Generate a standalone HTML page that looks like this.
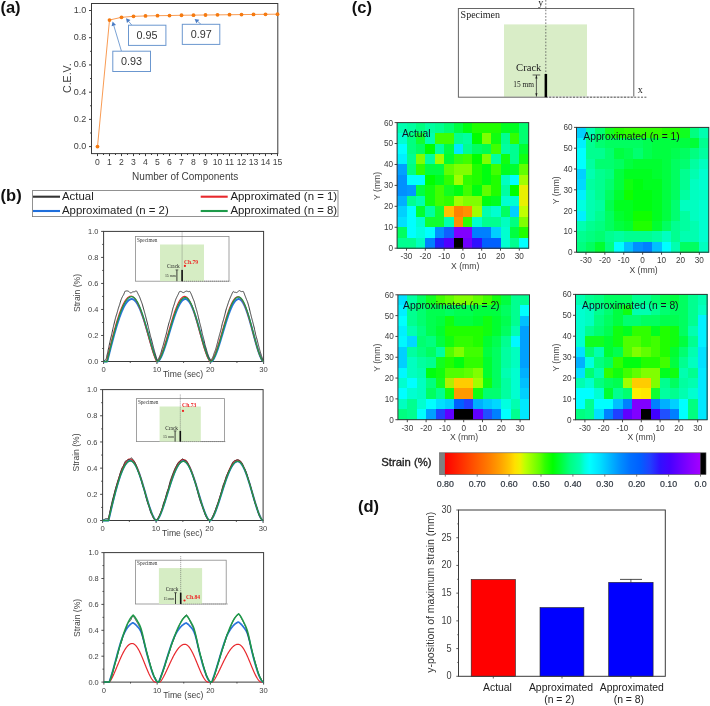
<!DOCTYPE html>
<html><head><meta charset="utf-8"><style>html,body{margin:0;padding:0;background:#fff;}svg{display:block;will-change:transform;font-family:"Liberation Sans",sans-serif;}</style></head>
<body><svg width="710" height="706" viewBox="0 0 710 706" font-family="Liberation Sans, sans-serif">
<rect width="710" height="706" fill="#fff"/>
<text x="0.4" y="12.8" font-size="15.75" font-weight="bold" fill="#111" transform="translate(0.4,0) scale(1.05,1) translate(-0.4,0)">(a)</text>
<rect x="91.5" y="3.5" width="186.3" height="150.1" fill="none" stroke="#3a3a3a" stroke-width="1"/>
<line x1="89.0" y1="146.60" x2="91.5" y2="146.60" stroke="#3a3a3a" stroke-width="1"/>
<text x="86.2" y="149.10" font-size="9.0" fill="#404040" text-anchor="end">0.0</text>
<line x1="90.1" y1="132.99" x2="91.5" y2="132.99" stroke="#3a3a3a" stroke-width="1"/>
<line x1="89.0" y1="119.38" x2="91.5" y2="119.38" stroke="#3a3a3a" stroke-width="1"/>
<text x="86.2" y="121.88" font-size="9.0" fill="#404040" text-anchor="end">0.2</text>
<line x1="90.1" y1="105.77" x2="91.5" y2="105.77" stroke="#3a3a3a" stroke-width="1"/>
<line x1="89.0" y1="92.16" x2="91.5" y2="92.16" stroke="#3a3a3a" stroke-width="1"/>
<text x="86.2" y="94.66" font-size="9.0" fill="#404040" text-anchor="end">0.4</text>
<line x1="90.1" y1="78.55" x2="91.5" y2="78.55" stroke="#3a3a3a" stroke-width="1"/>
<line x1="89.0" y1="64.94" x2="91.5" y2="64.94" stroke="#3a3a3a" stroke-width="1"/>
<text x="86.2" y="67.44" font-size="9.0" fill="#404040" text-anchor="end">0.6</text>
<line x1="90.1" y1="51.33" x2="91.5" y2="51.33" stroke="#3a3a3a" stroke-width="1"/>
<line x1="89.0" y1="37.72" x2="91.5" y2="37.72" stroke="#3a3a3a" stroke-width="1"/>
<text x="86.2" y="40.22" font-size="9.0" fill="#404040" text-anchor="end">0.8</text>
<line x1="90.1" y1="24.11" x2="91.5" y2="24.11" stroke="#3a3a3a" stroke-width="1"/>
<line x1="89.0" y1="10.50" x2="91.5" y2="10.50" stroke="#3a3a3a" stroke-width="1"/>
<text x="86.2" y="13.00" font-size="9.0" fill="#404040" text-anchor="end">1.0</text>
<line x1="97.50" y1="153.6" x2="97.50" y2="156.1" stroke="#3a3a3a" stroke-width="1"/>
<text x="97.50" y="165.3" font-size="8.6" fill="#404040" text-anchor="middle">0</text>
<line x1="103.50" y1="153.6" x2="103.50" y2="155.0" stroke="#3a3a3a" stroke-width="1"/>
<line x1="109.50" y1="153.6" x2="109.50" y2="156.1" stroke="#3a3a3a" stroke-width="1"/>
<text x="109.50" y="165.3" font-size="8.6" fill="#404040" text-anchor="middle">1</text>
<line x1="115.50" y1="153.6" x2="115.50" y2="155.0" stroke="#3a3a3a" stroke-width="1"/>
<line x1="121.50" y1="153.6" x2="121.50" y2="156.1" stroke="#3a3a3a" stroke-width="1"/>
<text x="121.50" y="165.3" font-size="8.6" fill="#404040" text-anchor="middle">2</text>
<line x1="127.50" y1="153.6" x2="127.50" y2="155.0" stroke="#3a3a3a" stroke-width="1"/>
<line x1="133.50" y1="153.6" x2="133.50" y2="156.1" stroke="#3a3a3a" stroke-width="1"/>
<text x="133.50" y="165.3" font-size="8.6" fill="#404040" text-anchor="middle">3</text>
<line x1="139.50" y1="153.6" x2="139.50" y2="155.0" stroke="#3a3a3a" stroke-width="1"/>
<line x1="145.50" y1="153.6" x2="145.50" y2="156.1" stroke="#3a3a3a" stroke-width="1"/>
<text x="145.50" y="165.3" font-size="8.6" fill="#404040" text-anchor="middle">4</text>
<line x1="151.50" y1="153.6" x2="151.50" y2="155.0" stroke="#3a3a3a" stroke-width="1"/>
<line x1="157.50" y1="153.6" x2="157.50" y2="156.1" stroke="#3a3a3a" stroke-width="1"/>
<text x="157.50" y="165.3" font-size="8.6" fill="#404040" text-anchor="middle">5</text>
<line x1="163.50" y1="153.6" x2="163.50" y2="155.0" stroke="#3a3a3a" stroke-width="1"/>
<line x1="169.50" y1="153.6" x2="169.50" y2="156.1" stroke="#3a3a3a" stroke-width="1"/>
<text x="169.50" y="165.3" font-size="8.6" fill="#404040" text-anchor="middle">6</text>
<line x1="175.50" y1="153.6" x2="175.50" y2="155.0" stroke="#3a3a3a" stroke-width="1"/>
<line x1="181.50" y1="153.6" x2="181.50" y2="156.1" stroke="#3a3a3a" stroke-width="1"/>
<text x="181.50" y="165.3" font-size="8.6" fill="#404040" text-anchor="middle">7</text>
<line x1="187.50" y1="153.6" x2="187.50" y2="155.0" stroke="#3a3a3a" stroke-width="1"/>
<line x1="193.50" y1="153.6" x2="193.50" y2="156.1" stroke="#3a3a3a" stroke-width="1"/>
<text x="193.50" y="165.3" font-size="8.6" fill="#404040" text-anchor="middle">8</text>
<line x1="199.50" y1="153.6" x2="199.50" y2="155.0" stroke="#3a3a3a" stroke-width="1"/>
<line x1="205.50" y1="153.6" x2="205.50" y2="156.1" stroke="#3a3a3a" stroke-width="1"/>
<text x="205.50" y="165.3" font-size="8.6" fill="#404040" text-anchor="middle">9</text>
<line x1="211.50" y1="153.6" x2="211.50" y2="155.0" stroke="#3a3a3a" stroke-width="1"/>
<line x1="217.50" y1="153.6" x2="217.50" y2="156.1" stroke="#3a3a3a" stroke-width="1"/>
<text x="217.50" y="165.3" font-size="8.6" fill="#404040" text-anchor="middle">10</text>
<line x1="223.50" y1="153.6" x2="223.50" y2="155.0" stroke="#3a3a3a" stroke-width="1"/>
<line x1="229.50" y1="153.6" x2="229.50" y2="156.1" stroke="#3a3a3a" stroke-width="1"/>
<text x="229.50" y="165.3" font-size="8.6" fill="#404040" text-anchor="middle">11</text>
<line x1="235.50" y1="153.6" x2="235.50" y2="155.0" stroke="#3a3a3a" stroke-width="1"/>
<line x1="241.50" y1="153.6" x2="241.50" y2="156.1" stroke="#3a3a3a" stroke-width="1"/>
<text x="241.50" y="165.3" font-size="8.6" fill="#404040" text-anchor="middle">12</text>
<line x1="247.50" y1="153.6" x2="247.50" y2="155.0" stroke="#3a3a3a" stroke-width="1"/>
<line x1="253.50" y1="153.6" x2="253.50" y2="156.1" stroke="#3a3a3a" stroke-width="1"/>
<text x="253.50" y="165.3" font-size="8.6" fill="#404040" text-anchor="middle">13</text>
<line x1="259.50" y1="153.6" x2="259.50" y2="155.0" stroke="#3a3a3a" stroke-width="1"/>
<line x1="265.50" y1="153.6" x2="265.50" y2="156.1" stroke="#3a3a3a" stroke-width="1"/>
<text x="265.50" y="165.3" font-size="8.6" fill="#404040" text-anchor="middle">14</text>
<line x1="271.50" y1="153.6" x2="271.50" y2="155.0" stroke="#3a3a3a" stroke-width="1"/>
<line x1="277.50" y1="153.6" x2="277.50" y2="156.1" stroke="#3a3a3a" stroke-width="1"/>
<text x="277.50" y="165.3" font-size="8.6" fill="#404040" text-anchor="middle">15</text>
<text x="185.2" y="180.3" font-size="10" fill="#404040" text-anchor="middle">Number of Components</text>
<text transform="translate(70.6,78.2) rotate(-90)" font-size="10.6" fill="#404040" text-anchor="middle">C.E.V.</text>
<polyline points="97.50,146.60 109.50,20.03 121.50,17.31 133.50,16.35 145.50,15.94 157.50,15.67 169.50,15.54 181.50,15.26 193.50,15.13 205.50,14.99 217.50,14.86 229.50,14.72 241.50,14.58 253.50,14.45 265.50,14.31 277.50,14.17" fill="none" stroke="#f79040" stroke-width="0.9"/>
<circle cx="97.50" cy="146.60" r="1.9" fill="#f57a10"/>
<circle cx="109.50" cy="20.03" r="1.9" fill="#f57a10"/>
<circle cx="121.50" cy="17.31" r="1.9" fill="#f57a10"/>
<circle cx="133.50" cy="16.35" r="1.9" fill="#f57a10"/>
<circle cx="145.50" cy="15.94" r="1.9" fill="#f57a10"/>
<circle cx="157.50" cy="15.67" r="1.9" fill="#f57a10"/>
<circle cx="169.50" cy="15.54" r="1.9" fill="#f57a10"/>
<circle cx="181.50" cy="15.26" r="1.9" fill="#f57a10"/>
<circle cx="193.50" cy="15.13" r="1.9" fill="#f57a10"/>
<circle cx="205.50" cy="14.99" r="1.9" fill="#f57a10"/>
<circle cx="217.50" cy="14.86" r="1.9" fill="#f57a10"/>
<circle cx="229.50" cy="14.72" r="1.9" fill="#f57a10"/>
<circle cx="241.50" cy="14.58" r="1.9" fill="#f57a10"/>
<circle cx="253.50" cy="14.45" r="1.9" fill="#f57a10"/>
<circle cx="265.50" cy="14.31" r="1.9" fill="#f57a10"/>
<circle cx="277.50" cy="14.17" r="1.9" fill="#f57a10"/>
<line x1="121.4" y1="51.0" x2="113.80" y2="25.62" stroke="#6b97cf" stroke-width="0.9"/>
<polygon points="112.6,21.6 116.01,24.96 111.60,26.28" fill="#4a7cc4"/>
<line x1="131.7" y1="25.0" x2="128.70" y2="21.42" stroke="#6b97cf" stroke-width="0.9"/>
<polygon points="126.0,18.2 130.46,19.94 126.94,22.90" fill="#4a7cc4"/>
<line x1="200.9" y1="24.2" x2="197.81" y2="21.60" stroke="#6b97cf" stroke-width="0.9"/>
<polygon points="194.6,18.9 199.29,19.84 196.33,23.36" fill="#4a7cc4"/>
<rect x="112.8" y="51.2" width="37.7" height="20.299999999999997" fill="#fff" stroke="#6b97cf" stroke-width="1"/>
<text x="120.9" y="65.1" font-size="10.8" fill="#333">0.93</text>
<rect x="128.5" y="25.2" width="37.400000000000006" height="20.2" fill="#fff" stroke="#6b97cf" stroke-width="1"/>
<text x="136.6" y="38.8" font-size="10.8" fill="#333">0.95</text>
<rect x="182.3" y="24.3" width="37.5" height="20.099999999999998" fill="#fff" stroke="#6b97cf" stroke-width="1"/>
<text x="190.8" y="37.8" font-size="10.8" fill="#333">0.97</text>
<text x="0.6" y="201.1" font-size="15.75" font-weight="bold" fill="#111" transform="translate(0.6,0) scale(1.05,1) translate(-0.6,0)">(b)</text>
<rect x="32.5" y="190.6" width="305.5" height="26" fill="#fff" stroke="#777" stroke-width="0.8"/>
<line x1="33" y1="196.7" x2="60" y2="196.7" stroke="#333333" stroke-width="2.1"/>
<text x="62" y="200.2" font-size="11.4" fill="#222">Actual</text>
<line x1="33" y1="211" x2="60" y2="211" stroke="#1f6fdc" stroke-width="2.1"/>
<text x="62" y="214.0" font-size="11.4" fill="#222">Approximated (n = 2)</text>
<line x1="200.7" y1="196.7" x2="227.7" y2="196.7" stroke="#e8282d" stroke-width="2.1"/>
<text x="230.4" y="200.2" font-size="11.4" fill="#222">Approximated (n = 1)</text>
<line x1="200.7" y1="211" x2="227.7" y2="211" stroke="#1e9a4a" stroke-width="2.1"/>
<text x="230.4" y="214.0" font-size="11.4" fill="#222">Approximated (n = 8)</text>
<rect x="103.6" y="231.4" width="160.00" height="130.10" fill="none" stroke="#3a3a3a" stroke-width="1"/>
<line x1="101.1" y1="361.50" x2="103.6" y2="361.50" stroke="#3a3a3a" stroke-width="0.9"/>
<text x="98.40" y="364.10" font-size="7.4" fill="#404040" text-anchor="end">0.0</text>
<line x1="102.19999999999999" y1="348.49" x2="103.6" y2="348.49" stroke="#3a3a3a" stroke-width="0.9"/>
<line x1="101.1" y1="335.48" x2="103.6" y2="335.48" stroke="#3a3a3a" stroke-width="0.9"/>
<text x="98.40" y="338.08" font-size="7.4" fill="#404040" text-anchor="end">0.2</text>
<line x1="102.19999999999999" y1="322.47" x2="103.6" y2="322.47" stroke="#3a3a3a" stroke-width="0.9"/>
<line x1="101.1" y1="309.46" x2="103.6" y2="309.46" stroke="#3a3a3a" stroke-width="0.9"/>
<text x="98.40" y="312.06" font-size="7.4" fill="#404040" text-anchor="end">0.4</text>
<line x1="102.19999999999999" y1="296.45" x2="103.6" y2="296.45" stroke="#3a3a3a" stroke-width="0.9"/>
<line x1="101.1" y1="283.44" x2="103.6" y2="283.44" stroke="#3a3a3a" stroke-width="0.9"/>
<text x="98.40" y="286.04" font-size="7.4" fill="#404040" text-anchor="end">0.6</text>
<line x1="102.19999999999999" y1="270.43" x2="103.6" y2="270.43" stroke="#3a3a3a" stroke-width="0.9"/>
<line x1="101.1" y1="257.42" x2="103.6" y2="257.42" stroke="#3a3a3a" stroke-width="0.9"/>
<text x="98.40" y="260.02" font-size="7.4" fill="#404040" text-anchor="end">0.8</text>
<line x1="102.19999999999999" y1="244.41" x2="103.6" y2="244.41" stroke="#3a3a3a" stroke-width="0.9"/>
<line x1="101.1" y1="231.40" x2="103.6" y2="231.40" stroke="#3a3a3a" stroke-width="0.9"/>
<text x="98.40" y="234.00" font-size="7.4" fill="#404040" text-anchor="end">1.0</text>
<line x1="103.60" y1="361.5" x2="103.60" y2="364.0" stroke="#3a3a3a" stroke-width="0.9"/>
<text x="103.60" y="372.20" font-size="7.6" fill="#404040" text-anchor="middle">0</text>
<line x1="130.27" y1="361.5" x2="130.27" y2="362.9" stroke="#3a3a3a" stroke-width="0.9"/>
<line x1="156.93" y1="361.5" x2="156.93" y2="364.0" stroke="#3a3a3a" stroke-width="0.9"/>
<text x="156.93" y="372.20" font-size="7.6" fill="#404040" text-anchor="middle">10</text>
<line x1="183.60" y1="361.5" x2="183.60" y2="362.9" stroke="#3a3a3a" stroke-width="0.9"/>
<line x1="210.27" y1="361.5" x2="210.27" y2="364.0" stroke="#3a3a3a" stroke-width="0.9"/>
<text x="210.27" y="372.20" font-size="7.6" fill="#404040" text-anchor="middle">20</text>
<line x1="236.93" y1="361.5" x2="236.93" y2="362.9" stroke="#3a3a3a" stroke-width="0.9"/>
<line x1="263.60" y1="361.5" x2="263.60" y2="364.0" stroke="#3a3a3a" stroke-width="0.9"/>
<text x="263.60" y="372.20" font-size="7.6" fill="#404040" text-anchor="middle">30</text>
<text x="162.93" y="377.30" font-size="8.6" fill="#404040">Time (sec)</text>
<text transform="translate(80.10,293.0) rotate(-90)" font-size="8.6" fill="#404040" text-anchor="middle">Strain (%)</text>
<rect x="135.4" y="236.5" width="93.60" height="44.70" fill="#fff" stroke="#8a8a8a" stroke-width="0.8"/>
<rect x="160.0" y="244.5" width="44.00" height="36.70" fill="#d6edc4"/>
<line x1="182.1" y1="232.5" x2="182.1" y2="281.2" stroke="#555" stroke-width="0.6" stroke-dasharray="1,1"/>
<line x1="182.1" y1="281.2" x2="230.5" y2="281.2" stroke="#555" stroke-width="0.6" stroke-dasharray="1,1"/>
<rect x="181.29999999999998" y="269.9" width="1.6" height="11.30" fill="#111"/>
<line x1="176.9" y1="269.9" x2="176.9" y2="281.2" stroke="#111" stroke-width="0.8"/>
<line x1="175.5" y1="269.9" x2="178.29999999999998" y2="269.9" stroke="#222" stroke-width="0.6"/>
<text x="136.9" y="241.8" font-family="Liberation Serif, serif" font-size="5.2" fill="#333">Specimen</text>
<text x="179.7" y="267.8" font-family="Liberation Serif, serif" font-size="5.3" fill="#222" text-anchor="end">Crack</text>
<text x="175.79999999999998" y="276.95" font-family="Liberation Serif, serif" font-size="3.9" fill="#222" text-anchor="end">15 mm</text>
<circle cx="184.9" cy="265.9" r="1.1" fill="#ee1c1c"/>
<text x="184.0" y="264.0" font-family="Liberation Serif, serif" font-size="5.6" fill="#ee2222" font-weight="bold">Ch.79</text>
<polyline points="103.60,361.50 103.87,361.50 104.13,361.50 104.40,361.50 104.67,361.50 104.93,361.50 105.20,361.50 105.47,361.50 105.73,361.50 106.00,361.50 106.27,361.50 106.53,361.50 106.80,361.50 107.07,361.50 107.33,361.07 107.60,360.01 107.87,358.94 108.13,357.88 108.40,356.81 108.67,355.75 108.93,354.69 109.20,353.63 109.47,352.57 109.73,351.52 110.00,350.47 110.27,349.42 110.53,348.38 110.80,347.34 111.07,346.30 111.33,345.27 111.60,344.24 111.87,343.22 112.13,342.20 112.40,341.19 112.67,340.19 112.93,339.19 113.20,338.19 113.47,337.21 113.73,336.23 114.00,335.26 114.27,334.30 114.53,333.34 114.80,332.39 115.07,331.45 115.33,330.52 115.60,329.60 115.87,328.69 116.13,327.79 116.40,326.89 116.67,326.01 116.93,325.14 117.20,324.28 117.47,323.43 117.73,322.59 118.00,321.76 118.27,320.94 118.53,320.14 118.80,319.35 119.07,318.57 119.33,317.80 119.60,317.04 119.87,316.30 120.13,315.57 120.40,314.86 120.67,314.15 120.93,313.46 121.20,312.79 121.47,312.13 121.73,311.48 122.00,310.85 122.27,310.24 122.53,309.64 122.80,309.05 123.07,308.48 123.33,307.92 123.60,307.38 123.87,306.86 124.13,306.35 124.40,305.86 124.67,305.38 124.93,304.92 125.20,304.48 125.47,304.05 125.73,303.64 126.00,303.25 126.27,302.88 126.53,302.52 126.80,302.17 127.07,301.85 127.33,301.54 127.60,301.25 127.87,300.98 128.13,300.73 128.40,300.49 128.67,300.27 128.93,300.07 129.20,299.89 129.47,299.72 129.73,299.58 130.00,299.45 130.27,299.34 130.53,299.24 130.80,299.17 131.07,299.11 131.33,299.08 131.60,299.06 131.87,299.05 132.13,299.07 132.40,299.12 132.67,299.18 132.93,299.27 133.20,299.37 133.47,299.50 133.73,299.66 134.00,299.83 134.27,300.02 134.53,300.24 134.80,300.48 135.07,300.74 135.33,301.02 135.60,301.32 135.87,301.65 136.13,301.99 136.40,302.35 136.67,302.74 136.93,303.14 137.20,303.57 137.47,304.01 137.73,304.47 138.00,304.96 138.27,305.46 138.53,305.98 138.80,306.52 139.07,307.07 139.33,307.65 139.60,308.24 139.87,308.85 140.13,309.47 140.40,310.12 140.67,310.78 140.93,311.45 141.20,312.14 141.47,312.84 141.73,313.56 142.00,314.29 142.27,315.04 142.53,315.80 142.80,316.57 143.07,317.36 143.33,318.15 143.60,318.96 143.87,319.78 144.13,320.61 144.40,321.45 144.67,322.30 144.93,323.16 145.20,324.03 145.47,324.90 145.73,325.78 146.00,326.67 146.27,327.57 146.53,328.47 146.80,329.38 147.07,330.29 147.33,331.21 147.60,332.13 147.87,333.05 148.13,333.97 148.40,334.90 148.67,335.83 148.93,336.75 149.20,337.68 149.47,338.61 149.73,339.53 150.00,340.46 150.27,341.38 150.53,342.29 150.80,343.20 151.07,344.11 151.33,345.01 151.60,345.90 151.87,346.79 152.13,347.67 152.40,348.53 152.67,349.39 152.93,350.24 153.20,351.07 153.47,351.89 153.73,352.70 154.00,353.49 154.27,354.26 154.53,355.02 154.80,355.75 155.07,356.47 155.33,357.16 155.60,357.82 155.87,358.46 156.13,359.06 156.40,359.63 156.67,360.15 156.93,360.63 157.20,361.05 157.47,361.38 157.73,361.48 158.00,361.37 158.27,361.19 158.53,360.96 158.80,360.69 159.07,360.37 159.33,360.02 159.60,359.63 159.87,359.21 160.13,358.77 160.40,358.29 160.67,357.79 160.93,357.26 161.20,356.71 161.47,356.13 161.73,355.53 162.00,354.91 162.27,354.27 162.53,353.62 162.80,352.94 163.07,352.24 163.33,351.53 163.60,350.81 163.87,350.06 164.13,349.31 164.40,348.54 164.67,347.76 164.93,346.96 165.20,346.16 165.47,345.34 165.73,344.52 166.00,343.68 166.27,342.84 166.53,341.99 166.80,341.13 167.07,340.27 167.33,339.40 167.60,338.52 167.87,337.64 168.13,336.76 168.40,335.88 168.67,334.99 168.93,334.10 169.20,333.22 169.47,332.33 169.73,331.44 170.00,330.55 170.27,329.67 170.53,328.78 170.80,327.90 171.07,327.03 171.33,326.15 171.60,325.29 171.87,324.42 172.13,323.57 172.40,322.72 172.67,321.88 172.93,321.04 173.20,320.22 173.47,319.40 173.73,318.59 174.00,317.80 174.27,317.01 174.53,316.24 174.80,315.47 175.07,314.72 175.33,313.98 175.60,313.25 175.87,312.54 176.13,311.84 176.40,311.16 176.67,310.49 176.93,309.84 177.20,309.20 177.47,308.58 177.73,307.97 178.00,307.39 178.27,306.82 178.53,306.26 178.80,305.73 179.07,305.21 179.33,304.72 179.60,304.24 179.87,303.78 180.13,303.34 180.40,302.92 180.67,302.52 180.93,302.15 181.20,301.79 181.47,301.45 181.73,301.14 182.00,300.85 182.27,300.57 182.53,300.32 182.80,300.10 183.07,299.89 183.33,299.71 183.60,299.55 183.87,299.41 184.13,299.29 184.40,299.20 184.67,299.13 184.93,299.08 185.20,299.06 185.47,299.05 185.73,299.08 186.00,299.13 186.27,299.20 186.53,299.31 186.80,299.43 187.07,299.59 187.33,299.77 187.60,299.97 187.87,300.20 188.13,300.46 188.40,300.74 188.67,301.05 188.93,301.38 189.20,301.73 189.47,302.11 189.73,302.52 190.00,302.95 190.27,303.40 190.53,303.87 190.80,304.37 191.07,304.89 191.33,305.43 191.60,305.99 191.87,306.57 192.13,307.17 192.40,307.80 192.67,308.44 192.93,309.11 193.20,309.79 193.47,310.49 193.73,311.20 194.00,311.94 194.27,312.69 194.53,313.46 194.80,314.24 195.07,315.04 195.33,315.85 195.60,316.68 195.87,317.52 196.13,318.37 196.40,319.23 196.67,320.10 196.93,320.99 197.20,321.88 197.47,322.78 197.73,323.70 198.00,324.61 198.27,325.54 198.53,326.47 198.80,327.41 199.07,328.35 199.33,329.30 199.60,330.24 199.87,331.19 200.13,332.15 200.40,333.10 200.67,334.05 200.93,335.01 201.20,335.96 201.47,336.90 201.73,337.85 202.00,338.79 202.27,339.72 202.53,340.65 202.80,341.58 203.07,342.49 203.33,343.40 203.60,344.30 203.87,345.18 204.13,346.06 204.40,346.92 204.67,347.78 204.93,348.61 205.20,349.44 205.47,350.24 205.73,351.04 206.00,351.81 206.27,352.56 206.53,353.30 206.80,354.01 207.07,354.71 207.33,355.38 207.60,356.02 207.87,356.64 208.13,357.24 208.40,357.81 208.67,358.34 208.93,358.85 209.20,359.32 209.47,359.76 209.73,360.16 210.00,360.52 210.27,360.84 210.53,361.11 210.80,361.32 211.07,361.46 211.33,361.48 211.60,361.37 211.87,361.19 212.13,360.95 212.40,360.67 212.67,360.35 212.93,359.99 213.20,359.60 213.47,359.18 213.73,358.72 214.00,358.24 214.27,357.73 214.53,357.19 214.80,356.63 215.07,356.05 215.33,355.44 215.60,354.81 215.87,354.16 216.13,353.50 216.40,352.81 216.67,352.10 216.93,351.38 217.20,350.65 217.47,349.89 217.73,349.13 218.00,348.35 218.27,347.55 218.53,346.75 218.80,345.93 219.07,345.11 219.33,344.27 219.60,343.42 219.87,342.57 220.13,341.71 220.40,340.84 220.67,339.97 220.93,339.09 221.20,338.20 221.47,337.32 221.73,336.43 222.00,335.53 222.27,334.64 222.53,333.74 222.80,332.84 223.07,331.94 223.33,331.05 223.60,330.15 223.87,329.26 224.13,328.37 224.40,327.48 224.67,326.60 224.93,325.72 225.20,324.85 225.47,323.98 225.73,323.12 226.00,322.27 226.27,321.42 226.53,320.58 226.80,319.75 227.07,318.94 227.33,318.13 227.60,317.33 227.87,316.54 228.13,315.76 228.40,315.00 228.67,314.25 228.93,313.51 229.20,312.79 229.47,312.08 229.73,311.38 230.00,310.70 230.27,310.04 230.53,309.39 230.80,308.76 231.07,308.14 231.33,307.54 231.60,306.96 231.87,306.40 232.13,305.85 232.40,305.33 232.67,304.82 232.93,304.34 233.20,303.87 233.47,303.42 233.73,303.00 234.00,302.59 234.27,302.21 234.53,301.84 234.80,301.50 235.07,301.18 235.33,300.88 235.60,300.60 235.87,300.35 236.13,300.12 236.40,299.91 236.67,299.72 236.93,299.56 237.20,299.42 237.47,299.30 237.73,299.20 238.00,299.13 238.27,299.08 238.53,299.06 238.80,299.05 239.07,299.08 239.33,299.13 239.60,299.22 239.87,299.33 240.13,299.46 240.40,299.63 240.67,299.82 240.93,300.04 241.20,300.29 241.47,300.57 241.73,300.87 242.00,301.20 242.27,301.56 242.53,301.94 242.80,302.35 243.07,302.79 243.33,303.25 243.60,303.73 243.87,304.24 244.13,304.77 244.40,305.33 244.67,305.91 244.93,306.51 245.20,307.14 245.47,307.79 245.73,308.45 246.00,309.14 246.27,309.85 246.53,310.58 246.80,311.33 247.07,312.10 247.33,312.88 247.60,313.68 247.87,314.50 248.13,315.33 248.40,316.18 248.67,317.05 248.93,317.92 249.20,318.81 249.47,319.72 249.73,320.63 250.00,321.55 250.27,322.49 250.53,323.43 250.80,324.38 251.07,325.34 251.33,326.31 251.60,327.28 251.87,328.26 252.13,329.24 252.40,330.23 252.67,331.21 252.93,332.20 253.20,333.19 253.47,334.18 253.73,335.17 254.00,336.16 254.27,337.14 254.53,338.12 254.80,339.10 255.07,340.07 255.33,341.03 255.60,341.98 255.87,342.93 256.13,343.87 256.40,344.79 256.67,345.71 256.93,346.61 257.20,347.50 257.47,348.37 257.73,349.23 258.00,350.08 258.27,350.90 258.53,351.71 258.80,352.49 259.07,353.26 259.33,354.00 259.60,354.72 259.87,355.42 260.13,356.09 260.40,356.73 260.67,357.34 260.93,357.92 261.20,358.47 261.47,358.99 261.73,359.47 262.00,359.91 262.27,360.31 262.53,360.67 262.80,360.98 263.07,361.23 263.33,361.41 263.60,361.50" fill="none" stroke="#2a74dc" stroke-width="2.0" stroke-linejoin="round"/>
<polyline points="103.60,361.50 103.87,361.50 104.13,361.50 104.40,361.50 104.67,361.50 104.93,361.50 105.20,361.50 105.47,361.50 105.73,361.50 106.00,361.50 106.27,361.50 106.53,361.50 106.80,360.38 107.07,359.27 107.33,358.16 107.60,357.04 107.87,355.93 108.13,354.82 108.40,353.71 108.67,352.61 108.93,351.50 109.20,350.40 109.47,349.31 109.73,348.21 110.00,347.12 110.27,346.04 110.53,344.96 110.80,343.88 111.07,342.81 111.33,341.74 111.60,340.68 111.87,339.63 112.13,338.58 112.40,337.54 112.67,336.51 112.93,335.48 113.20,334.46 113.47,333.45 113.73,332.45 114.00,331.45 114.27,330.47 114.53,329.49 114.80,328.52 115.07,327.57 115.33,326.62 115.60,325.68 115.87,324.75 116.13,323.84 116.40,322.93 116.67,322.04 116.93,321.15 117.20,320.28 117.47,319.42 117.73,318.58 118.00,317.74 118.27,316.92 118.53,316.11 118.80,315.32 119.07,314.54 119.33,313.77 119.60,313.01 119.87,312.27 120.13,311.55 120.40,310.84 120.67,310.14 120.93,309.46 121.20,308.79 121.47,308.14 121.73,307.51 122.00,306.89 122.27,306.29 122.53,305.70 122.80,305.13 123.07,304.57 123.33,304.03 123.60,303.51 123.87,303.01 124.13,302.52 124.40,302.05 124.67,301.60 124.93,301.16 125.20,300.74 125.47,300.34 125.73,299.96 126.00,299.60 126.27,299.25 126.53,298.92 126.80,298.61 127.07,298.32 127.33,298.05 127.60,297.79 127.87,297.56 128.13,297.34 128.40,297.14 128.67,296.96 128.93,296.80 129.20,296.66 129.47,296.53 129.73,296.43 130.00,296.34 130.27,296.28 130.53,296.23 130.80,296.20 131.07,296.19 131.33,296.20 131.60,296.24 131.87,296.29 132.13,296.37 132.40,296.48 132.67,296.61 132.93,296.76 133.20,296.93 133.47,297.12 133.73,297.34 134.00,297.58 134.27,297.84 134.53,298.13 134.80,298.44 135.07,298.76 135.33,299.12 135.60,299.49 135.87,299.88 136.13,300.30 136.40,300.73 136.67,301.19 136.93,301.66 137.20,302.16 137.47,302.68 137.73,303.21 138.00,303.77 138.27,304.34 138.53,304.94 138.80,305.55 139.07,306.18 139.33,306.83 139.60,307.49 139.87,308.17 140.13,308.87 140.40,309.59 140.67,310.32 140.93,311.06 141.20,311.82 141.47,312.60 141.73,313.39 142.00,314.19 142.27,315.00 142.53,315.83 142.80,316.67 143.07,317.53 143.33,318.39 143.60,319.26 143.87,320.15 144.13,321.04 144.40,321.95 144.67,322.86 144.93,323.78 145.20,324.71 145.47,325.64 145.73,326.58 146.00,327.53 146.27,328.48 146.53,329.44 146.80,330.40 147.07,331.36 147.33,332.32 147.60,333.29 147.87,334.26 148.13,335.23 148.40,336.20 148.67,337.17 148.93,338.14 149.20,339.11 149.47,340.07 149.73,341.03 150.00,341.98 150.27,342.93 150.53,343.88 150.80,344.82 151.07,345.75 151.33,346.67 151.60,347.58 151.87,348.48 152.13,349.37 152.40,350.25 152.67,351.11 152.93,351.96 153.20,352.79 153.47,353.61 153.73,354.41 154.00,355.18 154.27,355.94 154.53,356.67 154.80,357.38 155.07,358.05 155.33,358.70 155.60,359.31 155.87,359.88 156.13,360.40 156.40,360.86 156.67,361.25 156.93,361.50 157.20,361.42 157.47,361.26 157.73,361.04 158.00,360.77 158.27,360.46 158.53,360.11 158.80,359.72 159.07,359.30 159.33,358.84 159.60,358.36 159.87,357.85 160.13,357.31 160.40,356.74 160.67,356.15 160.93,355.54 161.20,354.90 161.47,354.24 161.73,353.56 162.00,352.87 162.27,352.15 162.53,351.42 162.80,350.67 163.07,349.90 163.33,349.12 163.60,348.32 163.87,347.51 164.13,346.69 164.40,345.85 164.67,345.01 164.93,344.15 165.20,343.29 165.47,342.41 165.73,341.53 166.00,340.64 166.27,339.74 166.53,338.84 166.80,337.93 167.07,337.02 167.33,336.10 167.60,335.18 167.87,334.26 168.13,333.33 168.40,332.41 168.67,331.48 168.93,330.56 169.20,329.63 169.47,328.71 169.73,327.79 170.00,326.87 170.27,325.95 170.53,325.04 170.80,324.14 171.07,323.24 171.33,322.34 171.60,321.46 171.87,320.58 172.13,319.71 172.40,318.84 172.67,317.99 172.93,317.14 173.20,316.31 173.47,315.48 173.73,314.67 174.00,313.87 174.27,313.08 174.53,312.31 174.80,311.55 175.07,310.80 175.33,310.06 175.60,309.35 175.87,308.64 176.13,307.96 176.40,307.28 176.67,306.63 176.93,305.99 177.20,305.37 177.47,304.77 177.73,304.19 178.00,303.63 178.27,303.08 178.53,302.55 178.80,302.05 179.07,301.56 179.33,301.10 179.60,300.65 179.87,300.23 180.13,299.83 180.40,299.45 180.67,299.09 180.93,298.75 181.20,298.44 181.47,298.15 181.73,297.88 182.00,297.63 182.27,297.41 182.53,297.21 182.80,297.03 183.07,296.88 183.33,296.75 183.60,296.64 183.87,296.56 184.13,296.50 184.40,296.46 184.67,296.45 184.93,296.46 185.20,296.50 185.47,296.57 185.73,296.67 186.00,296.79 186.27,296.94 186.53,297.12 186.80,297.32 187.07,297.55 187.33,297.81 187.60,298.09 187.87,298.40 188.13,298.73 188.40,299.09 188.67,299.48 188.93,299.89 189.20,300.32 189.47,300.78 189.73,301.27 190.00,301.78 190.27,302.31 190.53,302.86 190.80,303.44 191.07,304.04 191.33,304.66 191.60,305.30 191.87,305.96 192.13,306.64 192.40,307.35 192.67,308.07 192.93,308.81 193.20,309.57 193.47,310.34 193.73,311.14 194.00,311.94 194.27,312.77 194.53,313.61 194.80,314.46 195.07,315.33 195.33,316.21 195.60,317.11 195.87,318.01 196.13,318.93 196.40,319.86 196.67,320.79 196.93,321.74 197.20,322.69 197.47,323.66 197.73,324.62 198.00,325.60 198.27,326.58 198.53,327.56 198.80,328.55 199.07,329.54 199.33,330.53 199.60,331.52 199.87,332.51 200.13,333.50 200.40,334.50 200.67,335.48 200.93,336.47 201.20,337.45 201.47,338.43 201.73,339.40 202.00,340.36 202.27,341.32 202.53,342.27 202.80,343.21 203.07,344.13 203.33,345.05 203.60,345.96 203.87,346.85 204.13,347.73 204.40,348.59 204.67,349.44 204.93,350.27 205.20,351.08 205.47,351.88 205.73,352.65 206.00,353.41 206.27,354.14 206.53,354.85 206.80,355.53 207.07,356.19 207.33,356.82 207.60,357.42 207.87,357.99 208.13,358.53 208.40,359.04 208.67,359.51 208.93,359.94 209.20,360.34 209.47,360.69 209.73,360.99 210.00,361.23 210.27,361.41 210.53,361.50 210.80,361.42 211.07,361.26 211.33,361.04 211.60,360.76 211.87,360.45 212.13,360.09 212.40,359.70 212.67,359.28 212.93,358.82 213.20,358.33 213.47,357.81 213.73,357.27 214.00,356.70 214.27,356.10 214.53,355.48 214.80,354.84 215.07,354.18 215.33,353.49 215.60,352.79 215.87,352.07 216.13,351.33 216.40,350.57 216.67,349.80 216.93,349.01 217.20,348.21 217.47,347.39 217.73,346.56 218.00,345.72 218.27,344.87 218.53,344.01 218.80,343.14 219.07,342.25 219.33,341.37 219.60,340.47 219.87,339.57 220.13,338.66 220.40,337.75 220.67,336.83 220.93,335.91 221.20,334.98 221.47,334.06 221.73,333.13 222.00,332.20 222.27,331.27 222.53,330.34 222.80,329.41 223.07,328.49 223.33,327.56 223.60,326.64 223.87,325.73 224.13,324.82 224.40,323.91 224.67,323.01 224.93,322.12 225.20,321.23 225.47,320.35 225.73,319.48 226.00,318.62 226.27,317.77 226.53,316.92 226.80,316.09 227.07,315.27 227.33,314.46 227.60,313.67 227.87,312.89 228.13,312.12 228.40,311.36 228.67,310.62 228.93,309.89 229.20,309.18 229.47,308.49 229.73,307.81 230.00,307.15 230.27,306.50 230.53,305.88 230.80,305.27 231.07,304.68 231.33,304.11 231.60,303.56 231.87,303.02 232.13,302.51 232.40,302.02 232.67,301.55 232.93,301.10 233.20,300.67 233.47,300.26 233.73,299.88 234.00,299.51 234.27,299.17 234.53,298.85 234.80,298.56 235.07,298.29 235.33,298.04 235.60,297.81 235.87,297.61 236.13,297.43 236.40,297.27 236.67,297.14 236.93,297.03 237.20,296.95 237.47,296.89 237.73,296.85 238.00,296.84 238.27,296.85 238.53,296.90 238.80,296.96 239.07,297.06 239.33,297.19 239.60,297.34 239.87,297.52 240.13,297.72 240.40,297.96 240.67,298.22 240.93,298.50 241.20,298.82 241.47,299.16 241.73,299.52 242.00,299.91 242.27,300.33 242.53,300.77 242.80,301.24 243.07,301.73 243.33,302.24 243.60,302.78 243.87,303.34 244.13,303.93 244.40,304.53 244.67,305.16 244.93,305.81 245.20,306.48 245.47,307.17 245.73,307.89 246.00,308.62 246.27,309.37 246.53,310.13 246.80,310.92 247.07,311.72 247.33,312.54 247.60,313.37 247.87,314.22 248.13,315.09 248.40,315.96 248.67,316.85 248.93,317.76 249.20,318.67 249.47,319.60 249.73,320.53 250.00,321.48 250.27,322.43 250.53,323.39 250.80,324.36 251.07,325.34 251.33,326.32 251.60,327.30 251.87,328.29 252.13,329.29 252.40,330.28 252.67,331.28 252.93,332.28 253.20,333.27 253.47,334.27 253.73,335.26 254.00,336.25 254.27,337.24 254.53,338.22 254.80,339.20 255.07,340.17 255.33,341.13 255.60,342.09 255.87,343.03 256.13,343.97 256.40,344.90 256.67,345.81 256.93,346.71 257.20,347.59 257.47,348.47 257.73,349.32 258.00,350.16 258.27,350.98 258.53,351.78 258.80,352.56 259.07,353.32 259.33,354.06 259.60,354.78 259.87,355.47 260.13,356.13 260.40,356.77 260.67,357.38 260.93,357.95 261.20,358.50 261.47,359.01 261.73,359.49 262.00,359.93 262.27,360.32 262.53,360.68 262.80,360.98 263.07,361.23 263.33,361.41 263.60,361.50" fill="none" stroke="#e8282d" stroke-width="1.2" stroke-linejoin="round"/>
<polyline points="103.60,361.50 103.87,361.50 104.13,361.50 104.40,361.50 104.67,361.50 104.93,361.50 105.20,361.50 105.47,361.50 105.73,361.50 106.00,361.50 106.27,361.50 106.53,361.50 106.80,361.50 107.07,361.50 107.33,360.39 107.60,359.29 107.87,358.18 108.13,357.08 108.40,355.98 108.67,354.87 108.93,353.77 109.20,352.68 109.47,351.58 109.73,350.49 110.00,349.40 110.27,348.32 110.53,347.24 110.80,346.16 111.07,345.09 111.33,344.02 111.60,342.96 111.87,341.90 112.13,340.85 112.40,339.80 112.67,338.76 112.93,337.73 113.20,336.71 113.47,335.69 113.73,334.68 114.00,333.67 114.27,332.68 114.53,331.69 114.80,330.71 115.07,329.75 115.33,328.79 115.60,327.84 115.87,326.90 116.13,325.97 116.40,325.05 116.67,324.14 116.93,323.24 117.20,322.35 117.47,321.48 117.73,320.61 118.00,319.76 118.27,318.92 118.53,318.09 118.80,317.28 119.07,316.48 119.33,315.69 119.60,314.91 119.87,314.15 120.13,313.40 120.40,312.67 120.67,311.95 120.93,311.24 121.20,310.55 121.47,309.88 121.73,309.21 122.00,308.57 122.27,307.94 122.53,307.32 122.80,306.73 123.07,306.14 123.33,305.58 123.60,305.03 123.87,304.49 124.13,303.97 124.40,303.47 124.67,302.99 124.93,302.52 125.20,302.07 125.47,301.64 125.73,301.23 126.00,300.83 126.27,300.45 126.53,300.09 126.80,299.75 127.07,299.42 127.33,299.11 127.60,298.82 127.87,298.55 128.13,298.30 128.40,298.07 128.67,297.85 128.93,297.65 129.20,297.47 129.47,297.31 129.73,297.17 130.00,297.05 130.27,296.95 130.53,296.86 130.80,296.80 131.07,296.75 131.33,296.72 131.60,296.71 131.87,296.72 132.13,296.76 132.40,296.81 132.67,296.89 132.93,297.00 133.20,297.12 133.47,297.27 133.73,297.44 134.00,297.64 134.27,297.85 134.53,298.09 134.80,298.35 135.07,298.63 135.33,298.94 135.60,299.26 135.87,299.61 136.13,299.98 136.40,300.37 136.67,300.78 136.93,301.22 137.20,301.67 137.47,302.14 137.73,302.63 138.00,303.15 138.27,303.68 138.53,304.23 138.80,304.80 139.07,305.39 139.33,306.00 139.60,306.62 139.87,307.26 140.13,307.92 140.40,308.60 140.67,309.29 140.93,310.00 141.20,310.72 141.47,311.46 141.73,312.22 142.00,312.99 142.27,313.77 142.53,314.57 142.80,315.37 143.07,316.20 143.33,317.03 143.60,317.88 143.87,318.73 144.13,319.60 144.40,320.48 144.67,321.36 144.93,322.26 145.20,323.17 145.47,324.08 145.73,325.00 146.00,325.93 146.27,326.86 146.53,327.80 146.80,328.74 147.07,329.69 147.33,330.64 147.60,331.60 147.87,332.56 148.13,333.52 148.40,334.48 148.67,335.44 148.93,336.40 149.20,337.37 149.47,338.33 149.73,339.28 150.00,340.24 150.27,341.19 150.53,342.14 150.80,343.08 151.07,344.02 151.33,344.95 151.60,345.87 151.87,346.78 152.13,347.69 152.40,348.58 152.67,349.47 152.93,350.34 153.20,351.19 153.47,352.04 153.73,352.86 154.00,353.67 154.27,354.46 154.53,355.24 154.80,355.98 155.07,356.71 155.33,357.41 155.60,358.08 155.87,358.72 156.13,359.33 156.40,359.89 156.67,360.41 156.93,360.87 157.20,361.25 157.47,361.50 157.73,361.42 158.00,361.26 158.27,361.05 158.53,360.78 158.80,360.48 159.07,360.13 159.33,359.75 159.60,359.33 159.87,358.89 160.13,358.41 160.40,357.90 160.67,357.37 160.93,356.82 161.20,356.23 161.47,355.63 161.73,355.00 162.00,354.36 162.27,353.69 162.53,353.00 162.80,352.30 163.07,351.58 163.33,350.84 163.60,350.08 163.87,349.31 164.13,348.53 164.40,347.73 164.67,346.93 164.93,346.10 165.20,345.27 165.47,344.43 165.73,343.58 166.00,342.72 166.27,341.85 166.53,340.97 166.80,340.09 167.07,339.20 167.33,338.31 167.60,337.41 167.87,336.51 168.13,335.60 168.40,334.69 168.67,333.78 168.93,332.87 169.20,331.96 169.47,331.05 169.73,330.14 170.00,329.23 170.27,328.33 170.53,327.42 170.80,326.52 171.07,325.63 171.33,324.74 171.60,323.85 171.87,322.97 172.13,322.10 172.40,321.23 172.67,320.37 172.93,319.52 173.20,318.68 173.47,317.85 173.73,317.03 174.00,316.22 174.27,315.42 174.53,314.63 174.80,313.86 175.07,313.09 175.33,312.34 175.60,311.61 175.87,310.89 176.13,310.18 176.40,309.49 176.67,308.81 176.93,308.15 177.20,307.51 177.47,306.88 177.73,306.27 178.00,305.68 178.27,305.11 178.53,304.55 178.80,304.02 179.07,303.50 179.33,303.00 179.60,302.52 179.87,302.06 180.13,301.63 180.40,301.21 180.67,300.82 180.93,300.44 181.20,300.09 181.47,299.76 181.73,299.45 182.00,299.16 182.27,298.90 182.53,298.65 182.80,298.43 183.07,298.24 183.33,298.06 183.60,297.91 183.87,297.78 184.13,297.68 184.40,297.60 184.67,297.54 184.93,297.50 185.20,297.49 185.47,297.50 185.73,297.54 186.00,297.61 186.27,297.71 186.53,297.83 186.80,297.97 187.07,298.15 187.33,298.35 187.60,298.57 187.87,298.83 188.13,299.10 188.40,299.41 188.67,299.74 188.93,300.09 189.20,300.47 189.47,300.87 189.73,301.30 190.00,301.76 190.27,302.23 190.53,302.73 190.80,303.25 191.07,303.80 191.33,304.37 191.60,304.96 191.87,305.57 192.13,306.20 192.40,306.85 192.67,307.52 192.93,308.21 193.20,308.92 193.47,309.65 193.73,310.40 194.00,311.16 194.27,311.94 194.53,312.74 194.80,313.55 195.07,314.38 195.33,315.22 195.60,316.07 195.87,316.94 196.13,317.82 196.40,318.71 196.67,319.61 196.93,320.52 197.20,321.45 197.47,322.38 197.73,323.31 198.00,324.26 198.27,325.21 198.53,326.17 198.80,327.14 199.07,328.10 199.33,329.07 199.60,330.05 199.87,331.02 200.13,332.00 200.40,332.98 200.67,333.95 200.93,334.93 201.20,335.90 201.47,336.87 201.73,337.84 202.00,338.80 202.27,339.75 202.53,340.70 202.80,341.64 203.07,342.57 203.33,343.50 203.60,344.41 203.87,345.32 204.13,346.21 204.40,347.08 204.67,347.95 204.93,348.80 205.20,349.63 205.47,350.45 205.73,351.25 206.00,352.03 206.27,352.80 206.53,353.54 206.80,354.26 207.07,354.95 207.33,355.62 207.60,356.27 207.87,356.89 208.13,357.48 208.40,358.05 208.67,358.58 208.93,359.08 209.20,359.54 209.47,359.97 209.73,360.36 210.00,360.70 210.27,360.99 210.53,361.24 210.80,361.41 211.07,361.50 211.33,361.42 211.60,361.26 211.87,361.04 212.13,360.77 212.40,360.45 212.67,360.10 212.93,359.71 213.20,359.28 213.47,358.82 213.73,358.34 214.00,357.82 214.27,357.28 214.53,356.71 214.80,356.11 215.07,355.49 215.33,354.85 215.60,354.19 215.87,353.51 216.13,352.81 216.40,352.08 216.67,351.35 216.93,350.59 217.20,349.82 217.47,349.03 217.73,348.23 218.00,347.42 218.27,346.59 218.53,345.75 218.80,344.90 219.07,344.04 219.33,343.17 219.60,342.29 219.87,341.41 220.13,340.51 220.40,339.61 220.67,338.71 220.93,337.79 221.20,336.88 221.47,335.96 221.73,335.04 222.00,334.11 222.27,333.18 222.53,332.26 222.80,331.33 223.07,330.40 223.33,329.48 223.60,328.55 223.87,327.63 224.13,326.71 224.40,325.80 224.67,324.89 224.93,323.99 225.20,323.09 225.47,322.20 225.73,321.31 226.00,320.43 226.27,319.56 226.53,318.70 226.80,317.85 227.07,317.01 227.33,316.18 227.60,315.37 227.87,314.56 228.13,313.76 228.40,312.98 228.67,312.22 228.93,311.46 229.20,310.72 229.47,310.00 229.73,309.29 230.00,308.59 230.27,307.92 230.53,307.26 230.80,306.61 231.07,305.99 231.33,305.38 231.60,304.79 231.87,304.22 232.13,303.67 232.40,303.14 232.67,302.63 232.93,302.14 233.20,301.67 233.47,301.22 233.73,300.79 234.00,300.39 234.27,300.00 234.53,299.64 234.80,299.30 235.07,298.98 235.33,298.69 235.60,298.41 235.87,298.16 236.13,297.94 236.40,297.74 236.67,297.56 236.93,297.40 237.20,297.27 237.47,297.16 237.73,297.08 238.00,297.02 238.27,296.98 238.53,296.97 238.80,296.98 239.07,297.03 239.33,297.10 239.60,297.20 239.87,297.33 240.13,297.49 240.40,297.67 240.67,297.89 240.93,298.13 241.20,298.40 241.47,298.70 241.73,299.03 242.00,299.38 242.27,299.76 242.53,300.17 242.80,300.60 243.07,301.06 243.33,301.54 243.60,302.05 243.87,302.59 244.13,303.15 244.40,303.73 244.67,304.34 244.93,304.97 245.20,305.62 245.47,306.29 245.73,306.99 246.00,307.70 246.27,308.44 246.53,309.20 246.80,309.97 247.07,310.77 247.33,311.58 247.60,312.41 247.87,313.26 248.13,314.12 248.40,314.99 248.67,315.89 248.93,316.79 249.20,317.71 249.47,318.64 249.73,319.58 250.00,320.54 250.27,321.50 250.53,322.47 250.80,323.45 251.07,324.44 251.33,325.43 251.60,326.43 251.87,327.44 252.13,328.45 252.40,329.46 252.67,330.47 252.93,331.49 253.20,332.50 253.47,333.52 253.73,334.53 254.00,335.55 254.27,336.56 254.53,337.56 254.80,338.56 255.07,339.55 255.33,340.54 255.60,341.52 255.87,342.49 256.13,343.45 256.40,344.40 256.67,345.34 256.93,346.26 257.20,347.17 257.47,348.07 257.73,348.95 258.00,349.81 258.27,350.66 258.53,351.48 258.80,352.29 259.07,353.07 259.33,353.83 259.60,354.57 259.87,355.28 260.13,355.96 260.40,356.62 260.67,357.25 260.93,357.84 261.20,358.40 261.47,358.93 261.73,359.42 262.00,359.88 262.27,360.29 262.53,360.65 262.80,360.96 263.07,361.22 263.33,361.41 263.60,361.50" fill="none" stroke="#1e9a4a" stroke-width="1.3" stroke-linejoin="round"/>
<polyline points="103.60,361.50 103.87,361.21 104.13,360.91 104.40,360.62 104.67,360.33 104.93,360.04 105.20,359.74 105.47,359.45 105.73,359.16 106.00,358.87 106.27,358.54 106.53,357.38 106.80,356.21 107.07,355.05 107.33,353.89 107.60,352.74 107.87,351.48 108.13,350.22 108.40,348.97 108.67,347.72 108.93,346.48 109.20,345.23 109.47,343.99 109.73,342.75 110.00,341.51 110.27,340.29 110.53,339.17 110.80,338.05 111.07,336.95 111.33,335.85 111.60,334.75 111.87,333.52 112.13,332.29 112.40,331.07 112.67,329.86 112.93,328.66 113.20,327.51 113.47,326.37 113.73,325.24 114.00,324.13 114.27,323.02 114.53,321.91 114.80,320.82 115.07,319.74 115.33,318.67 115.60,317.61 115.87,316.75 116.13,315.90 116.40,315.06 116.67,314.23 116.93,313.42 117.20,312.43 117.47,311.46 117.73,310.51 118.00,309.56 118.27,308.64 118.53,307.81 118.80,307.00 119.07,306.21 119.33,305.44 119.60,304.68 119.87,303.74 120.13,302.82 120.40,301.92 120.67,301.03 120.93,300.17 121.20,299.49 121.47,298.83 121.73,298.19 122.00,297.57 122.27,296.97 122.53,296.50 122.80,296.04 123.07,295.61 123.33,295.19 123.60,294.80 123.87,294.09 124.13,293.40 124.40,292.73 124.67,292.09 124.93,291.46 125.20,291.14 125.47,291.11 125.73,291.07 126.00,291.01 126.27,290.94 126.53,290.93 126.80,290.92 127.07,290.92 127.33,290.95 127.60,291.00 127.87,291.05 128.13,291.13 128.40,291.25 128.67,291.42 128.93,291.60 129.20,291.88 129.47,292.15 129.73,292.40 130.00,292.60 130.27,292.76 130.53,292.80 130.80,292.80 131.07,292.77 131.33,292.72 131.60,292.66 131.87,292.46 132.13,292.27 132.40,292.09 132.67,291.91 132.93,291.74 133.20,291.76 133.47,291.78 133.73,291.79 134.00,291.80 134.27,291.79 134.53,291.65 134.80,291.51 135.07,291.37 135.33,291.24 135.60,291.12 135.87,291.03 136.13,290.95 136.40,290.90 136.67,291.28 136.93,291.69 137.20,292.18 137.47,292.70 137.73,293.23 138.00,293.79 138.27,294.37 138.53,294.85 138.80,295.34 139.07,295.86 139.33,296.39 139.60,296.95 139.87,297.63 140.13,298.32 140.40,299.04 140.67,299.78 140.93,300.53 141.20,301.22 141.47,301.92 141.73,302.65 142.00,303.39 142.27,304.15 142.53,305.07 142.80,306.02 143.07,306.98 143.33,307.95 143.60,308.94 143.87,309.85 144.13,310.78 144.40,311.71 144.67,312.66 144.93,313.63 145.20,314.66 145.47,315.70 145.73,316.75 146.00,317.81 146.27,318.87 146.53,319.89 146.80,320.91 147.07,321.94 147.33,322.98 147.60,324.02 147.87,325.14 148.13,326.27 148.40,327.40 148.67,328.53 148.93,329.67 149.20,330.80 149.47,331.94 149.73,333.07 150.00,334.20 150.27,335.33 150.53,336.28 150.80,337.21 151.07,338.15 151.33,339.08 151.60,340.00 151.87,341.07 152.13,342.13 152.40,343.18 152.67,344.22 152.93,345.25 153.20,346.30 153.47,347.34 153.73,348.36 154.00,349.37 154.27,350.37 154.53,351.34 154.80,352.29 155.07,353.21 155.33,354.12 155.60,355.00 155.87,355.91 156.13,356.79 156.40,357.64 156.67,358.45 156.93,359.22 157.20,359.88 157.47,360.26 157.73,360.17 158.00,359.75 158.27,359.29 158.53,358.77 158.80,358.21 159.07,357.61 159.33,356.99 159.60,356.34 159.87,355.72 160.13,355.07 160.40,354.40 160.67,353.70 160.93,352.98 161.20,352.05 161.47,351.09 161.73,350.12 162.00,349.12 162.27,348.11 162.53,347.31 162.80,346.48 163.07,345.64 163.33,344.79 163.60,343.92 163.87,342.88 164.13,341.82 164.40,340.74 164.67,339.66 164.93,338.57 165.20,337.66 165.47,336.74 165.73,335.82 166.00,334.89 166.27,333.95 166.53,332.80 166.80,331.64 167.07,330.48 167.33,329.31 167.60,328.15 167.87,327.13 168.13,326.10 168.40,325.08 168.67,324.06 168.93,323.04 169.20,322.18 169.47,321.32 169.73,320.47 170.00,319.63 170.27,318.78 170.53,317.73 170.80,316.68 171.07,315.65 171.33,314.62 171.60,313.60 171.87,312.49 172.13,311.39 172.40,310.30 172.67,309.22 172.93,308.16 173.20,307.34 173.47,306.54 173.73,305.76 174.00,304.99 174.27,304.24 174.53,303.30 174.80,302.38 175.07,301.48 175.33,300.60 175.60,299.74 175.87,299.12 176.13,298.52 176.40,297.94 176.67,297.38 176.93,296.85 177.20,296.28 177.47,295.73 177.73,295.20 178.00,294.70 178.27,294.22 178.53,293.57 178.80,292.96 179.07,292.36 179.33,291.79 179.60,291.53 179.87,291.51 180.13,291.47 180.40,291.43 180.67,291.39 180.93,291.37 181.20,291.49 181.47,291.64 181.73,291.81 182.00,291.99 182.27,292.19 182.53,292.32 182.80,292.43 183.07,292.51 183.33,292.55 183.60,292.56 183.87,292.44 184.13,292.29 184.40,292.14 184.67,291.98 184.93,291.84 185.20,291.64 185.47,291.47 185.73,291.32 186.00,291.20 186.27,291.09 186.53,291.16 186.80,291.23 187.07,291.29 187.33,291.34 187.60,291.37 187.87,291.47 188.13,291.54 188.40,291.60 188.67,291.64 188.93,291.67 189.20,291.54 189.47,291.40 189.73,291.30 190.00,291.71 190.27,292.14 190.53,292.67 190.80,293.22 191.07,293.79 191.33,294.40 191.60,295.03 191.87,295.66 192.13,296.32 192.40,297.01 192.67,297.72 192.93,298.45 193.20,299.05 193.47,299.66 193.73,300.30 194.00,300.97 194.27,301.65 194.53,302.63 194.80,303.64 195.07,304.67 195.33,305.71 195.60,306.77 195.87,307.64 196.13,308.53 196.40,309.43 196.67,310.34 196.93,311.27 197.20,312.32 197.47,313.38 197.73,314.45 198.00,315.53 198.27,316.63 198.53,317.76 198.80,318.90 199.07,320.04 199.33,321.20 199.60,322.36 199.87,323.36 200.13,324.36 200.40,325.36 200.67,326.37 200.93,327.38 201.20,328.63 201.47,329.87 201.73,331.12 202.00,332.36 202.27,333.60 202.53,334.60 202.80,335.60 203.07,336.59 203.33,337.57 203.60,338.55 203.87,339.73 204.13,340.90 204.40,342.06 204.67,343.20 204.93,344.34 205.20,345.28 205.47,346.21 205.73,347.12 206.00,348.02 206.27,348.89 206.53,349.86 206.80,350.80 207.07,351.72 207.33,352.61 207.60,353.48 207.87,354.27 208.13,355.03 208.40,355.76 208.67,356.46 208.93,357.13 209.20,357.63 209.47,358.09 209.73,358.52 210.00,358.91 210.27,359.25 210.53,359.73 210.80,360.58 211.07,360.31 211.33,359.56 211.60,359.15 211.87,358.78 212.13,358.36 212.40,357.91 212.67,357.43 212.93,356.92 213.20,356.15 213.47,355.36 213.73,354.54 214.00,353.69 214.27,352.82 214.53,352.19 214.80,351.54 215.07,350.86 215.33,350.16 215.60,349.45 215.87,348.54 216.13,347.61 216.40,346.66 216.67,345.70 216.93,344.73 217.20,343.68 217.47,342.63 217.73,341.56 218.00,340.47 218.27,339.38 218.53,338.42 218.80,337.46 219.07,336.48 219.33,335.50 219.60,334.51 219.87,333.59 220.13,332.66 220.40,331.73 220.67,330.79 220.93,329.85 221.20,328.62 221.47,327.38 221.73,326.15 222.00,324.92 222.27,323.69 222.53,322.80 222.80,321.93 223.07,321.05 223.33,320.18 223.60,319.32 223.87,318.30 224.13,317.28 224.40,316.26 224.67,315.26 224.93,314.27 225.20,313.19 225.47,312.12 225.73,311.06 226.00,310.01 226.27,308.98 226.53,308.16 226.80,307.35 227.07,306.56 227.33,305.78 227.60,305.02 227.87,304.19 228.13,303.38 228.40,302.58 228.67,301.80 228.93,301.04 229.20,300.34 229.47,299.66 229.73,299.00 230.00,298.36 230.27,297.74 230.53,297.09 230.80,296.46 231.07,295.86 231.33,295.27 231.60,294.71 231.87,294.08 232.13,293.47 232.40,292.88 232.67,292.32 232.93,291.78 233.20,291.53 233.47,291.70 233.73,291.87 234.00,292.03 234.27,292.20 234.53,292.23 234.80,292.26 235.07,292.29 235.33,292.32 235.60,292.33 235.87,292.45 236.13,292.52 236.40,292.55 236.67,292.53 236.93,292.45 237.20,292.26 237.47,292.05 237.73,291.82 238.00,291.60 238.27,291.40 238.53,291.16 238.80,290.95 239.07,290.80 239.33,290.69 239.60,290.61 239.87,290.77 240.13,290.95 240.40,291.14 240.67,291.32 240.93,291.50 241.20,291.55 241.47,291.58 241.73,291.59 242.00,291.58 242.27,291.54 242.53,291.44 242.80,291.31 243.07,291.20 243.33,291.59 243.60,292.00 243.87,292.64 244.13,293.31 244.40,294.00 244.67,294.73 244.93,295.48 245.20,296.12 245.47,296.78 245.73,297.48 246.00,298.19 246.27,298.93 246.53,299.53 246.80,300.16 247.07,300.80 247.33,301.47 247.60,302.16 247.87,303.05 248.13,303.96 248.40,304.88 248.67,305.82 248.93,306.79 249.20,307.86 249.47,308.96 249.73,310.07 250.00,311.19 250.27,312.33 250.53,313.38 250.80,314.44 251.07,315.51 251.33,316.59 251.60,317.68 251.87,318.65 252.13,319.63 252.40,320.62 252.67,321.61 252.93,322.61 253.20,323.69 253.47,324.77 253.73,325.85 254.00,326.93 254.27,328.02 254.53,329.30 254.80,330.58 255.07,331.86 255.33,333.13 255.60,334.40 255.87,335.36 256.13,336.30 256.40,337.24 256.67,338.17 256.93,339.10 257.20,340.18 257.47,341.25 257.73,342.31 258.00,343.36 258.27,344.39 258.53,345.45 258.80,346.49 259.07,347.51 259.33,348.52 259.60,349.51 259.87,350.45 260.13,351.37 260.40,352.27 260.67,353.14 260.93,353.99 261.20,354.83 261.47,355.65 261.73,356.43 262.00,357.19 262.27,357.91 262.53,358.54 262.80,359.13 263.07,359.68 263.33,360.19 263.60,360.65" fill="none" stroke="#3a3a3a" stroke-width="1.0" stroke-linejoin="round"/>
<rect x="102.6" y="389.6" width="160.50" height="130.90" fill="none" stroke="#3a3a3a" stroke-width="1"/>
<line x1="100.1" y1="520.50" x2="102.6" y2="520.50" stroke="#3a3a3a" stroke-width="0.9"/>
<text x="97.40" y="523.10" font-size="7.4" fill="#404040" text-anchor="end">0.0</text>
<line x1="101.19999999999999" y1="507.41" x2="102.6" y2="507.41" stroke="#3a3a3a" stroke-width="0.9"/>
<line x1="100.1" y1="494.32" x2="102.6" y2="494.32" stroke="#3a3a3a" stroke-width="0.9"/>
<text x="97.40" y="496.92" font-size="7.4" fill="#404040" text-anchor="end">0.2</text>
<line x1="101.19999999999999" y1="481.23" x2="102.6" y2="481.23" stroke="#3a3a3a" stroke-width="0.9"/>
<line x1="100.1" y1="468.14" x2="102.6" y2="468.14" stroke="#3a3a3a" stroke-width="0.9"/>
<text x="97.40" y="470.74" font-size="7.4" fill="#404040" text-anchor="end">0.4</text>
<line x1="101.19999999999999" y1="455.05" x2="102.6" y2="455.05" stroke="#3a3a3a" stroke-width="0.9"/>
<line x1="100.1" y1="441.96" x2="102.6" y2="441.96" stroke="#3a3a3a" stroke-width="0.9"/>
<text x="97.40" y="444.56" font-size="7.4" fill="#404040" text-anchor="end">0.6</text>
<line x1="101.19999999999999" y1="428.87" x2="102.6" y2="428.87" stroke="#3a3a3a" stroke-width="0.9"/>
<line x1="100.1" y1="415.78" x2="102.6" y2="415.78" stroke="#3a3a3a" stroke-width="0.9"/>
<text x="97.40" y="418.38" font-size="7.4" fill="#404040" text-anchor="end">0.8</text>
<line x1="101.19999999999999" y1="402.69" x2="102.6" y2="402.69" stroke="#3a3a3a" stroke-width="0.9"/>
<line x1="100.1" y1="389.60" x2="102.6" y2="389.60" stroke="#3a3a3a" stroke-width="0.9"/>
<text x="97.40" y="392.20" font-size="7.4" fill="#404040" text-anchor="end">1.0</text>
<line x1="102.60" y1="520.5" x2="102.60" y2="523.0" stroke="#3a3a3a" stroke-width="0.9"/>
<text x="102.60" y="531.20" font-size="7.6" fill="#404040" text-anchor="middle">0</text>
<line x1="129.35" y1="520.5" x2="129.35" y2="521.9" stroke="#3a3a3a" stroke-width="0.9"/>
<line x1="156.10" y1="520.5" x2="156.10" y2="523.0" stroke="#3a3a3a" stroke-width="0.9"/>
<text x="156.10" y="531.20" font-size="7.6" fill="#404040" text-anchor="middle">10</text>
<line x1="182.85" y1="520.5" x2="182.85" y2="521.9" stroke="#3a3a3a" stroke-width="0.9"/>
<line x1="209.60" y1="520.5" x2="209.60" y2="523.0" stroke="#3a3a3a" stroke-width="0.9"/>
<text x="209.60" y="531.20" font-size="7.6" fill="#404040" text-anchor="middle">20</text>
<line x1="236.35" y1="520.5" x2="236.35" y2="521.9" stroke="#3a3a3a" stroke-width="0.9"/>
<line x1="263.10" y1="520.5" x2="263.10" y2="523.0" stroke="#3a3a3a" stroke-width="0.9"/>
<text x="263.10" y="531.20" font-size="7.6" fill="#404040" text-anchor="middle">30</text>
<text x="162.10" y="536.30" font-size="8.6" fill="#404040">Time (sec)</text>
<text transform="translate(79.10,452.5) rotate(-90)" font-size="8.6" fill="#404040" text-anchor="middle">Strain (%)</text>
<rect x="136.4" y="398.6" width="88.00" height="43.00" fill="#fff" stroke="#8a8a8a" stroke-width="0.8"/>
<rect x="159.6" y="406.5" width="41.20" height="35.10" fill="#d6edc4"/>
<line x1="180.3" y1="394.6" x2="180.3" y2="441.6" stroke="#555" stroke-width="0.6" stroke-dasharray="1,1"/>
<line x1="180.3" y1="441.6" x2="225.9" y2="441.6" stroke="#555" stroke-width="0.6" stroke-dasharray="1,1"/>
<rect x="179.5" y="430.9" width="1.6" height="10.70" fill="#111"/>
<line x1="175.10000000000002" y1="430.9" x2="175.10000000000002" y2="441.6" stroke="#111" stroke-width="0.8"/>
<line x1="173.70000000000002" y1="430.9" x2="176.5" y2="430.9" stroke="#222" stroke-width="0.6"/>
<text x="137.9" y="403.5" font-family="Liberation Serif, serif" font-size="5.2" fill="#333">Specimen</text>
<text x="177.9" y="429.6" font-family="Liberation Serif, serif" font-size="5.3" fill="#222" text-anchor="end">Crack</text>
<text x="174.0" y="437.65" font-family="Liberation Serif, serif" font-size="3.9" fill="#222" text-anchor="end">15 mm</text>
<circle cx="183.0" cy="410.9" r="1.1" fill="#ee1c1c"/>
<text x="182.1" y="407.0" font-family="Liberation Serif, serif" font-size="5.6" fill="#ee2222" font-weight="bold">Ch.73</text>
<polyline points="102.60,520.50 102.87,520.50 103.13,520.50 103.40,520.50 103.67,520.50 103.94,520.50 104.20,520.50 104.47,520.50 104.74,520.50 105.01,520.50 105.27,520.50 105.54,520.50 105.81,520.50 106.08,520.50 106.34,520.50 106.61,520.50 106.88,520.50 107.15,520.50 107.41,520.50 107.68,520.50 107.95,520.50 108.22,520.50 108.48,520.50 108.75,519.35 109.02,518.20 109.29,517.06 109.55,515.91 109.82,514.77 110.09,513.62 110.36,512.48 110.62,511.35 110.89,510.22 111.16,509.09 111.43,507.96 111.69,506.84 111.96,505.72 112.23,504.61 112.50,503.51 112.77,502.41 113.03,501.32 113.30,500.24 113.57,499.16 113.83,498.09 114.10,497.03 114.37,495.98 114.64,494.93 114.91,493.90 115.17,492.87 115.44,491.86 115.71,490.86 115.97,489.86 116.24,488.88 116.51,487.91 116.78,486.95 117.05,486.01 117.31,485.08 117.58,484.16 117.85,483.25 118.11,482.36 118.38,481.48 118.65,480.61 118.92,479.76 119.19,478.93 119.45,478.11 119.72,477.30 119.99,476.51 120.25,475.74 120.52,474.99 120.79,474.25 121.06,473.53 121.33,472.82 121.59,472.13 121.86,471.46 122.13,470.81 122.39,470.18 122.66,469.56 122.93,468.97 123.20,468.39 123.47,467.83 123.73,467.29 124.00,466.77 124.27,466.27 124.53,465.79 124.80,465.33 125.07,464.89 125.34,464.48 125.60,464.08 125.87,463.70 126.14,463.34 126.41,463.01 126.67,462.69 126.94,462.40 127.21,462.12 127.48,461.87 127.75,461.64 128.01,461.44 128.28,461.25 128.55,461.09 128.81,460.94 129.08,460.82 129.35,460.72 129.62,460.65 129.88,460.59 130.15,460.56 130.42,460.55 130.69,460.56 130.95,460.60 131.22,460.66 131.49,460.76 131.76,460.87 132.03,461.01 132.29,461.18 132.56,461.37 132.83,461.59 133.09,461.84 133.36,462.11 133.63,462.40 133.90,462.72 134.16,463.06 134.43,463.42 134.70,463.81 134.97,464.23 135.24,464.66 135.50,465.12 135.77,465.60 136.04,466.11 136.31,466.63 136.57,467.18 136.84,467.74 137.11,468.33 137.38,468.94 137.64,469.57 137.91,470.21 138.18,470.88 138.44,471.56 138.71,472.26 138.98,472.97 139.25,473.70 139.51,474.45 139.78,475.21 140.05,475.99 140.32,476.78 140.59,477.59 140.85,478.40 141.12,479.23 141.39,480.07 141.66,480.92 141.92,481.78 142.19,482.65 142.46,483.53 142.72,484.42 142.99,485.31 143.26,486.21 143.53,487.11 143.80,488.02 144.06,488.93 144.33,489.85 144.60,490.77 144.87,491.69 145.13,492.61 145.40,493.53 145.67,494.45 145.94,495.37 146.20,496.29 146.47,497.20 146.74,498.11 147.00,499.01 147.27,499.91 147.54,500.81 147.81,501.69 148.07,502.57 148.34,503.44 148.61,504.29 148.88,505.14 149.14,505.98 149.41,506.80 149.68,507.61 149.95,508.41 150.22,509.19 150.48,509.96 150.75,510.70 151.02,511.44 151.28,512.15 151.55,512.84 151.82,513.51 152.09,514.16 152.36,514.79 152.62,515.39 152.89,515.97 153.16,516.52 153.43,517.05 153.69,517.55 153.96,518.02 154.23,518.45 154.50,518.86 154.76,519.22 155.03,519.55 155.30,519.85 155.56,520.09 155.83,520.29 156.10,520.43 156.37,520.50 156.63,520.41 156.90,520.23 157.17,519.99 157.44,519.70 157.71,519.37 157.97,519.00 158.24,518.59 158.51,518.15 158.78,517.69 159.04,517.19 159.31,516.67 159.58,516.12 159.84,515.55 160.11,514.96 160.38,514.35 160.65,513.71 160.92,513.06 161.18,512.39 161.45,511.70 161.72,511.00 161.99,510.27 162.25,509.54 162.52,508.79 162.79,508.03 163.06,507.26 163.32,506.47 163.59,505.68 163.86,504.87 164.12,504.06 164.39,503.23 164.66,502.40 164.93,501.57 165.19,500.72 165.46,499.88 165.73,499.02 166.00,498.17 166.27,497.31 166.53,496.44 166.80,495.58 167.07,494.71 167.33,493.84 167.60,492.98 167.87,492.11 168.14,491.24 168.41,490.38 168.67,489.52 168.94,488.66 169.21,487.81 169.48,486.96 169.74,486.11 170.01,485.28 170.28,484.44 170.55,483.62 170.81,482.80 171.08,481.99 171.35,481.18 171.62,480.39 171.88,479.61 172.15,478.83 172.42,478.07 172.69,477.32 172.95,476.58 173.22,475.85 173.49,475.13 173.75,474.43 174.02,473.74 174.29,473.07 174.56,472.40 174.82,471.76 175.09,471.13 175.36,470.51 175.63,469.91 175.90,469.33 176.16,468.77 176.43,468.22 176.70,467.69 176.97,467.18 177.23,466.68 177.50,466.21 177.77,465.75 178.03,465.31 178.30,464.89 178.57,464.50 178.84,464.12 179.11,463.76 179.37,463.42 179.64,463.11 179.91,462.81 180.18,462.54 180.44,462.28 180.71,462.05 180.98,461.84 181.25,461.65 181.51,461.49 181.78,461.34 182.05,461.22 182.31,461.12 182.58,461.04 182.85,460.99 183.12,460.95 183.38,460.94 183.65,460.95 183.92,460.99 184.19,461.05 184.46,461.14 184.72,461.25 184.99,461.38 185.26,461.54 185.53,461.73 185.79,461.94 186.06,462.17 186.33,462.43 186.60,462.71 186.86,463.01 187.13,463.34 187.40,463.69 187.67,464.06 187.93,464.45 188.20,464.87 188.47,465.31 188.74,465.77 189.00,466.25 189.27,466.75 189.54,467.27 189.81,467.81 190.07,468.38 190.34,468.96 190.61,469.56 190.88,470.18 191.14,470.81 191.41,471.46 191.68,472.14 191.94,472.82 192.21,473.52 192.48,474.24 192.75,474.97 193.01,475.72 193.28,476.48 193.55,477.25 193.82,478.04 194.09,478.84 194.35,479.65 194.62,480.46 194.89,481.29 195.16,482.13 195.42,482.98 195.69,483.83 195.96,484.70 196.23,485.57 196.49,486.44 196.76,487.32 197.03,488.21 197.30,489.09 197.56,489.99 197.83,490.88 198.10,491.77 198.37,492.67 198.63,493.57 198.90,494.46 199.17,495.36 199.44,496.25 199.70,497.14 199.97,498.03 200.24,498.91 200.50,499.79 200.77,500.66 201.04,501.52 201.31,502.38 201.57,503.23 201.84,504.07 202.11,504.90 202.38,505.71 202.65,506.52 202.91,507.32 203.18,508.10 203.45,508.87 203.72,509.62 203.98,510.36 204.25,511.08 204.52,511.78 204.79,512.47 205.05,513.13 205.32,513.78 205.59,514.41 205.86,515.01 206.12,515.59 206.39,516.15 206.66,516.68 206.93,517.19 207.19,517.66 207.46,518.11 207.73,518.53 208.00,518.92 208.26,519.27 208.53,519.59 208.80,519.87 209.06,520.11 209.33,520.30 209.60,520.44 209.87,520.50 210.14,520.50 210.40,520.41 210.67,520.24 210.94,520.00 211.21,519.73 211.47,519.41 211.74,519.05 212.01,518.66 212.28,518.24 212.54,517.79 212.81,517.31 213.08,516.81 213.35,516.28 213.61,515.73 213.88,515.16 214.15,514.57 214.42,513.96 214.68,513.33 214.95,512.68 215.22,512.01 215.49,511.33 215.75,510.64 216.02,509.93 216.29,509.20 216.56,508.47 216.82,507.72 217.09,506.96 217.36,506.19 217.62,505.41 217.89,504.62 218.16,503.83 218.43,503.02 218.69,502.21 218.96,501.39 219.23,500.57 219.50,499.74 219.76,498.91 220.03,498.07 220.30,497.23 220.57,496.39 220.84,495.55 221.10,494.71 221.37,493.86 221.64,493.02 221.91,492.17 222.17,491.33 222.44,490.49 222.71,489.65 222.98,488.81 223.24,487.98 223.51,487.16 223.78,486.33 224.05,485.52 224.31,484.70 224.58,483.90 224.85,483.10 225.12,482.31 225.38,481.53 225.65,480.75 225.92,479.99 226.19,479.23 226.45,478.49 226.72,477.75 226.99,477.03 227.26,476.32 227.52,475.62 227.79,474.93 228.06,474.25 228.32,473.59 228.59,472.94 228.86,472.31 229.13,471.69 229.40,471.08 229.66,470.49 229.93,469.92 230.20,469.36 230.47,468.82 230.73,468.29 231.00,467.79 231.27,467.30 231.54,466.82 231.80,466.37 232.07,465.93 232.34,465.51 232.61,465.11 232.87,464.73 233.14,464.37 233.41,464.03 233.68,463.71 233.94,463.40 234.21,463.12 234.48,462.86 234.75,462.62 235.01,462.39 235.28,462.19 235.55,462.01 235.81,461.85 236.08,461.72 236.35,461.60 236.62,461.50 236.89,461.43 237.15,461.38 237.42,461.34 237.69,461.33 237.96,461.35 238.22,461.38 238.49,461.45 238.76,461.54 239.03,461.66 239.29,461.80 239.56,461.97 239.83,462.16 240.09,462.38 240.36,462.62 240.63,462.89 240.90,463.18 241.17,463.50 241.43,463.84 241.70,464.20 241.97,464.59 242.24,465.00 242.50,465.44 242.77,465.90 243.04,466.38 243.31,466.88 243.57,467.41 243.84,467.95 244.11,468.52 244.38,469.10 244.64,469.71 244.91,470.33 245.18,470.98 245.44,471.64 245.71,472.32 245.98,473.02 246.25,473.74 246.52,474.47 246.78,475.22 247.05,475.98 247.32,476.75 247.59,477.54 247.85,478.35 248.12,479.17 248.39,479.99 248.66,480.83 248.92,481.68 249.19,482.54 249.46,483.41 249.73,484.29 249.99,485.18 250.26,486.07 250.53,486.97 250.80,487.87 251.06,488.78 251.33,489.70 251.60,490.61 251.87,491.53 252.13,492.45 252.40,493.37 252.67,494.30 252.94,495.22 253.20,496.14 253.47,497.05 253.74,497.97 254.01,498.88 254.27,499.78 254.54,500.68 254.81,501.58 255.08,502.46 255.34,503.34 255.61,504.21 255.88,505.07 256.14,505.91 256.41,506.75 256.68,507.57 256.95,508.38 257.22,509.18 257.48,509.96 257.75,510.72 258.02,511.46 258.29,512.19 258.55,512.90 258.82,513.58 259.09,514.25 259.36,514.89 259.62,515.51 259.89,516.10 260.16,516.66 260.43,517.20 260.69,517.71 260.96,518.19 261.23,518.63 261.50,519.04 261.76,519.41 262.03,519.73 262.30,520.02 262.57,520.25 262.83,520.42 263.10,520.50" fill="none" stroke="#2a74dc" stroke-width="2.0" stroke-linejoin="round"/>
<polyline points="102.60,520.50 102.87,520.50 103.13,520.50 103.40,520.50 103.67,520.50 103.94,520.50 104.20,520.50 104.47,520.50 104.74,520.50 105.01,520.50 105.27,520.50 105.54,520.50 105.81,520.50 106.08,520.50 106.34,520.50 106.61,520.50 106.88,520.50 107.15,520.50 107.41,520.50 107.68,520.50 107.95,520.50 108.22,520.50 108.48,519.32 108.75,518.14 109.02,516.97 109.29,515.79 109.55,514.62 109.82,513.44 110.09,512.27 110.36,511.11 110.62,509.95 110.89,508.79 111.16,507.63 111.43,506.48 111.69,505.34 111.96,504.20 112.23,503.06 112.50,501.94 112.77,500.82 113.03,499.70 113.30,498.60 113.57,497.50 113.83,496.41 114.10,495.33 114.37,494.26 114.64,493.20 114.91,492.15 115.17,491.11 115.44,490.08 115.71,489.06 115.97,488.05 116.24,487.06 116.51,486.08 116.78,485.10 117.05,484.15 117.31,483.20 117.58,482.27 117.85,481.36 118.11,480.45 118.38,479.57 118.65,478.69 118.92,477.84 119.19,477.00 119.45,476.17 119.72,475.36 119.99,474.57 120.25,473.79 120.52,473.04 120.79,472.29 121.06,471.57 121.33,470.87 121.59,470.18 121.86,469.51 122.13,468.86 122.39,468.23 122.66,467.62 122.93,467.02 123.20,466.45 123.47,465.90 123.73,465.37 124.00,464.85 124.27,464.36 124.53,463.89 124.80,463.44 125.07,463.01 125.34,462.60 125.60,462.21 125.87,461.84 126.14,461.50 126.41,461.18 126.67,460.87 126.94,460.60 127.21,460.34 127.48,460.10 127.75,459.89 128.01,459.70 128.28,459.53 128.55,459.38 128.81,459.26 129.08,459.16 129.35,459.08 129.62,459.02 129.88,458.99 130.15,458.98 130.42,458.99 130.69,459.03 130.95,459.10 131.22,459.19 131.49,459.31 131.76,459.46 132.03,459.63 132.29,459.83 132.56,460.05 132.83,460.30 133.09,460.58 133.36,460.88 133.63,461.20 133.90,461.55 134.16,461.93 134.43,462.33 134.70,462.75 134.97,463.20 135.24,463.67 135.50,464.17 135.77,464.68 136.04,465.22 136.31,465.78 136.57,466.36 136.84,466.97 137.11,467.59 137.38,468.23 137.64,468.89 137.91,469.57 138.18,470.27 138.44,470.99 138.71,471.73 138.98,472.48 139.25,473.25 139.51,474.03 139.78,474.83 140.05,475.64 140.32,476.46 140.59,477.30 140.85,478.15 141.12,479.01 141.39,479.89 141.66,480.77 141.92,481.66 142.19,482.56 142.46,483.47 142.72,484.39 142.99,485.31 143.26,486.24 143.53,487.17 143.80,488.11 144.06,489.05 144.33,489.99 144.60,490.93 144.87,491.88 145.13,492.82 145.40,493.77 145.67,494.71 145.94,495.65 146.20,496.59 146.47,497.52 146.74,498.45 147.00,499.37 147.27,500.29 147.54,501.20 147.81,502.10 148.07,502.99 148.34,503.87 148.61,504.74 148.88,505.60 149.14,506.44 149.41,507.28 149.68,508.09 149.95,508.89 150.22,509.68 150.48,510.45 150.75,511.20 151.02,511.93 151.28,512.64 151.55,513.33 151.82,514.00 152.09,514.64 152.36,515.26 152.62,515.85 152.89,516.42 153.16,516.96 153.43,517.47 153.69,517.95 153.96,518.40 154.23,518.81 154.50,519.19 154.76,519.53 155.03,519.83 155.30,520.08 155.56,520.29 155.83,520.43 156.10,520.50 156.37,520.40 156.63,520.22 156.90,519.97 157.17,519.68 157.44,519.34 157.71,518.96 157.97,518.54 158.24,518.10 158.51,517.62 158.78,517.11 159.04,516.58 159.31,516.02 159.58,515.43 159.84,514.83 160.11,514.20 160.38,513.55 160.65,512.88 160.92,512.19 161.18,511.49 161.45,510.77 161.72,510.03 161.99,509.28 162.25,508.51 162.52,507.73 162.79,506.94 163.06,506.13 163.32,505.32 163.59,504.49 163.86,503.66 164.12,502.82 164.39,501.97 164.66,501.11 164.93,500.25 165.19,499.38 165.46,498.50 165.73,497.63 166.00,496.74 166.27,495.86 166.53,494.97 166.80,494.09 167.07,493.20 167.33,492.31 167.60,491.42 167.87,490.54 168.14,489.65 168.41,488.77 168.67,487.89 168.94,487.02 169.21,486.15 169.48,485.28 169.74,484.42 170.01,483.57 170.28,482.72 170.55,481.89 170.81,481.06 171.08,480.23 171.35,479.42 171.62,478.62 171.88,477.83 172.15,477.04 172.42,476.27 172.69,475.52 172.95,474.77 173.22,474.04 173.49,473.32 173.75,472.61 174.02,471.92 174.29,471.24 174.56,470.58 174.82,469.93 175.09,469.30 175.36,468.69 175.63,468.09 175.90,467.52 176.16,466.95 176.43,466.41 176.70,465.89 176.97,465.38 177.23,464.89 177.50,464.43 177.77,463.98 178.03,463.55 178.30,463.14 178.57,462.75 178.84,462.39 179.11,462.04 179.37,461.72 179.64,461.42 179.91,461.13 180.18,460.88 180.44,460.64 180.71,460.42 180.98,460.23 181.25,460.06 181.51,459.91 181.78,459.79 182.05,459.68 182.31,459.60 182.58,459.55 182.85,459.51 183.12,459.50 183.38,459.51 183.65,459.55 183.92,459.61 184.19,459.70 184.46,459.82 184.72,459.96 184.99,460.12 185.26,460.31 185.53,460.52 185.79,460.76 186.06,461.02 186.33,461.31 186.60,461.62 186.86,461.95 187.13,462.31 187.40,462.69 187.67,463.10 187.93,463.52 188.20,463.97 188.47,464.44 188.74,464.94 189.00,465.45 189.27,465.99 189.54,466.54 189.81,467.12 190.07,467.71 190.34,468.33 190.61,468.96 190.88,469.61 191.14,470.28 191.41,470.97 191.68,471.67 191.94,472.39 192.21,473.12 192.48,473.87 192.75,474.64 193.01,475.42 193.28,476.21 193.55,477.01 193.82,477.83 194.09,478.66 194.35,479.50 194.62,480.35 194.89,481.20 195.16,482.07 195.42,482.95 195.69,483.83 195.96,484.72 196.23,485.62 196.49,486.52 196.76,487.42 197.03,488.33 197.30,489.25 197.56,490.16 197.83,491.08 198.10,492.00 198.37,492.92 198.63,493.83 198.90,494.75 199.17,495.67 199.44,496.58 199.70,497.48 199.97,498.39 200.24,499.29 200.50,500.18 200.77,501.06 201.04,501.94 201.31,502.81 201.57,503.67 201.84,504.52 202.11,505.36 202.38,506.18 202.65,507.00 202.91,507.80 203.18,508.59 203.45,509.36 203.72,510.11 203.98,510.85 204.25,511.57 204.52,512.27 204.79,512.96 205.05,513.62 205.32,514.26 205.59,514.88 205.86,515.47 206.12,516.04 206.39,516.59 206.66,517.11 206.93,517.60 207.19,518.06 207.46,518.48 207.73,518.88 208.00,519.24 208.26,519.57 208.53,519.86 208.80,520.10 209.06,520.29 209.33,520.43 209.60,520.50 209.87,520.50 210.14,520.41 210.40,520.23 210.67,519.99 210.94,519.71 211.21,519.38 211.47,519.02 211.74,518.62 212.01,518.19 212.28,517.73 212.54,517.24 212.81,516.73 213.08,516.19 213.35,515.63 213.61,515.04 213.88,514.44 214.15,513.81 214.42,513.17 214.68,512.50 214.95,511.82 215.22,511.13 215.49,510.42 215.75,509.69 216.02,508.95 216.29,508.20 216.56,507.44 216.82,506.66 217.09,505.87 217.36,505.08 217.62,504.27 217.89,503.46 218.16,502.63 218.43,501.81 218.69,500.97 218.96,500.13 219.23,499.28 219.50,498.43 219.76,497.58 220.03,496.72 220.30,495.86 220.57,495.00 220.84,494.13 221.10,493.27 221.37,492.41 221.64,491.54 221.91,490.68 222.17,489.82 222.44,488.97 222.71,488.11 222.98,487.26 223.24,486.42 223.51,485.58 223.78,484.74 224.05,483.91 224.31,483.09 224.58,482.27 224.85,481.47 225.12,480.67 225.38,479.87 225.65,479.09 225.92,478.32 226.19,477.56 226.45,476.81 226.72,476.07 226.99,475.34 227.26,474.62 227.52,473.92 227.79,473.23 228.06,472.55 228.32,471.89 228.59,471.24 228.86,470.61 229.13,469.99 229.40,469.39 229.66,468.80 229.93,468.23 230.20,467.68 230.47,467.14 230.73,466.62 231.00,466.12 231.27,465.64 231.54,465.17 231.80,464.72 232.07,464.30 232.34,463.89 232.61,463.50 232.87,463.13 233.14,462.78 233.41,462.45 233.68,462.14 233.94,461.85 234.21,461.58 234.48,461.33 234.75,461.11 235.01,460.90 235.28,460.72 235.55,460.56 235.81,460.42 236.08,460.30 236.35,460.20 236.62,460.12 236.89,460.07 237.15,460.04 237.42,460.02 237.69,460.04 237.96,460.08 238.22,460.14 238.49,460.23 238.76,460.35 239.03,460.49 239.29,460.66 239.56,460.85 239.83,461.07 240.09,461.31 240.36,461.58 240.63,461.87 240.90,462.19 241.17,462.53 241.43,462.90 241.70,463.29 241.97,463.70 242.24,464.14 242.50,464.60 242.77,465.08 243.04,465.58 243.31,466.11 243.57,466.65 243.84,467.22 244.11,467.81 244.38,468.42 244.64,469.04 244.91,469.69 245.18,470.35 245.44,471.04 245.71,471.74 245.98,472.46 246.25,473.19 246.52,473.94 246.78,474.71 247.05,475.49 247.32,476.28 247.59,477.09 247.85,477.91 248.12,478.74 248.39,479.59 248.66,480.44 248.92,481.31 249.19,482.18 249.46,483.07 249.73,483.96 249.99,484.86 250.26,485.77 250.53,486.68 250.80,487.60 251.06,488.52 251.33,489.44 251.60,490.37 251.87,491.30 252.13,492.23 252.40,493.17 252.67,494.10 252.94,495.03 253.20,495.96 253.47,496.89 253.74,497.81 254.01,498.73 254.27,499.64 254.54,500.55 254.81,501.45 255.08,502.34 255.34,503.23 255.61,504.11 255.88,504.97 256.14,505.82 256.41,506.67 256.68,507.49 256.95,508.31 257.22,509.11 257.48,509.89 257.75,510.66 258.02,511.41 258.29,512.14 258.55,512.85 258.82,513.54 259.09,514.21 259.36,514.86 259.62,515.48 259.89,516.07 260.16,516.64 260.43,517.18 260.69,517.69 260.96,518.17 261.23,518.62 261.50,519.03 261.76,519.40 262.03,519.73 262.30,520.01 262.57,520.25 262.83,520.42 263.10,520.50" fill="none" stroke="#e8282d" stroke-width="1.2" stroke-linejoin="round"/>
<polyline points="102.60,520.50 102.87,520.34 103.13,520.17 103.40,520.01 103.67,519.85 103.94,519.68 104.20,519.52 104.47,519.35 104.74,519.19 105.01,519.03 105.27,518.86 105.54,518.70 105.81,518.54 106.08,518.54 106.34,518.54 106.61,518.54 106.88,518.54 107.15,518.54 107.41,518.54 107.68,518.54 107.95,518.54 108.22,518.54 108.48,518.12 108.75,517.50 109.02,516.42 109.29,515.01 109.55,513.60 109.82,512.19 110.09,510.79 110.36,509.39 110.62,508.00 110.89,506.83 111.16,505.66 111.43,504.50 111.69,503.35 111.96,502.20 112.23,501.05 112.50,500.04 112.77,499.03 113.03,498.04 113.30,497.04 113.57,496.06 113.83,495.09 114.10,494.01 114.37,492.95 114.64,491.89 114.91,490.84 115.17,489.81 115.44,488.78 115.71,487.87 115.97,486.97 116.24,486.09 116.51,485.21 116.78,484.35 117.05,483.51 117.31,482.66 117.58,481.83 117.85,481.01 118.11,480.21 118.38,479.42 118.65,478.65 118.92,477.65 119.19,476.68 119.45,475.72 119.72,474.77 119.99,473.84 120.25,472.94 120.52,472.10 120.79,471.29 121.06,470.49 121.33,469.72 121.59,468.96 121.86,468.22 122.13,467.79 122.39,467.37 122.66,466.98 122.93,466.60 123.20,466.25 123.47,465.91 123.73,465.11 124.00,464.33 124.27,463.57 124.53,462.83 124.80,462.11 125.07,461.41 125.34,461.24 125.60,461.09 125.87,460.97 126.14,460.86 126.41,460.78 126.67,460.72 126.94,460.46 127.21,460.22 127.48,460.00 127.75,459.81 128.01,459.64 128.28,459.49 128.55,459.44 128.81,459.41 129.08,459.41 129.35,459.43 129.62,459.47 129.88,459.53 130.15,459.17 130.42,458.84 130.69,458.53 130.95,458.25 131.22,457.99 131.49,457.76 131.76,458.04 132.03,458.34 132.29,458.67 132.56,459.02 132.83,459.40 133.09,459.81 133.36,460.08 133.63,460.38 133.90,460.71 134.16,461.06 134.43,461.43 134.70,461.83 134.97,462.41 135.24,463.01 135.50,463.63 135.77,464.27 136.04,464.94 136.31,465.63 136.57,466.47 136.84,467.32 137.11,468.20 137.38,469.10 137.64,470.01 137.91,470.94 138.18,471.55 138.44,472.18 138.71,472.82 138.98,473.48 139.25,474.15 139.51,474.84 139.78,475.59 140.05,476.36 140.32,477.14 140.59,477.93 140.85,478.73 141.12,479.55 141.39,480.59 141.66,481.64 141.92,482.69 142.19,483.76 142.46,484.83 142.72,485.91 142.99,486.52 143.26,487.13 143.53,487.75 143.80,488.37 144.06,488.99 144.33,489.62 144.60,490.80 144.87,491.98 145.13,493.16 145.40,494.34 145.67,495.52 145.94,496.70 146.20,497.72 146.47,498.74 146.74,499.76 147.00,500.76 147.27,501.76 147.54,502.76 147.81,503.39 148.07,504.02 148.34,504.64 148.61,505.24 148.88,505.84 149.14,506.41 149.41,507.51 149.68,508.59 149.95,509.66 150.22,510.70 150.48,511.73 150.75,512.74 151.02,513.14 151.28,513.52 151.55,513.88 151.82,514.21 152.09,514.52 152.36,514.81 152.62,515.56 152.89,516.29 153.16,517.00 153.43,517.93 153.69,518.38 153.96,518.80 154.23,519.18 154.50,519.52 154.76,519.82 155.03,520.08 155.30,520.28 155.56,520.43 155.83,520.50 156.10,520.40 156.37,520.22 156.63,519.97 156.90,519.68 157.17,519.34 157.44,518.96 157.71,518.54 157.97,518.10 158.24,517.77 158.51,517.20 158.78,516.61 159.04,516.17 159.31,515.70 159.58,515.21 159.84,514.70 160.11,514.17 160.38,513.62 160.65,512.99 160.92,512.34 161.18,511.68 161.45,511.00 161.72,510.31 161.99,509.60 162.25,508.49 162.52,507.38 162.79,506.25 163.06,505.11 163.32,503.96 163.59,502.80 163.86,502.20 164.12,501.60 164.39,500.99 164.66,500.38 164.93,499.75 165.19,499.13 165.46,498.04 165.73,496.94 166.00,495.84 166.27,494.74 166.53,493.64 166.80,492.54 167.07,491.88 167.33,491.21 167.60,490.55 167.87,489.89 168.14,489.23 168.41,488.58 168.67,487.41 168.94,486.24 169.21,485.07 169.48,483.92 169.74,482.76 170.01,481.62 170.28,480.81 170.55,480.01 170.81,479.22 171.08,478.43 171.35,477.66 171.62,476.90 171.88,476.17 172.15,475.45 172.42,474.75 172.69,474.06 172.95,473.38 173.22,472.72 173.49,472.01 173.75,471.31 174.02,470.63 174.29,469.97 174.56,469.32 174.82,468.69 175.09,468.14 175.36,467.62 175.63,467.11 175.90,466.62 176.16,466.15 176.43,465.70 176.70,465.13 176.97,464.59 177.23,464.06 177.50,463.55 177.77,463.07 178.03,462.60 178.30,462.45 178.57,462.32 178.84,462.22 179.11,462.13 179.37,462.07 179.64,462.02 179.91,461.63 180.18,461.25 180.44,460.90 180.71,460.56 180.98,460.25 181.25,459.97 181.51,459.70 181.78,459.46 182.05,459.25 182.31,459.05 182.58,458.88 182.85,458.73 183.12,458.99 183.38,459.27 183.65,459.58 183.92,459.92 184.19,460.28 184.46,460.66 184.72,460.54 184.99,460.45 185.26,460.38 185.53,460.33 185.79,460.31 186.06,460.31 186.33,460.64 186.60,460.98 186.86,461.36 187.13,461.75 187.40,462.17 187.67,462.61 187.93,463.25 188.20,463.91 188.47,464.59 188.74,465.29 189.00,466.01 189.27,466.75 189.54,467.35 189.81,467.96 190.07,468.59 190.34,469.24 190.61,469.91 190.88,470.60 191.14,471.25 191.41,471.92 191.68,472.60 191.94,473.31 192.21,474.02 192.48,474.75 192.75,475.56 193.01,476.37 193.28,477.20 193.55,478.05 193.82,478.90 194.09,479.77 194.35,480.38 194.62,481.00 194.89,481.62 195.16,482.26 195.42,482.90 195.69,483.55 195.96,484.69 196.23,485.83 196.49,486.97 196.76,488.12 197.03,489.28 197.30,490.43 197.56,491.49 197.83,492.55 198.10,493.61 198.37,494.67 198.63,495.72 198.90,496.78 199.17,497.67 199.44,498.55 199.70,499.42 199.97,500.30 200.24,501.16 200.50,502.02 200.77,502.65 201.04,503.28 201.31,503.89 201.57,504.50 201.84,505.09 202.11,505.67 202.38,506.38 202.65,507.07 202.91,507.75 203.18,508.41 203.45,509.06 203.72,509.69 203.98,510.61 204.25,511.50 204.52,512.38 204.79,513.24 205.05,514.07 205.32,514.89 205.59,515.48 205.86,516.06 206.12,516.60 206.39,517.12 206.66,517.61 206.93,518.06 207.19,518.48 207.46,518.88 207.73,519.24 208.00,519.57 208.26,519.86 208.53,520.10 208.80,520.29 209.06,520.43 209.33,520.50 209.60,520.50 209.87,520.41 210.14,520.23 210.40,519.99 210.67,519.71 210.94,519.38 211.21,519.02 211.47,518.62 211.74,518.19 212.01,518.23 212.28,517.59 212.54,516.93 212.81,516.24 213.08,515.52 213.35,514.79 213.61,514.20 213.88,513.60 214.15,512.97 214.42,512.33 214.68,511.67 214.95,511.00 215.22,510.26 215.49,509.51 215.75,508.74 216.02,507.96 216.29,507.17 216.56,506.37 216.82,505.76 217.09,505.13 217.36,504.50 217.62,503.86 217.89,503.21 218.16,502.56 218.43,501.73 218.69,500.89 218.96,500.05 219.23,499.20 219.50,498.35 219.76,497.50 220.03,496.57 220.30,495.63 220.57,494.70 220.84,493.77 221.10,492.84 221.37,491.90 221.64,490.81 221.91,489.73 222.17,488.64 222.44,487.56 222.71,486.48 222.98,485.41 223.24,484.80 223.51,484.19 223.78,483.59 224.05,483.00 224.31,482.41 224.58,481.83 224.85,480.93 225.12,480.04 225.38,479.16 225.65,478.29 225.92,477.43 226.19,476.58 226.45,475.95 226.72,475.34 226.99,474.74 227.26,474.15 227.52,473.57 227.79,473.01 228.06,472.43 228.32,471.86 228.59,471.30 228.86,470.77 229.13,470.24 229.40,469.74 229.66,469.18 229.93,468.64 230.20,468.12 230.47,467.61 230.73,467.13 231.00,466.66 231.27,465.90 231.54,465.16 231.80,464.44 232.07,463.74 232.34,463.05 232.61,462.39 232.87,462.05 233.14,461.74 233.41,461.44 233.68,461.17 233.94,460.92 234.21,460.68 234.48,460.61 234.75,460.57 235.01,460.54 235.28,460.54 235.55,460.55 235.81,460.59 236.08,460.37 236.35,460.17 236.62,460.00 236.89,459.85 237.15,459.71 237.42,459.60 237.69,459.65 237.96,459.71 238.22,459.80 238.49,459.92 238.76,460.06 239.03,460.23 239.29,460.33 239.56,460.46 239.83,460.61 240.09,460.78 240.36,460.98 240.63,461.21 240.90,461.52 241.17,461.85 241.43,462.21 241.70,462.59 241.97,463.00 242.24,463.42 242.50,464.11 242.77,464.82 243.04,465.55 243.31,466.31 243.57,467.08 243.84,467.87 244.11,468.24 244.38,468.63 244.64,469.03 244.91,469.46 245.18,469.90 245.44,470.36 245.71,471.08 245.98,471.81 246.25,472.56 246.52,473.32 246.78,474.10 247.05,474.89 247.32,475.83 247.59,476.78 247.85,477.75 248.12,478.72 248.39,479.71 248.66,480.71 248.92,481.46 249.19,482.21 249.46,482.98 249.73,483.75 249.99,484.53 250.26,485.31 250.53,486.37 250.80,487.44 251.06,488.51 251.33,489.58 251.60,490.65 251.87,491.73 252.13,492.69 252.40,493.66 252.67,494.63 252.94,495.60 253.20,496.56 253.47,497.52 253.74,498.49 254.01,499.44 254.27,500.40 254.54,501.34 254.81,502.28 255.08,503.22 255.34,503.84 255.61,504.46 255.88,505.06 256.14,505.66 256.41,506.24 256.68,506.81 256.95,507.89 257.22,508.96 257.48,510.02 257.75,511.05 258.02,512.07 258.29,513.07 258.55,513.81 258.82,514.52 259.09,515.22 259.36,515.89 259.62,516.54 259.89,517.16 260.16,517.43 260.43,517.67 260.69,517.89 260.96,518.21 261.23,518.65 261.50,519.05 261.76,519.42 262.03,519.74 262.30,520.02 262.57,520.25 262.83,520.42 263.10,520.50" fill="none" stroke="#3a3a3a" stroke-width="1.0" stroke-linejoin="round"/>
<polyline points="102.60,520.50 102.87,520.50 103.13,520.50 103.40,520.50 103.67,520.50 103.94,520.50 104.20,520.50 104.47,520.50 104.74,520.50 105.01,520.50 105.27,520.50 105.54,520.50 105.81,520.50 106.08,520.50 106.34,520.50 106.61,520.50 106.88,520.50 107.15,520.50 107.41,520.50 107.68,520.50 107.95,520.50 108.22,520.50 108.48,520.50 108.75,519.36 109.02,518.22 109.29,517.08 109.55,515.94 109.82,514.80 110.09,513.67 110.36,512.54 110.62,511.41 110.89,510.28 111.16,509.16 111.43,508.04 111.69,506.93 111.96,505.82 112.23,504.72 112.50,503.62 112.77,502.53 113.03,501.45 113.30,500.37 113.57,499.30 113.83,498.24 114.10,497.18 114.37,496.14 114.64,495.10 114.91,494.07 115.17,493.05 115.44,492.05 115.71,491.05 115.97,490.06 116.24,489.09 116.51,488.13 116.78,487.17 117.05,486.23 117.31,485.31 117.58,484.39 117.85,483.49 118.11,482.61 118.38,481.73 118.65,480.87 118.92,480.03 119.19,479.20 119.45,478.39 119.72,477.59 119.99,476.80 120.25,476.04 120.52,475.28 120.79,474.55 121.06,473.83 121.33,473.13 121.59,472.45 121.86,471.78 122.13,471.14 122.39,470.51 122.66,469.90 122.93,469.30 123.20,468.73 123.47,468.18 123.73,467.64 124.00,467.12 124.27,466.63 124.53,466.15 124.80,465.70 125.07,465.26 125.34,464.84 125.60,464.45 125.87,464.07 126.14,463.72 126.41,463.38 126.67,463.07 126.94,462.78 127.21,462.51 127.48,462.26 127.75,462.03 128.01,461.82 128.28,461.64 128.55,461.48 128.81,461.33 129.08,461.21 129.35,461.12 129.62,461.04 129.88,460.98 130.15,460.95 130.42,460.94 130.69,460.95 130.95,460.99 131.22,461.06 131.49,461.15 131.76,461.26 132.03,461.40 132.29,461.57 132.56,461.76 132.83,461.98 133.09,462.22 133.36,462.49 133.63,462.78 133.90,463.09 134.16,463.43 134.43,463.80 134.70,464.19 134.97,464.60 135.24,465.03 135.50,465.48 135.77,465.96 136.04,466.46 136.31,466.98 136.57,467.53 136.84,468.09 137.11,468.67 137.38,469.28 137.64,469.90 137.91,470.54 138.18,471.20 138.44,471.88 138.71,472.57 138.98,473.28 139.25,474.01 139.51,474.75 139.78,475.51 140.05,476.28 140.32,477.07 140.59,477.87 140.85,478.68 141.12,479.50 141.39,480.34 141.66,481.18 141.92,482.04 142.19,482.90 142.46,483.77 142.72,484.65 142.99,485.54 143.26,486.43 143.53,487.33 143.80,488.23 144.06,489.14 144.33,490.05 144.60,490.96 144.87,491.88 145.13,492.79 145.40,493.71 145.67,494.62 145.94,495.53 146.20,496.44 146.47,497.35 146.74,498.26 147.00,499.15 147.27,500.05 147.54,500.93 147.81,501.81 148.07,502.69 148.34,503.55 148.61,504.40 148.88,505.24 149.14,506.07 149.41,506.89 149.68,507.70 149.95,508.49 150.22,509.26 150.48,510.03 150.75,510.77 151.02,511.49 151.28,512.20 151.55,512.89 151.82,513.56 152.09,514.20 152.36,514.83 152.62,515.43 152.89,516.00 153.16,516.55 153.43,517.07 153.69,517.57 153.96,518.03 154.23,518.47 154.50,518.87 154.76,519.23 155.03,519.56 155.30,519.85 155.56,520.10 155.83,520.29 156.10,520.43 156.37,520.50 156.63,520.41 156.90,520.23 157.17,519.99 157.44,519.70 157.71,519.37 157.97,519.01 158.24,518.60 158.51,518.17 158.78,517.71 159.04,517.21 159.31,516.70 159.58,516.15 159.84,515.59 160.11,515.00 160.38,514.39 160.65,513.76 160.92,513.11 161.18,512.44 161.45,511.76 161.72,511.06 161.99,510.34 162.25,509.61 162.52,508.87 162.79,508.11 163.06,507.34 163.32,506.56 163.59,505.77 163.86,504.97 164.12,504.17 164.39,503.35 164.66,502.52 164.93,501.69 165.19,500.86 165.46,500.01 165.73,499.16 166.00,498.31 166.27,497.46 166.53,496.60 166.80,495.74 167.07,494.88 167.33,494.02 167.60,493.16 167.87,492.30 168.14,491.44 168.41,490.58 168.67,489.72 168.94,488.87 169.21,488.02 169.48,487.18 169.74,486.34 170.01,485.51 170.28,484.68 170.55,483.86 170.81,483.05 171.08,482.24 171.35,481.44 171.62,480.66 171.88,479.88 172.15,479.11 172.42,478.35 172.69,477.60 172.95,476.87 173.22,476.14 173.49,475.43 173.75,474.73 174.02,474.05 174.29,473.38 174.56,472.72 174.82,472.08 175.09,471.45 175.36,470.84 175.63,470.25 175.90,469.67 176.16,469.11 176.43,468.56 176.70,468.04 176.97,467.53 177.23,467.04 177.50,466.56 177.77,466.11 178.03,465.68 178.30,465.26 178.57,464.86 178.84,464.49 179.11,464.13 179.37,463.80 179.64,463.48 179.91,463.19 180.18,462.92 180.44,462.67 180.71,462.44 180.98,462.23 181.25,462.04 181.51,461.88 181.78,461.73 182.05,461.61 182.31,461.51 182.58,461.43 182.85,461.38 183.12,461.34 183.38,461.33 183.65,461.35 183.92,461.38 184.19,461.44 184.46,461.53 184.72,461.64 184.99,461.77 185.26,461.93 185.53,462.12 185.79,462.32 186.06,462.55 186.33,462.81 186.60,463.09 186.86,463.39 187.13,463.71 187.40,464.06 187.67,464.43 187.93,464.82 188.20,465.24 188.47,465.67 188.74,466.13 189.00,466.61 189.27,467.10 189.54,467.62 189.81,468.16 190.07,468.72 190.34,469.30 190.61,469.89 190.88,470.51 191.14,471.14 191.41,471.79 191.68,472.45 191.94,473.14 192.21,473.83 192.48,474.55 192.75,475.27 193.01,476.02 193.28,476.77 193.55,477.54 193.82,478.32 194.09,479.11 194.35,479.91 194.62,480.73 194.89,481.55 195.16,482.38 195.42,483.23 195.69,484.08 195.96,484.93 196.23,485.80 196.49,486.66 196.76,487.54 197.03,488.42 197.30,489.30 197.56,490.19 197.83,491.07 198.10,491.96 198.37,492.85 198.63,493.75 198.90,494.64 199.17,495.52 199.44,496.41 199.70,497.30 199.97,498.18 200.24,499.05 200.50,499.92 200.77,500.79 201.04,501.65 201.31,502.50 201.57,503.34 201.84,504.17 202.11,505.00 202.38,505.81 202.65,506.61 202.91,507.40 203.18,508.18 203.45,508.94 203.72,509.69 203.98,510.42 204.25,511.14 204.52,511.84 204.79,512.52 205.05,513.18 205.32,513.83 205.59,514.45 205.86,515.05 206.12,515.62 206.39,516.18 206.66,516.71 206.93,517.21 207.19,517.68 207.46,518.13 207.73,518.55 208.00,518.93 208.26,519.28 208.53,519.60 208.80,519.88 209.06,520.11 209.33,520.30 209.60,520.44 209.87,520.50 210.14,520.50 210.40,520.41 210.67,520.24 210.94,520.00 211.21,519.73 211.47,519.41 211.74,519.05 212.01,518.66 212.28,518.24 212.54,517.79 212.81,517.31 213.08,516.81 213.35,516.28 213.61,515.73 213.88,515.16 214.15,514.57 214.42,513.96 214.68,513.33 214.95,512.68 215.22,512.01 215.49,511.33 215.75,510.64 216.02,509.93 216.29,509.20 216.56,508.47 216.82,507.72 217.09,506.96 217.36,506.19 217.62,505.41 217.89,504.62 218.16,503.83 218.43,503.02 218.69,502.21 218.96,501.39 219.23,500.57 219.50,499.74 219.76,498.91 220.03,498.07 220.30,497.23 220.57,496.39 220.84,495.55 221.10,494.71 221.37,493.86 221.64,493.02 221.91,492.17 222.17,491.33 222.44,490.49 222.71,489.65 222.98,488.81 223.24,487.98 223.51,487.16 223.78,486.33 224.05,485.52 224.31,484.70 224.58,483.90 224.85,483.10 225.12,482.31 225.38,481.53 225.65,480.75 225.92,479.99 226.19,479.23 226.45,478.49 226.72,477.75 226.99,477.03 227.26,476.32 227.52,475.62 227.79,474.93 228.06,474.25 228.32,473.59 228.59,472.94 228.86,472.31 229.13,471.69 229.40,471.08 229.66,470.49 229.93,469.92 230.20,469.36 230.47,468.82 230.73,468.29 231.00,467.79 231.27,467.30 231.54,466.82 231.80,466.37 232.07,465.93 232.34,465.51 232.61,465.11 232.87,464.73 233.14,464.37 233.41,464.03 233.68,463.71 233.94,463.40 234.21,463.12 234.48,462.86 234.75,462.62 235.01,462.39 235.28,462.19 235.55,462.01 235.81,461.85 236.08,461.72 236.35,461.60 236.62,461.50 236.89,461.43 237.15,461.38 237.42,461.34 237.69,461.33 237.96,461.35 238.22,461.38 238.49,461.45 238.76,461.54 239.03,461.66 239.29,461.80 239.56,461.97 239.83,462.16 240.09,462.38 240.36,462.62 240.63,462.89 240.90,463.18 241.17,463.50 241.43,463.84 241.70,464.20 241.97,464.59 242.24,465.00 242.50,465.44 242.77,465.90 243.04,466.38 243.31,466.88 243.57,467.41 243.84,467.95 244.11,468.52 244.38,469.10 244.64,469.71 244.91,470.33 245.18,470.98 245.44,471.64 245.71,472.32 245.98,473.02 246.25,473.74 246.52,474.47 246.78,475.22 247.05,475.98 247.32,476.75 247.59,477.54 247.85,478.35 248.12,479.17 248.39,479.99 248.66,480.83 248.92,481.68 249.19,482.54 249.46,483.41 249.73,484.29 249.99,485.18 250.26,486.07 250.53,486.97 250.80,487.87 251.06,488.78 251.33,489.70 251.60,490.61 251.87,491.53 252.13,492.45 252.40,493.37 252.67,494.30 252.94,495.22 253.20,496.14 253.47,497.05 253.74,497.97 254.01,498.88 254.27,499.78 254.54,500.68 254.81,501.58 255.08,502.46 255.34,503.34 255.61,504.21 255.88,505.07 256.14,505.91 256.41,506.75 256.68,507.57 256.95,508.38 257.22,509.18 257.48,509.96 257.75,510.72 258.02,511.46 258.29,512.19 258.55,512.90 258.82,513.58 259.09,514.25 259.36,514.89 259.62,515.51 259.89,516.10 260.16,516.66 260.43,517.20 260.69,517.71 260.96,518.19 261.23,518.63 261.50,519.04 261.76,519.41 262.03,519.73 262.30,520.02 262.57,520.25 262.83,520.42 263.10,520.50" fill="none" stroke="#1e9a4a" stroke-width="1.3" stroke-linejoin="round"/>
<rect x="103.9" y="552.6" width="159.70" height="129.50" fill="none" stroke="#3a3a3a" stroke-width="1"/>
<line x1="101.4" y1="682.10" x2="103.9" y2="682.10" stroke="#3a3a3a" stroke-width="0.9"/>
<text x="98.70" y="684.70" font-size="7.4" fill="#404040" text-anchor="end">0.0</text>
<line x1="102.5" y1="669.15" x2="103.9" y2="669.15" stroke="#3a3a3a" stroke-width="0.9"/>
<line x1="101.4" y1="656.20" x2="103.9" y2="656.20" stroke="#3a3a3a" stroke-width="0.9"/>
<text x="98.70" y="658.80" font-size="7.4" fill="#404040" text-anchor="end">0.2</text>
<line x1="102.5" y1="643.25" x2="103.9" y2="643.25" stroke="#3a3a3a" stroke-width="0.9"/>
<line x1="101.4" y1="630.30" x2="103.9" y2="630.30" stroke="#3a3a3a" stroke-width="0.9"/>
<text x="98.70" y="632.90" font-size="7.4" fill="#404040" text-anchor="end">0.4</text>
<line x1="102.5" y1="617.35" x2="103.9" y2="617.35" stroke="#3a3a3a" stroke-width="0.9"/>
<line x1="101.4" y1="604.40" x2="103.9" y2="604.40" stroke="#3a3a3a" stroke-width="0.9"/>
<text x="98.70" y="607.00" font-size="7.4" fill="#404040" text-anchor="end">0.6</text>
<line x1="102.5" y1="591.45" x2="103.9" y2="591.45" stroke="#3a3a3a" stroke-width="0.9"/>
<line x1="101.4" y1="578.50" x2="103.9" y2="578.50" stroke="#3a3a3a" stroke-width="0.9"/>
<text x="98.70" y="581.10" font-size="7.4" fill="#404040" text-anchor="end">0.8</text>
<line x1="102.5" y1="565.55" x2="103.9" y2="565.55" stroke="#3a3a3a" stroke-width="0.9"/>
<line x1="101.4" y1="552.60" x2="103.9" y2="552.60" stroke="#3a3a3a" stroke-width="0.9"/>
<text x="98.70" y="555.20" font-size="7.4" fill="#404040" text-anchor="end">1.0</text>
<line x1="103.90" y1="682.1" x2="103.90" y2="684.6" stroke="#3a3a3a" stroke-width="0.9"/>
<text x="103.90" y="692.80" font-size="7.6" fill="#404040" text-anchor="middle">0</text>
<line x1="130.52" y1="682.1" x2="130.52" y2="683.5" stroke="#3a3a3a" stroke-width="0.9"/>
<line x1="157.13" y1="682.1" x2="157.13" y2="684.6" stroke="#3a3a3a" stroke-width="0.9"/>
<text x="157.13" y="692.80" font-size="7.6" fill="#404040" text-anchor="middle">10</text>
<line x1="183.75" y1="682.1" x2="183.75" y2="683.5" stroke="#3a3a3a" stroke-width="0.9"/>
<line x1="210.37" y1="682.1" x2="210.37" y2="684.6" stroke="#3a3a3a" stroke-width="0.9"/>
<text x="210.37" y="692.80" font-size="7.6" fill="#404040" text-anchor="middle">20</text>
<line x1="236.98" y1="682.1" x2="236.98" y2="683.5" stroke="#3a3a3a" stroke-width="0.9"/>
<line x1="263.60" y1="682.1" x2="263.60" y2="684.6" stroke="#3a3a3a" stroke-width="0.9"/>
<text x="263.60" y="692.80" font-size="7.6" fill="#404040" text-anchor="middle">30</text>
<text x="163.13" y="697.90" font-size="8.6" fill="#404040">Time (sec)</text>
<text transform="translate(80.40,617.9) rotate(-90)" font-size="8.6" fill="#404040" text-anchor="middle">Strain (%)</text>
<rect x="135.5" y="560.2" width="90.70" height="43.80" fill="#fff" stroke="#8a8a8a" stroke-width="0.8"/>
<rect x="158.9" y="568.1" width="43.20" height="35.90" fill="#d6edc4"/>
<line x1="180.7" y1="556.2" x2="180.7" y2="604.0" stroke="#555" stroke-width="0.6" stroke-dasharray="1,1"/>
<line x1="180.7" y1="604.0" x2="227.7" y2="604.0" stroke="#555" stroke-width="0.6" stroke-dasharray="1,1"/>
<rect x="179.89999999999998" y="592.7" width="1.6" height="11.30" fill="#111"/>
<line x1="175.5" y1="592.7" x2="175.5" y2="604.0" stroke="#111" stroke-width="0.8"/>
<line x1="174.1" y1="592.7" x2="176.89999999999998" y2="592.7" stroke="#222" stroke-width="0.6"/>
<text x="137.0" y="565.3" font-family="Liberation Serif, serif" font-size="5.2" fill="#333">Specimen</text>
<text x="178.29999999999998" y="591.0" font-family="Liberation Serif, serif" font-size="5.3" fill="#222" text-anchor="end">Crack</text>
<text x="174.39999999999998" y="599.75" font-family="Liberation Serif, serif" font-size="3.9" fill="#222" text-anchor="end">15 mm</text>
<circle cx="184.5" cy="600.5" r="1.1" fill="#ee1c1c"/>
<text x="186.0" y="599.2" font-family="Liberation Serif, serif" font-size="5.6" fill="#ee2222" font-weight="bold">Ch.84</text>
<polyline points="103.90,682.10 104.17,682.10 104.43,682.10 104.70,682.10 104.96,682.10 105.23,682.10 105.50,682.10 105.76,682.10 106.03,682.10 106.30,682.10 106.56,682.10 106.83,682.10 107.09,682.10 107.36,682.10 107.63,682.10 107.89,682.10 108.16,682.10 108.42,682.10 108.69,682.10 108.96,682.10 109.22,682.10 109.49,681.93 109.76,681.66 110.02,681.34 110.29,680.97 110.55,680.58 110.82,680.15 111.09,679.71 111.35,679.24 111.62,678.75 111.89,678.24 112.15,677.72 112.42,677.18 112.68,676.63 112.95,676.07 113.22,675.49 113.48,674.91 113.75,674.31 114.01,673.71 114.28,673.10 114.55,672.48 114.81,671.86 115.08,671.23 115.35,670.60 115.61,669.96 115.88,669.32 116.14,668.68 116.41,668.04 116.68,667.39 116.94,666.75 117.21,666.10 117.47,665.45 117.74,664.81 118.01,664.16 118.27,663.52 118.54,662.88 118.81,662.25 119.07,661.62 119.34,660.99 119.60,660.36 119.87,659.75 120.14,659.13 120.40,658.53 120.67,657.93 120.93,657.34 121.20,656.75 121.47,656.18 121.73,655.61 122.00,655.05 122.27,654.50 122.53,653.96 122.80,653.42 123.06,652.90 123.33,652.39 123.60,651.90 123.86,651.41 124.13,650.93 124.39,650.47 124.66,650.02 124.93,649.58 125.19,649.16 125.46,648.75 125.73,648.35 125.99,647.97 126.26,647.60 126.52,647.25 126.79,646.91 127.06,646.58 127.32,646.27 127.59,645.98 127.86,645.70 128.12,645.44 128.39,645.19 128.65,644.96 128.92,644.75 129.19,644.55 129.45,644.37 129.72,644.21 129.98,644.06 130.25,643.93 130.52,643.82 130.78,643.73 131.05,643.65 131.32,643.59 131.58,643.54 131.85,643.52 132.11,643.51 132.38,643.52 132.65,643.55 132.91,643.61 133.18,643.69 133.44,643.79 133.71,643.91 133.98,644.05 134.24,644.21 134.51,644.40 134.78,644.61 135.04,644.83 135.31,645.08 135.57,645.35 135.84,645.64 136.11,645.95 136.37,646.28 136.64,646.62 136.90,646.99 137.17,647.38 137.44,647.78 137.70,648.20 137.97,648.63 138.24,649.09 138.50,649.56 138.77,650.04 139.03,650.54 139.30,651.06 139.57,651.59 139.83,652.13 140.10,652.68 140.36,653.25 140.63,653.83 140.90,654.42 141.16,655.02 141.43,655.63 141.70,656.24 141.96,656.87 142.23,657.50 142.49,658.14 142.76,658.79 143.03,659.44 143.29,660.10 143.56,660.76 143.83,661.42 144.09,662.09 144.36,662.75 144.62,663.42 144.89,664.09 145.16,664.76 145.42,665.42 145.69,666.09 145.95,666.75 146.22,667.40 146.49,668.06 146.75,668.70 147.02,669.34 147.29,669.98 147.55,670.60 147.82,671.22 148.08,671.83 148.35,672.43 148.62,673.02 148.88,673.60 149.15,674.16 149.41,674.71 149.68,675.25 149.95,675.78 150.21,676.28 150.48,676.78 150.75,677.25 151.01,677.71 151.28,678.15 151.54,678.58 151.81,678.98 152.08,679.36 152.34,679.72 152.61,680.06 152.87,680.38 153.14,680.68 153.41,680.95 153.67,681.19 153.94,681.41 154.21,681.60 154.47,681.77 154.74,681.90 155.00,682.00 155.27,682.07 155.54,682.10 155.80,682.10 156.07,682.10 156.33,682.10 156.60,682.10 156.87,682.10 157.13,682.10 157.40,682.10 157.67,682.10 157.93,682.10 158.20,682.10 158.46,682.10 158.73,682.10 159.00,682.10 159.26,682.10 159.53,682.10 159.80,682.10 160.06,681.95 160.33,681.72 160.59,681.44 160.86,681.12 161.13,680.78 161.39,680.41 161.66,680.02 161.92,679.61 162.19,679.18 162.46,678.74 162.72,678.29 162.99,677.82 163.26,677.34 163.52,676.84 163.79,676.34 164.05,675.83 164.32,675.31 164.59,674.78 164.85,674.25 165.12,673.70 165.38,673.15 165.65,672.60 165.92,672.04 166.18,671.48 166.45,670.91 166.72,670.34 166.98,669.77 167.25,669.19 167.51,668.62 167.78,668.04 168.05,667.46 168.31,666.88 168.58,666.30 168.84,665.72 169.11,665.14 169.38,664.57 169.64,663.99 169.91,663.42 170.18,662.85 170.44,662.28 170.71,661.71 170.97,661.15 171.24,660.60 171.51,660.04 171.77,659.50 172.04,658.95 172.30,658.42 172.57,657.88 172.84,657.36 173.10,656.84 173.37,656.33 173.64,655.82 173.90,655.33 174.17,654.84 174.43,654.36 174.70,653.88 174.97,653.42 175.23,652.96 175.50,652.51 175.77,652.08 176.03,651.65 176.30,651.23 176.56,650.83 176.83,650.43 177.10,650.04 177.36,649.67 177.63,649.30 177.89,648.95 178.16,648.61 178.43,648.28 178.69,647.96 178.96,647.66 179.23,647.36 179.49,647.08 179.76,646.81 180.02,646.56 180.29,646.32 180.56,646.09 180.82,645.87 181.09,645.67 181.35,645.48 181.62,645.31 181.89,645.14 182.15,645.00 182.42,644.86 182.69,644.74 182.95,644.63 183.22,644.54 183.48,644.46 183.75,644.40 184.02,644.35 184.28,644.31 184.55,644.29 184.81,644.29 185.08,644.30 185.35,644.33 185.61,644.38 185.88,644.46 186.15,644.56 186.41,644.68 186.68,644.81 186.94,644.98 187.21,645.16 187.48,645.36 187.74,645.58 188.01,645.83 188.27,646.09 188.54,646.37 188.81,646.68 189.07,647.00 189.34,647.34 189.61,647.70 189.87,648.07 190.14,648.47 190.40,648.88 190.67,649.31 190.94,649.75 191.20,650.21 191.47,650.69 191.74,651.18 192.00,651.68 192.27,652.20 192.53,652.73 192.80,653.28 193.07,653.83 193.33,654.40 193.60,654.97 193.86,655.56 194.13,656.16 194.40,656.76 194.66,657.38 194.93,658.00 195.20,658.62 195.46,659.26 195.73,659.90 195.99,660.54 196.26,661.19 196.53,661.84 196.79,662.49 197.06,663.14 197.32,663.80 197.59,664.45 197.86,665.10 198.12,665.76 198.39,666.41 198.66,667.06 198.92,667.70 199.19,668.34 199.45,668.97 199.72,669.60 199.99,670.22 200.25,670.84 200.52,671.44 200.78,672.04 201.05,672.63 201.32,673.20 201.58,673.77 201.85,674.32 202.12,674.86 202.38,675.39 202.65,675.90 202.91,676.40 203.18,676.88 203.45,677.35 203.71,677.80 203.98,678.23 204.24,678.65 204.51,679.04 204.78,679.42 205.04,679.77 205.31,680.10 205.58,680.42 205.84,680.70 206.11,680.97 206.37,681.21 206.64,681.42 206.91,681.61 207.17,681.77 207.44,681.91 207.71,682.01 207.97,682.07 208.24,682.10 208.50,682.10 208.77,682.10 209.04,682.10 209.30,682.10 209.57,682.10 209.83,682.10 210.10,682.10 210.37,682.10 210.63,682.10 210.90,682.10 211.17,682.10 211.43,682.10 211.70,682.10 211.96,682.10 212.23,682.10 212.50,681.96 212.76,681.73 213.03,681.46 213.29,681.16 213.56,680.83 213.83,680.48 214.09,680.11 214.36,679.71 214.63,679.30 214.89,678.88 215.16,678.44 215.42,677.99 215.69,677.53 215.96,677.06 216.22,676.58 216.49,676.08 216.75,675.58 217.02,675.08 217.29,674.56 217.55,674.04 217.82,673.51 218.09,672.98 218.35,672.44 218.62,671.90 218.88,671.35 219.15,670.80 219.42,670.25 219.68,669.69 219.95,669.13 220.21,668.57 220.48,668.01 220.75,667.45 221.01,666.89 221.28,666.33 221.55,665.77 221.81,665.21 222.08,664.65 222.34,664.09 222.61,663.53 222.88,662.98 223.14,662.43 223.41,661.88 223.68,661.34 223.94,660.80 224.21,660.26 224.47,659.73 224.74,659.20 225.01,658.68 225.27,658.16 225.54,657.65 225.80,657.14 226.07,656.64 226.34,656.15 226.60,655.66 226.87,655.18 227.14,654.71 227.40,654.24 227.67,653.79 227.93,653.34 228.20,652.90 228.47,652.46 228.73,652.04 229.00,651.63 229.26,651.22 229.53,650.83 229.80,650.44 230.06,650.07 230.33,649.71 230.60,649.35 230.86,649.01 231.13,648.67 231.39,648.35 231.66,648.04 231.93,647.74 232.19,647.46 232.46,647.18 232.72,646.92 232.99,646.66 233.26,646.42 233.52,646.20 233.79,645.98 234.06,645.78 234.32,645.59 234.59,645.41 234.85,645.24 235.12,645.09 235.39,644.95 235.65,644.83 235.92,644.71 236.18,644.61 236.45,644.53 236.72,644.45 236.98,644.39 237.25,644.35 237.52,644.31 237.78,644.29 238.05,644.29 238.31,644.30 238.58,644.33 238.85,644.38 239.11,644.46 239.38,644.56 239.65,644.68 239.91,644.81 240.18,644.98 240.44,645.16 240.71,645.36 240.98,645.58 241.24,645.83 241.51,646.09 241.77,646.37 242.04,646.68 242.31,647.00 242.57,647.34 242.84,647.70 243.11,648.07 243.37,648.47 243.64,648.88 243.90,649.31 244.17,649.75 244.44,650.21 244.70,650.69 244.97,651.18 245.23,651.68 245.50,652.20 245.77,652.73 246.03,653.28 246.30,653.83 246.57,654.40 246.83,654.97 247.10,655.56 247.36,656.16 247.63,656.76 247.90,657.38 248.16,658.00 248.43,658.62 248.69,659.26 248.96,659.90 249.23,660.54 249.49,661.19 249.76,661.84 250.03,662.49 250.29,663.14 250.56,663.80 250.82,664.45 251.09,665.10 251.36,665.76 251.62,666.41 251.89,667.06 252.15,667.70 252.42,668.34 252.69,668.97 252.95,669.60 253.22,670.22 253.49,670.84 253.75,671.44 254.02,672.04 254.28,672.63 254.55,673.20 254.82,673.77 255.08,674.32 255.35,674.86 255.62,675.39 255.88,675.90 256.15,676.40 256.41,676.88 256.68,677.35 256.95,677.80 257.21,678.23 257.48,678.65 257.74,679.04 258.01,679.42 258.28,679.77 258.54,680.10 258.81,680.42 259.08,680.70 259.34,680.97 259.61,681.21 259.87,681.42 260.14,681.61 260.41,681.77 260.67,681.91 260.94,682.01 261.20,682.07 261.47,682.10 261.74,682.10 262.00,682.10 262.27,682.10 262.54,682.10 262.80,682.10 263.07,682.10 263.33,682.10 263.60,682.10" fill="none" stroke="#e8282d" stroke-width="1.2" stroke-linejoin="round"/>
<polyline points="103.90,682.10 104.17,682.10 104.43,682.10 104.70,682.10 104.96,682.10 105.23,682.10 105.50,682.10 105.76,682.10 106.03,682.10 106.30,682.10 106.56,682.10 106.83,682.10 107.09,682.10 107.36,682.10 107.63,682.10 107.89,682.10 108.16,682.10 108.42,682.10 108.69,682.10 108.96,682.10 109.22,681.62 109.49,680.99 109.76,680.31 110.02,679.58 110.29,678.81 110.55,678.02 110.82,677.20 111.09,676.35 111.35,675.49 111.62,674.62 111.89,673.73 112.15,672.82 112.42,671.91 112.68,670.98 112.95,670.05 113.22,669.11 113.48,668.16 113.75,667.20 114.01,666.24 114.28,665.27 114.55,664.30 114.81,663.33 115.08,662.36 115.35,661.38 115.61,660.40 115.88,659.42 116.14,658.44 116.41,657.46 116.68,656.49 116.94,655.51 117.21,654.54 117.47,653.57 117.74,652.60 118.01,651.64 118.27,650.68 118.54,649.73 118.81,648.78 119.07,647.83 119.34,646.90 119.60,645.97 119.87,645.04 120.14,644.13 120.40,643.22 120.67,642.35 120.93,641.52 121.20,640.73 121.47,639.95 121.73,639.21 122.00,638.48 122.27,637.78 122.53,637.10 122.80,636.44 123.06,635.80 123.33,635.18 123.60,634.57 123.86,633.99 124.13,633.42 124.39,632.87 124.66,632.33 124.93,631.81 125.19,631.31 125.46,630.82 125.73,630.35 125.99,629.90 126.26,629.46 126.52,629.03 126.79,628.62 127.06,628.23 127.32,627.84 127.59,627.47 127.86,627.12 128.12,626.78 128.39,626.45 128.65,626.14 128.92,625.83 129.19,625.55 129.45,625.27 129.72,625.01 129.98,624.75 130.25,624.51 130.52,624.29 130.78,624.07 131.05,623.87 131.32,623.67 131.58,623.49 131.85,623.32 132.11,623.16 132.38,623.01 132.65,622.87 132.91,622.75 133.18,622.88 133.44,623.03 133.71,623.20 133.98,623.37 134.24,623.56 134.51,623.77 134.78,623.98 135.04,624.21 135.31,624.44 135.57,624.69 135.84,624.94 136.11,625.20 136.37,625.47 136.64,625.74 136.90,626.01 137.17,626.29 137.44,626.57 137.70,626.85 137.97,627.14 138.24,627.43 138.50,627.74 138.77,628.05 139.03,628.39 139.30,628.74 139.57,629.13 139.83,629.54 140.10,629.99 140.36,630.48 140.63,631.02 140.90,631.61 141.16,632.25 141.43,632.94 141.70,633.68 141.96,634.48 142.23,635.32 142.49,636.20 142.76,637.13 143.03,638.10 143.29,639.10 143.56,640.13 143.83,641.20 144.09,642.29 144.36,643.42 144.62,644.58 144.89,645.72 145.16,646.85 145.42,647.96 145.69,649.05 145.95,650.13 146.22,651.19 146.49,652.23 146.75,653.27 147.02,654.29 147.29,655.31 147.55,656.31 147.82,657.30 148.08,658.28 148.35,659.26 148.62,660.22 148.88,661.17 149.15,662.12 149.41,663.05 149.68,663.97 149.95,664.88 150.21,665.77 150.48,666.66 150.75,667.52 151.01,668.37 151.28,669.21 151.54,670.03 151.81,670.83 152.08,671.61 152.34,672.37 152.61,673.11 152.87,673.83 153.14,674.53 153.41,675.20 153.67,675.85 153.94,676.48 154.21,677.08 154.47,677.65 154.74,678.20 155.00,678.71 155.27,679.20 155.54,679.66 155.80,680.08 156.07,680.48 156.33,680.83 156.60,681.16 156.87,681.44 157.13,681.68 157.40,681.88 157.67,682.02 157.93,682.10 158.20,682.10 158.46,682.10 158.73,681.69 159.00,681.17 159.26,680.60 159.53,679.99 159.80,679.35 160.06,678.68 160.33,677.99 160.59,677.29 160.86,676.57 161.13,675.83 161.39,675.08 161.66,674.32 161.92,673.55 162.19,672.77 162.46,671.99 162.72,671.19 162.99,670.39 163.26,669.58 163.52,668.77 163.79,667.95 164.05,667.12 164.32,666.30 164.59,665.46 164.85,664.63 165.12,663.79 165.38,662.96 165.65,662.12 165.92,661.27 166.18,660.43 166.45,659.59 166.72,658.75 166.98,657.91 167.25,657.07 167.51,656.23 167.78,655.39 168.05,654.55 168.31,653.72 168.58,652.88 168.84,652.05 169.11,651.23 169.38,650.41 169.64,649.59 169.91,648.77 170.18,647.96 170.44,647.15 170.71,646.35 170.97,645.56 171.24,644.77 171.51,643.98 171.77,643.20 172.04,642.46 172.30,641.74 172.57,641.05 172.84,640.38 173.10,639.72 173.37,639.09 173.64,638.47 173.90,637.87 174.17,637.28 174.43,636.71 174.70,636.15 174.97,635.61 175.23,635.08 175.50,634.56 175.77,634.06 176.03,633.57 176.30,633.09 176.56,632.63 176.83,632.18 177.10,631.74 177.36,631.31 177.63,630.90 177.89,630.49 178.16,630.10 178.43,629.72 178.69,629.35 178.96,628.99 179.23,628.64 179.49,628.31 179.76,627.98 180.02,627.66 180.29,627.36 180.56,627.06 180.82,626.77 181.09,626.50 181.35,626.23 181.62,625.97 181.89,625.72 182.15,625.49 182.42,625.26 182.69,625.04 182.95,624.83 183.22,624.62 183.48,624.43 183.75,624.25 184.02,624.07 184.28,623.91 184.55,623.75 184.81,623.60 185.08,623.45 185.35,623.32 185.61,623.20 185.88,623.08 186.15,622.97 186.41,623.11 186.68,623.26 186.94,623.43 187.21,623.61 187.48,623.81 187.74,624.02 188.01,624.24 188.27,624.47 188.54,624.72 188.81,624.97 189.07,625.23 189.34,625.51 189.61,625.78 189.87,626.06 190.14,626.35 190.40,626.64 190.67,626.93 190.94,627.23 191.20,627.53 191.47,627.84 191.74,628.16 192.00,628.50 192.27,628.85 192.53,629.22 192.80,629.62 193.07,630.06 193.33,630.53 193.60,631.05 193.86,631.61 194.13,632.22 194.40,632.88 194.66,633.60 194.93,634.38 195.20,635.20 195.46,636.07 195.73,637.00 195.99,637.96 196.26,638.97 196.53,640.01 196.79,641.09 197.06,642.21 197.32,643.37 197.59,644.56 197.86,645.74 198.12,646.90 198.39,648.04 198.66,649.17 198.92,650.28 199.19,651.37 199.45,652.44 199.72,653.50 199.99,654.55 200.25,655.59 200.52,656.61 200.78,657.62 201.05,658.62 201.32,659.61 201.58,660.59 201.85,661.56 202.12,662.51 202.38,663.46 202.65,664.39 202.91,665.31 203.18,666.21 203.45,667.10 203.71,667.98 203.98,668.83 204.24,669.67 204.51,670.50 204.78,671.30 205.04,672.08 205.31,672.84 205.58,673.58 205.84,674.30 206.11,675.00 206.37,675.67 206.64,676.31 206.91,676.93 207.17,677.52 207.44,678.08 207.71,678.61 207.97,679.12 208.24,679.59 208.50,680.03 208.77,680.43 209.04,680.80 209.30,681.13 209.57,681.42 209.83,681.67 210.10,681.87 210.37,682.02 210.63,682.10 210.90,682.10 211.17,682.10 211.43,682.10 211.70,681.67 211.96,681.12 212.23,680.51 212.50,679.86 212.76,679.18 213.03,678.47 213.29,677.74 213.56,676.99 213.83,676.23 214.09,675.45 214.36,674.65 214.63,673.85 214.89,673.03 215.16,672.20 215.42,671.37 215.69,670.53 215.96,669.67 216.22,668.82 216.49,667.96 216.75,667.09 217.02,666.22 217.29,665.34 217.55,664.46 217.82,663.58 218.09,662.69 218.35,661.81 218.62,660.92 218.88,660.03 219.15,659.14 219.42,658.25 219.68,657.36 219.95,656.47 220.21,655.59 220.48,654.70 220.75,653.82 221.01,652.94 221.28,652.06 221.55,651.19 221.81,650.31 222.08,649.45 222.34,648.58 222.61,647.72 222.88,646.87 223.14,646.02 223.41,645.17 223.68,644.34 223.94,643.50 224.21,642.69 224.47,641.92 224.74,641.18 225.01,640.45 225.27,639.75 225.54,639.07 225.80,638.41 226.07,637.77 226.34,637.14 226.60,636.53 226.87,635.93 227.14,635.35 227.40,634.79 227.67,634.24 227.93,633.71 228.20,633.19 228.47,632.68 228.73,632.19 229.00,631.71 229.26,631.24 229.53,630.79 229.80,630.35 230.06,629.92 230.33,629.50 230.60,629.10 230.86,628.71 231.13,628.33 231.39,627.96 231.66,627.60 231.93,627.26 232.19,626.93 232.46,626.60 232.72,626.29 232.99,625.99 233.26,625.70 233.52,625.42 233.79,625.15 234.06,624.89 234.32,624.64 234.59,624.40 234.85,624.17 235.12,623.95 235.39,623.74 235.65,623.54 235.92,623.35 236.18,623.16 236.45,622.99 236.72,622.82 236.98,622.67 237.25,622.52 237.52,622.38 237.78,622.26 238.05,622.13 238.31,622.02 238.58,622.16 238.85,622.31 239.11,622.48 239.38,622.66 239.65,622.86 239.91,623.07 240.18,623.29 240.44,623.53 240.71,623.78 240.98,624.05 241.24,624.32 241.51,624.61 241.77,624.91 242.04,625.22 242.31,625.54 242.57,625.87 242.84,626.20 243.11,626.54 243.37,626.88 243.64,627.22 243.90,627.57 244.17,627.92 244.44,628.28 244.70,628.64 244.97,629.01 245.23,629.40 245.50,629.80 245.77,630.23 246.03,630.68 246.30,631.17 246.57,631.69 246.83,632.26 247.10,632.88 247.36,633.54 247.63,634.26 247.90,635.04 248.16,635.87 248.43,636.75 248.69,637.69 248.96,638.68 249.23,639.71 249.49,640.79 249.76,641.91 250.03,643.09 250.29,644.32 250.56,645.53 250.82,646.74 251.09,647.93 251.36,649.10 251.62,650.25 251.89,651.38 252.15,652.49 252.42,653.58 252.69,654.65 252.95,655.70 253.22,656.74 253.49,657.76 253.75,658.77 254.02,659.76 254.28,660.75 254.55,661.72 254.82,662.67 255.08,663.61 255.35,664.54 255.62,665.45 255.88,666.35 256.15,667.24 256.41,668.11 256.68,668.96 256.95,669.79 257.21,670.61 257.48,671.40 257.74,672.18 258.01,672.94 258.28,673.67 258.54,674.38 258.81,675.07 259.08,675.73 259.34,676.37 259.61,676.98 259.87,677.56 260.14,678.12 260.41,678.65 260.67,679.15 260.94,679.61 261.20,680.05 261.47,680.45 261.74,680.81 262.00,681.14 262.27,681.43 262.54,681.67 262.80,681.87 263.07,682.02 263.33,682.10 263.60,682.10" fill="none" stroke="#2a74dc" stroke-width="1.7" stroke-linejoin="round"/>
<polyline points="103.90,682.10 104.17,682.10 104.43,682.10 104.70,682.10 104.96,682.10 105.23,682.10 105.50,682.10 105.76,682.10 106.03,682.10 106.30,682.10 106.56,682.10 106.83,682.10 107.09,682.10 107.36,682.10 107.63,682.10 107.89,682.10 108.16,682.10 108.42,682.10 108.69,682.10 108.96,682.10 109.22,682.10 109.49,681.62 109.76,681.01 110.02,680.34 110.29,679.62 110.55,679.63 110.82,678.85 111.09,678.06 111.35,677.24 111.62,676.40 111.89,675.55 112.15,674.64 112.42,673.71 112.68,672.77 112.95,671.82 113.22,670.86 113.48,669.89 113.75,668.77 114.01,667.65 114.28,666.53 114.55,665.40 114.81,664.26 115.08,663.12 115.35,662.38 115.61,661.63 115.88,660.88 116.14,660.13 116.41,659.37 116.68,658.62 116.94,657.46 117.21,656.30 117.47,655.13 117.74,653.98 118.01,652.82 118.27,651.67 118.54,650.76 118.81,649.84 119.07,648.94 119.34,648.04 119.60,647.15 119.87,646.26 120.14,645.53 120.40,644.82 120.67,644.10 120.93,643.40 121.20,642.71 121.47,642.02 121.73,641.03 122.00,640.04 122.27,639.07 122.53,638.10 122.80,637.15 123.06,636.20 123.33,635.44 123.60,634.69 123.86,633.95 124.13,633.22 124.39,632.50 124.66,631.80 124.93,631.09 125.19,630.40 125.46,629.72 125.73,629.05 125.99,628.40 126.26,627.76 126.52,626.92 126.79,626.10 127.06,625.29 127.32,624.50 127.59,623.72 127.86,622.96 128.12,622.73 128.39,622.52 128.65,622.32 128.92,622.13 129.19,621.97 129.45,621.82 129.72,621.40 129.98,620.99 130.25,620.61 130.52,620.24 130.78,619.89 131.05,619.55 131.32,618.89 131.58,618.25 131.85,617.63 132.11,617.02 132.38,616.43 132.65,615.86 132.91,615.80 133.18,615.77 133.44,616.19 133.71,616.64 133.98,617.11 134.24,617.60 134.51,618.00 134.78,618.42 135.04,618.86 135.31,619.32 135.57,619.79 135.84,620.29 136.11,620.68 136.37,621.08 136.64,621.50 136.90,621.93 137.17,622.37 137.44,622.82 137.70,623.31 137.97,623.81 138.24,624.33 138.50,624.85 138.77,625.39 139.03,625.94 139.30,626.32 139.57,626.73 139.83,627.17 140.10,627.63 140.36,628.14 140.63,628.68 140.90,629.72 141.16,630.80 141.43,631.92 141.70,633.08 141.96,634.28 142.23,635.51 142.49,636.52 142.76,637.55 143.03,638.60 143.29,639.66 143.56,640.74 143.83,641.82 144.09,642.78 144.36,643.73 144.62,644.69 144.89,645.63 145.16,646.57 145.42,647.50 145.69,648.56 145.95,649.61 146.22,650.65 146.49,651.68 146.75,652.70 147.02,653.72 147.29,654.57 147.55,655.42 147.82,656.25 148.08,657.08 148.35,657.91 148.62,658.72 148.88,659.70 149.15,660.68 149.41,661.65 149.68,662.60 149.95,663.55 150.21,664.48 150.48,665.52 150.75,666.56 151.01,667.57 151.28,668.58 151.54,669.57 151.81,670.54 152.08,671.37 152.34,672.19 152.61,672.99 152.87,673.77 153.14,674.53 153.41,675.27 153.67,675.72 153.94,676.14 154.21,676.53 154.47,676.90 154.74,677.25 155.00,677.57 155.27,678.02 155.54,678.45 155.80,679.70 156.07,680.12 156.33,680.51 156.60,680.86 156.87,681.17 157.13,681.45 157.40,681.69 157.67,681.88 157.93,682.02 158.20,682.10 158.46,682.10 158.73,682.10 159.00,681.70 159.26,681.18 159.53,680.61 159.80,680.00 160.06,678.82 160.33,678.11 160.59,677.38 160.86,676.64 161.13,675.87 161.39,675.09 161.66,674.42 161.92,673.74 162.19,673.05 162.46,672.35 162.72,671.64 162.99,670.92 163.26,670.27 163.52,669.61 163.79,668.95 164.05,668.29 164.32,667.62 164.59,666.94 164.85,665.91 165.12,664.88 165.38,663.85 165.65,662.81 165.92,661.78 166.18,660.74 166.45,659.93 166.72,659.11 166.98,658.29 167.25,657.48 167.51,656.66 167.78,655.85 168.05,655.20 168.31,654.55 168.58,653.90 168.84,653.26 169.11,652.62 169.38,651.98 169.64,651.01 169.91,650.04 170.18,649.07 170.44,648.11 170.71,647.15 170.97,646.20 171.24,645.55 171.51,644.91 171.77,644.28 172.04,643.65 172.30,643.02 172.57,642.40 172.84,641.71 173.10,641.02 173.37,640.34 173.64,639.67 173.90,639.00 174.17,638.34 174.43,637.53 174.70,636.73 174.97,635.93 175.23,635.14 175.50,634.36 175.77,633.59 176.03,632.94 176.30,632.29 176.56,631.65 176.83,631.02 177.10,630.40 177.36,629.80 177.63,629.18 177.89,628.57 178.16,627.97 178.43,627.38 178.69,626.81 178.96,626.24 179.23,625.62 179.49,625.01 179.76,624.42 180.02,623.83 180.29,623.26 180.56,622.70 180.82,622.18 181.09,621.66 181.35,621.16 181.62,620.67 181.89,620.19 182.15,619.73 182.42,619.30 182.69,618.88 182.95,618.47 183.22,618.08 183.48,617.70 183.75,617.34 184.02,617.02 184.28,616.72 184.55,616.43 184.81,616.16 185.08,615.90 185.35,615.65 185.61,615.41 185.88,615.19 186.15,614.98 186.41,614.78 186.68,615.02 186.94,615.28 187.21,615.65 187.48,616.04 187.74,616.45 188.01,616.88 188.27,617.33 188.54,617.81 188.81,618.40 189.07,619.01 189.34,619.63 189.61,620.27 189.87,620.92 190.14,621.59 190.40,622.14 190.67,622.70 190.94,623.28 191.20,623.86 191.47,624.46 191.74,625.07 192.00,625.49 192.27,625.93 192.53,626.40 192.80,626.89 193.07,627.40 193.33,627.95 193.60,628.72 193.86,629.52 194.13,630.36 194.40,631.25 194.66,632.18 194.93,633.14 195.20,634.08 195.46,635.04 195.73,636.04 195.99,637.06 196.26,638.10 196.53,639.16 196.79,640.47 197.06,641.79 197.32,643.11 197.59,644.43 197.86,645.74 198.12,647.05 198.39,648.11 198.66,649.16 198.92,650.21 199.19,651.24 199.45,652.26 199.72,653.28 199.99,654.06 200.25,654.84 200.52,655.60 200.78,656.36 201.05,657.11 201.32,657.85 201.58,658.95 201.85,660.03 202.12,661.10 202.38,662.16 202.65,663.21 202.91,664.25 203.18,665.13 203.45,666.00 203.71,666.85 203.98,667.69 204.24,668.51 204.51,669.32 204.78,670.34 205.04,671.35 205.31,672.34 205.58,673.30 205.84,674.25 206.11,675.17 206.37,675.76 206.64,676.32 206.91,676.86 207.17,677.37 207.44,677.85 207.71,678.30 207.97,678.66 208.24,678.98 208.50,679.60 208.77,680.03 209.04,680.44 209.30,680.80 209.57,681.13 209.83,681.42 210.10,681.67 210.37,681.87 210.63,682.02 210.90,682.10 211.17,682.10 211.43,682.10 211.70,682.10 211.96,681.67 212.23,681.12 212.50,680.51 212.76,679.87 213.03,678.72 213.29,678.29 213.56,677.84 213.83,677.36 214.09,676.88 214.36,676.01 214.63,675.13 214.89,674.24 215.16,673.34 215.42,672.42 215.69,671.50 215.96,670.54 216.22,669.58 216.49,668.60 216.75,667.63 217.02,666.64 217.29,665.65 217.55,664.90 217.82,664.15 218.09,663.39 218.35,662.64 218.62,661.88 218.88,661.11 219.15,660.11 219.42,659.10 219.68,658.10 219.95,657.10 220.21,656.09 220.48,655.09 220.75,654.29 221.01,653.48 221.28,652.69 221.55,651.89 221.81,651.10 222.08,650.31 222.34,649.59 222.61,648.89 222.88,648.18 223.14,647.49 223.41,646.79 223.68,646.11 223.94,645.28 224.21,644.45 224.47,643.64 224.74,642.83 225.01,642.03 225.27,641.23 225.54,640.13 225.80,639.04 226.07,637.95 226.34,636.88 226.60,635.81 226.87,634.75 227.14,634.30 227.40,633.87 227.67,633.44 227.93,633.02 228.20,632.61 228.47,632.21 228.73,631.50 229.00,630.80 229.26,630.11 229.53,629.43 229.80,628.76 230.06,628.11 230.33,627.44 230.60,626.78 230.86,626.14 231.13,625.50 231.39,624.88 231.66,624.27 231.93,623.60 232.19,622.93 232.46,622.28 232.72,621.64 232.99,621.01 233.26,620.40 233.52,619.88 233.79,619.38 234.06,618.89 234.32,618.41 234.59,617.95 234.85,617.50 235.12,617.24 235.39,617.00 235.65,616.77 235.92,616.56 236.18,616.36 236.45,616.17 236.72,615.86 236.98,615.57 237.25,615.29 237.52,615.02 237.78,614.77 238.05,614.53 238.31,614.22 238.58,613.92 238.85,614.06 239.11,614.23 239.38,614.43 239.65,614.65 239.91,615.17 240.18,615.72 240.44,616.28 240.71,616.87 240.98,617.49 241.24,618.12 241.51,618.57 241.77,619.03 242.04,619.51 242.31,620.01 242.57,620.52 242.84,621.05 243.11,621.54 243.37,622.03 243.64,622.54 243.90,623.06 244.17,623.58 244.44,624.11 244.70,624.73 244.97,625.35 245.23,625.99 245.50,626.65 245.77,627.32 246.03,628.02 246.30,628.96 246.57,629.92 246.83,630.92 247.10,631.96 247.36,633.03 247.63,634.15 247.90,635.06 248.16,636.02 248.43,637.01 248.69,638.03 248.96,639.08 249.23,640.16 249.49,641.26 249.76,642.38 250.03,643.51 250.29,644.64 250.56,645.77 250.82,646.90 251.09,647.82 251.36,648.73 251.62,649.63 251.89,650.52 252.15,651.40 252.42,652.27 252.69,653.33 252.95,654.39 253.22,655.43 253.49,656.46 253.75,657.48 254.02,658.48 254.28,659.37 254.55,660.25 254.82,661.11 255.08,661.96 255.35,662.80 255.62,663.63 255.88,664.61 256.15,665.58 256.41,666.53 256.68,667.46 256.95,668.38 257.21,669.28 257.48,670.27 257.74,671.24 258.01,672.19 258.28,673.12 258.54,674.03 258.81,674.92 259.08,675.43 259.34,675.91 259.61,676.37 259.87,676.80 260.14,677.21 260.41,677.59 260.67,678.04 260.94,678.46 261.20,679.62 261.47,680.05 261.74,680.45 262.00,680.82 262.27,681.14 262.54,681.43 262.80,681.67 263.07,681.87 263.33,682.02 263.60,682.10" fill="none" stroke="#3a3a3a" stroke-width="1.0" stroke-linejoin="round"/>
<polyline points="103.90,682.10 104.17,682.10 104.43,682.10 104.70,682.10 104.96,682.10 105.23,682.10 105.50,682.10 105.76,682.10 106.03,682.10 106.30,682.10 106.56,682.10 106.83,682.10 107.09,682.10 107.36,682.10 107.63,682.10 107.89,682.10 108.16,682.10 108.42,682.10 108.69,682.10 108.96,682.10 109.22,682.10 109.49,681.62 109.76,680.99 110.02,680.31 110.29,679.58 110.55,678.81 110.82,678.02 111.09,677.20 111.35,676.35 111.62,675.49 111.89,674.62 112.15,673.73 112.42,672.82 112.68,671.91 112.95,670.98 113.22,670.05 113.48,669.11 113.75,668.16 114.01,667.20 114.28,666.24 114.55,665.27 114.81,664.30 115.08,663.33 115.35,662.36 115.61,661.38 115.88,660.40 116.14,659.42 116.41,658.44 116.68,657.46 116.94,656.49 117.21,655.51 117.47,654.54 117.74,653.57 118.01,652.60 118.27,651.64 118.54,650.68 118.81,649.73 119.07,648.78 119.34,647.83 119.60,646.90 119.87,645.97 120.14,645.04 120.40,644.13 120.67,643.22 120.93,642.32 121.20,641.43 121.47,640.55 121.73,639.67 122.00,638.81 122.27,637.96 122.53,637.12 122.80,636.29 123.06,635.47 123.33,634.66 123.60,633.86 123.86,633.08 124.13,632.30 124.39,631.54 124.66,630.80 124.93,630.07 125.19,629.35 125.46,628.64 125.73,627.95 125.99,627.27 126.26,626.61 126.52,625.97 126.79,625.33 127.06,624.72 127.32,624.12 127.59,623.53 127.86,622.96 128.12,622.41 128.39,621.87 128.65,621.35 128.92,620.85 129.19,620.36 129.45,619.89 129.72,619.44 129.98,619.00 130.25,618.58 130.52,618.18 130.78,617.80 131.05,617.43 131.32,617.09 131.58,616.75 131.85,616.44 132.11,616.15 132.38,615.87 132.65,615.61 132.91,615.37 133.18,615.14 133.44,615.38 133.71,615.65 133.98,615.93 134.24,616.24 134.51,616.57 134.78,616.92 135.04,617.28 135.31,617.67 135.57,618.07 135.84,618.48 136.11,618.90 136.37,619.33 136.64,619.76 136.90,620.20 137.17,620.64 137.44,621.09 137.70,621.54 137.97,621.98 138.24,622.44 138.50,622.90 138.77,623.37 139.03,623.85 139.30,624.36 139.57,624.90 139.83,625.47 140.10,626.09 140.36,626.75 140.63,627.46 140.90,628.23 141.16,629.06 141.43,629.95 141.70,630.90 141.96,631.90 142.23,632.95 142.49,634.04 142.76,635.17 143.03,636.33 143.29,637.50 143.56,638.69 143.83,639.88 144.09,641.07 144.36,642.25 144.62,643.42 144.89,644.58 145.16,645.72 145.42,646.85 145.69,647.96 145.95,649.05 146.22,650.13 146.49,651.19 146.75,652.23 147.02,653.27 147.29,654.29 147.55,655.31 147.82,656.31 148.08,657.30 148.35,658.28 148.62,659.26 148.88,660.22 149.15,661.17 149.41,662.12 149.68,663.05 149.95,663.97 150.21,664.88 150.48,665.77 150.75,666.66 151.01,667.52 151.28,668.37 151.54,669.21 151.81,670.03 152.08,670.83 152.34,671.61 152.61,672.37 152.87,673.11 153.14,673.83 153.41,674.53 153.67,675.20 153.94,675.85 154.21,676.48 154.47,677.08 154.74,677.65 155.00,678.20 155.27,678.71 155.54,679.20 155.80,679.66 156.07,680.08 156.33,680.48 156.60,680.83 156.87,681.16 157.13,681.44 157.40,681.68 157.67,681.88 157.93,682.02 158.20,682.10 158.46,682.10 158.73,682.10 159.00,681.69 159.26,681.17 159.53,680.60 159.80,679.99 160.06,679.35 160.33,678.68 160.59,677.99 160.86,677.29 161.13,676.57 161.39,675.83 161.66,675.08 161.92,674.32 162.19,673.55 162.46,672.77 162.72,671.99 162.99,671.19 163.26,670.39 163.52,669.58 163.79,668.77 164.05,667.95 164.32,667.12 164.59,666.30 164.85,665.46 165.12,664.63 165.38,663.79 165.65,662.96 165.92,662.12 166.18,661.27 166.45,660.43 166.72,659.59 166.98,658.75 167.25,657.91 167.51,657.07 167.78,656.23 168.05,655.39 168.31,654.55 168.58,653.72 168.84,652.88 169.11,652.05 169.38,651.23 169.64,650.41 169.91,649.59 170.18,648.77 170.44,647.96 170.71,647.15 170.97,646.35 171.24,645.56 171.51,644.77 171.77,643.98 172.04,643.20 172.30,642.43 172.57,641.66 172.84,640.91 173.10,640.15 173.37,639.41 173.64,638.67 173.90,637.94 174.17,637.22 174.43,636.50 174.70,635.80 174.97,635.10 175.23,634.41 175.50,633.73 175.77,633.06 176.03,632.40 176.30,631.75 176.56,631.11 176.83,630.48 177.10,629.86 177.36,629.25 177.63,628.65 177.89,628.06 178.16,627.48 178.43,626.91 178.69,626.35 178.96,625.81 179.23,625.27 179.49,624.75 179.76,624.24 180.02,623.74 180.29,623.25 180.56,622.78 180.82,622.31 181.09,621.86 181.35,621.42 181.62,621.00 181.89,620.58 182.15,620.18 182.42,619.79 182.69,619.42 182.95,619.05 183.22,618.70 183.48,618.37 183.75,618.04 184.02,617.73 184.28,617.44 184.55,617.15 184.81,616.88 185.08,616.62 185.35,616.38 185.61,616.15 185.88,615.93 186.15,615.72 186.41,615.53 186.68,615.78 186.94,616.04 187.21,616.34 187.48,616.65 187.74,616.99 188.01,617.34 188.27,617.72 188.54,618.11 188.81,618.52 189.07,618.95 189.34,619.38 189.61,619.82 189.87,620.27 190.14,620.73 190.40,621.19 190.67,621.65 190.94,622.11 191.20,622.58 191.47,623.05 191.74,623.53 192.00,624.02 192.27,624.53 192.53,625.06 192.80,625.61 193.07,626.21 193.33,626.84 193.60,627.53 193.86,628.27 194.13,629.06 194.40,629.91 194.66,630.83 194.93,631.79 195.20,632.82 195.46,633.89 195.73,635.01 195.99,636.16 196.26,637.33 196.53,638.53 196.79,639.74 197.06,640.95 197.32,642.16 197.59,643.37 197.86,644.56 198.12,645.74 198.39,646.90 198.66,648.04 198.92,649.17 199.19,650.28 199.45,651.37 199.72,652.44 199.99,653.50 200.25,654.55 200.52,655.59 200.78,656.61 201.05,657.62 201.32,658.62 201.58,659.61 201.85,660.59 202.12,661.56 202.38,662.51 202.65,663.46 202.91,664.39 203.18,665.31 203.45,666.21 203.71,667.10 203.98,667.98 204.24,668.83 204.51,669.67 204.78,670.50 205.04,671.30 205.31,672.08 205.58,672.84 205.84,673.58 206.11,674.30 206.37,675.00 206.64,675.67 206.91,676.31 207.17,676.93 207.44,677.52 207.71,678.08 207.97,678.61 208.24,679.12 208.50,679.59 208.77,680.03 209.04,680.43 209.30,680.80 209.57,681.13 209.83,681.42 210.10,681.67 210.37,681.87 210.63,682.02 210.90,682.10 211.17,682.10 211.43,682.10 211.70,682.10 211.96,681.67 212.23,681.12 212.50,680.51 212.76,679.86 213.03,679.18 213.29,678.47 213.56,677.74 213.83,676.99 214.09,676.23 214.36,675.45 214.63,674.65 214.89,673.85 215.16,673.03 215.42,672.20 215.69,671.37 215.96,670.53 216.22,669.67 216.49,668.82 216.75,667.96 217.02,667.09 217.29,666.22 217.55,665.34 217.82,664.46 218.09,663.58 218.35,662.69 218.62,661.81 218.88,660.92 219.15,660.03 219.42,659.14 219.68,658.25 219.95,657.36 220.21,656.47 220.48,655.59 220.75,654.70 221.01,653.82 221.28,652.94 221.55,652.06 221.81,651.19 222.08,650.31 222.34,649.45 222.61,648.58 222.88,647.72 223.14,646.87 223.41,646.02 223.68,645.17 223.94,644.34 224.21,643.50 224.47,642.68 224.74,641.86 225.01,641.05 225.27,640.24 225.54,639.44 225.80,638.65 226.07,637.87 226.34,637.10 226.60,636.33 226.87,635.57 227.14,634.83 227.40,634.09 227.67,633.36 227.93,632.64 228.20,631.93 228.47,631.23 228.73,630.54 229.00,629.87 229.26,629.20 229.53,628.54 229.80,627.90 230.06,627.26 230.33,626.64 230.60,626.03 230.86,625.43 231.13,624.85 231.39,624.27 231.66,623.71 231.93,623.16 232.19,622.63 232.46,622.10 232.72,621.59 232.99,621.09 233.26,620.61 233.52,620.14 233.79,619.68 234.06,619.24 234.32,618.81 234.59,618.39 234.85,617.99 235.12,617.60 235.39,617.23 235.65,616.87 235.92,616.52 236.18,616.19 236.45,615.87 236.72,615.57 236.98,615.28 237.25,615.01 237.52,614.75 237.78,614.50 238.05,614.27 238.31,614.05 238.58,613.85 238.85,614.10 239.11,614.37 239.38,614.67 239.65,614.99 239.91,615.34 240.18,615.70 240.44,616.09 240.71,616.51 240.98,616.94 241.24,617.39 241.51,617.86 241.77,618.35 242.04,618.85 242.31,619.36 242.57,619.88 242.84,620.41 243.11,620.95 243.37,621.49 243.64,622.03 243.90,622.57 244.17,623.11 244.44,623.65 244.70,624.20 244.97,624.75 245.23,625.31 245.50,625.88 245.77,626.47 246.03,627.09 246.30,627.75 246.57,628.44 246.83,629.18 247.10,629.97 247.36,630.81 247.63,631.71 247.90,632.67 248.16,633.68 248.43,634.75 248.69,635.86 248.96,637.01 249.23,638.19 249.49,639.40 249.76,640.62 250.03,641.85 250.29,643.09 250.56,644.32 250.82,645.53 251.09,646.74 251.36,647.93 251.62,649.10 251.89,650.25 252.15,651.38 252.42,652.49 252.69,653.58 252.95,654.65 253.22,655.70 253.49,656.74 253.75,657.76 254.02,658.77 254.28,659.76 254.55,660.75 254.82,661.72 255.08,662.67 255.35,663.61 255.62,664.54 255.88,665.45 256.15,666.35 256.41,667.24 256.68,668.11 256.95,668.96 257.21,669.79 257.48,670.61 257.74,671.40 258.01,672.18 258.28,672.94 258.54,673.67 258.81,674.38 259.08,675.07 259.34,675.73 259.61,676.37 259.87,676.98 260.14,677.56 260.41,678.12 260.67,678.65 260.94,679.15 261.20,679.61 261.47,680.05 261.74,680.45 262.00,680.81 262.27,681.14 262.54,681.43 262.80,681.67 263.07,681.87 263.33,682.02 263.60,682.10" fill="none" stroke="#1e9a4a" stroke-width="1.5" stroke-linejoin="round"/>
<text x="351.8" y="12.6" font-size="15.75" font-weight="bold" fill="#111" transform="translate(351.8,0) scale(1.05,1) translate(-351.8,0)">(c)</text>
<rect x="504" y="24.4" width="83" height="72.4" fill="#d9edc7"/>
<rect x="458.4" y="8.5" width="175.4" height="88.7" fill="none" stroke="#666" stroke-width="1"/>
<line x1="545.8" y1="97.2" x2="646.7" y2="97.2" stroke="#fff" stroke-width="1.2"/>
<line x1="545.8" y1="97.2" x2="646.7" y2="97.2" stroke="#444" stroke-width="0.9" stroke-dasharray="2,1.4"/>
<line x1="545.8" y1="0" x2="545.8" y2="97" stroke="#555" stroke-width="0.8" stroke-dasharray="1.6,1.6"/>
<rect x="544.6" y="74" width="2.5" height="23.2" fill="#000"/>
<line x1="536.4" y1="75" x2="536.4" y2="96.6" stroke="#222" stroke-width="0.7"/>
<line x1="532.6" y1="75" x2="540.2" y2="75" stroke="#222" stroke-width="0.7"/>
<polygon points="536.4,75.3 535.3,78.6 537.5,78.6" fill="#222"/>
<polygon points="536.4,96.6 535.3,93.3 537.5,93.3" fill="#222"/>
<text x="460.6" y="18" font-family="Liberation Serif, serif" font-size="10" fill="#222">Specimen</text>
<text x="541.4" y="70.5" font-family="Liberation Serif, serif" font-size="10.6" fill="#222" text-anchor="end">Crack</text>
<text x="534" y="87.4" font-family="Liberation Serif, serif" font-size="7.4" fill="#222" text-anchor="end">15 mm</text>
<text x="538.2" y="6.2" font-family="Liberation Serif, serif" font-size="10" fill="#222">y</text>
<text x="637.8" y="92.6" font-family="Liberation Serif, serif" font-size="10" fill="#222">x</text>
<rect x="397.10" y="122.60" width="9.90" height="10.97" fill="#00ffb0" shape-rendering="crispEdges"/>
<rect x="406.50" y="122.60" width="9.90" height="10.97" fill="#00ffa0" shape-rendering="crispEdges"/>
<rect x="415.90" y="122.60" width="9.90" height="10.97" fill="#00ff80" shape-rendering="crispEdges"/>
<rect x="425.30" y="122.60" width="9.90" height="10.97" fill="#00ffa0" shape-rendering="crispEdges"/>
<rect x="434.70" y="122.60" width="9.90" height="10.97" fill="#00ff90" shape-rendering="crispEdges"/>
<rect x="444.10" y="122.60" width="9.90" height="10.97" fill="#00ff70" shape-rendering="crispEdges"/>
<rect x="453.50" y="122.60" width="9.90" height="10.97" fill="#00ff40" shape-rendering="crispEdges"/>
<rect x="462.90" y="122.60" width="9.90" height="10.97" fill="#00ff10" shape-rendering="crispEdges"/>
<rect x="472.30" y="122.60" width="9.90" height="10.97" fill="#20ff00" shape-rendering="crispEdges"/>
<rect x="481.70" y="122.60" width="9.90" height="10.97" fill="#20ff00" shape-rendering="crispEdges"/>
<rect x="491.10" y="122.60" width="9.90" height="10.97" fill="#20ff00" shape-rendering="crispEdges"/>
<rect x="500.50" y="122.60" width="9.90" height="10.97" fill="#00ff20" shape-rendering="crispEdges"/>
<rect x="509.90" y="122.60" width="9.90" height="10.97" fill="#00ff20" shape-rendering="crispEdges"/>
<rect x="519.30" y="122.60" width="9.90" height="10.97" fill="#00ff70" shape-rendering="crispEdges"/>
<rect x="397.10" y="133.07" width="9.90" height="10.97" fill="#00ffd0" shape-rendering="crispEdges"/>
<rect x="406.50" y="133.07" width="9.90" height="10.97" fill="#00ff80" shape-rendering="crispEdges"/>
<rect x="415.90" y="133.07" width="9.90" height="10.97" fill="#10ff30" shape-rendering="crispEdges"/>
<rect x="425.30" y="133.07" width="9.90" height="10.97" fill="#00ffb0" shape-rendering="crispEdges"/>
<rect x="434.70" y="133.07" width="9.90" height="10.97" fill="#40ff00" shape-rendering="crispEdges"/>
<rect x="444.10" y="133.07" width="9.90" height="10.97" fill="#40ff00" shape-rendering="crispEdges"/>
<rect x="453.50" y="133.07" width="9.90" height="10.97" fill="#00ff90" shape-rendering="crispEdges"/>
<rect x="462.90" y="133.07" width="9.90" height="10.97" fill="#00ffa0" shape-rendering="crispEdges"/>
<rect x="472.30" y="133.07" width="9.90" height="10.97" fill="#00ff00" shape-rendering="crispEdges"/>
<rect x="481.70" y="133.07" width="9.90" height="10.97" fill="#80ff00" shape-rendering="crispEdges"/>
<rect x="491.10" y="133.07" width="9.90" height="10.97" fill="#10ff10" shape-rendering="crispEdges"/>
<rect x="500.50" y="133.07" width="9.90" height="10.97" fill="#00ff90" shape-rendering="crispEdges"/>
<rect x="509.90" y="133.07" width="9.90" height="10.97" fill="#30ff00" shape-rendering="crispEdges"/>
<rect x="519.30" y="133.07" width="9.90" height="10.97" fill="#00ff70" shape-rendering="crispEdges"/>
<rect x="397.10" y="143.53" width="9.90" height="10.97" fill="#00ffff" shape-rendering="crispEdges"/>
<rect x="406.50" y="143.53" width="9.90" height="10.97" fill="#00ff80" shape-rendering="crispEdges"/>
<rect x="415.90" y="143.53" width="9.90" height="10.97" fill="#00ff60" shape-rendering="crispEdges"/>
<rect x="425.30" y="143.53" width="9.90" height="10.97" fill="#00ff00" shape-rendering="crispEdges"/>
<rect x="434.70" y="143.53" width="9.90" height="10.97" fill="#00ffa0" shape-rendering="crispEdges"/>
<rect x="444.10" y="143.53" width="9.90" height="10.97" fill="#00ff40" shape-rendering="crispEdges"/>
<rect x="453.50" y="143.53" width="9.90" height="10.97" fill="#00e8ff" shape-rendering="crispEdges"/>
<rect x="462.90" y="143.53" width="9.90" height="10.97" fill="#00ff90" shape-rendering="crispEdges"/>
<rect x="472.30" y="143.53" width="9.90" height="10.97" fill="#00ff60" shape-rendering="crispEdges"/>
<rect x="481.70" y="143.53" width="9.90" height="10.97" fill="#00ff50" shape-rendering="crispEdges"/>
<rect x="491.10" y="143.53" width="9.90" height="10.97" fill="#40ff00" shape-rendering="crispEdges"/>
<rect x="500.50" y="143.53" width="9.90" height="10.97" fill="#00ffa0" shape-rendering="crispEdges"/>
<rect x="509.90" y="143.53" width="9.90" height="10.97" fill="#00ff90" shape-rendering="crispEdges"/>
<rect x="519.30" y="143.53" width="9.90" height="10.97" fill="#00ff30" shape-rendering="crispEdges"/>
<rect x="397.10" y="154.00" width="9.90" height="10.97" fill="#00f0ff" shape-rendering="crispEdges"/>
<rect x="406.50" y="154.00" width="9.90" height="10.97" fill="#00ff90" shape-rendering="crispEdges"/>
<rect x="415.90" y="154.00" width="9.90" height="10.97" fill="#80ff00" shape-rendering="crispEdges"/>
<rect x="425.30" y="154.00" width="9.90" height="10.97" fill="#00ffa0" shape-rendering="crispEdges"/>
<rect x="434.70" y="154.00" width="9.90" height="10.97" fill="#a0ff00" shape-rendering="crispEdges"/>
<rect x="444.10" y="154.00" width="9.90" height="10.97" fill="#00ff30" shape-rendering="crispEdges"/>
<rect x="453.50" y="154.00" width="9.90" height="10.97" fill="#30ff10" shape-rendering="crispEdges"/>
<rect x="462.90" y="154.00" width="9.90" height="10.97" fill="#40ff00" shape-rendering="crispEdges"/>
<rect x="472.30" y="154.00" width="9.90" height="10.97" fill="#00ff00" shape-rendering="crispEdges"/>
<rect x="481.70" y="154.00" width="9.90" height="10.97" fill="#80ff00" shape-rendering="crispEdges"/>
<rect x="491.10" y="154.00" width="9.90" height="10.97" fill="#00ffa0" shape-rendering="crispEdges"/>
<rect x="500.50" y="154.00" width="9.90" height="10.97" fill="#10ff10" shape-rendering="crispEdges"/>
<rect x="509.90" y="154.00" width="9.90" height="10.97" fill="#00ff90" shape-rendering="crispEdges"/>
<rect x="519.30" y="154.00" width="9.90" height="10.97" fill="#10ff10" shape-rendering="crispEdges"/>
<rect x="397.10" y="164.47" width="9.90" height="10.97" fill="#00a0ff" shape-rendering="crispEdges"/>
<rect x="406.50" y="164.47" width="9.90" height="10.97" fill="#00ff80" shape-rendering="crispEdges"/>
<rect x="415.90" y="164.47" width="9.90" height="10.97" fill="#30ff00" shape-rendering="crispEdges"/>
<rect x="425.30" y="164.47" width="9.90" height="10.97" fill="#00ff40" shape-rendering="crispEdges"/>
<rect x="434.70" y="164.47" width="9.90" height="10.97" fill="#00ff40" shape-rendering="crispEdges"/>
<rect x="444.10" y="164.47" width="9.90" height="10.97" fill="#60ff00" shape-rendering="crispEdges"/>
<rect x="453.50" y="164.47" width="9.90" height="10.97" fill="#80ff00" shape-rendering="crispEdges"/>
<rect x="462.90" y="164.47" width="9.90" height="10.97" fill="#80ff00" shape-rendering="crispEdges"/>
<rect x="472.30" y="164.47" width="9.90" height="10.97" fill="#20ff00" shape-rendering="crispEdges"/>
<rect x="481.70" y="164.47" width="9.90" height="10.97" fill="#00ff10" shape-rendering="crispEdges"/>
<rect x="491.10" y="164.47" width="9.90" height="10.97" fill="#40ff00" shape-rendering="crispEdges"/>
<rect x="500.50" y="164.47" width="9.90" height="10.97" fill="#00ff20" shape-rendering="crispEdges"/>
<rect x="509.90" y="164.47" width="9.90" height="10.97" fill="#00ff30" shape-rendering="crispEdges"/>
<rect x="519.30" y="164.47" width="9.90" height="10.97" fill="#60ff00" shape-rendering="crispEdges"/>
<rect x="397.10" y="174.93" width="9.90" height="10.97" fill="#0090ff" shape-rendering="crispEdges"/>
<rect x="406.50" y="174.93" width="9.90" height="10.97" fill="#00ffff" shape-rendering="crispEdges"/>
<rect x="415.90" y="174.93" width="9.90" height="10.97" fill="#00ffff" shape-rendering="crispEdges"/>
<rect x="425.30" y="174.93" width="9.90" height="10.97" fill="#00ff00" shape-rendering="crispEdges"/>
<rect x="434.70" y="174.93" width="9.90" height="10.97" fill="#00ff20" shape-rendering="crispEdges"/>
<rect x="444.10" y="174.93" width="9.90" height="10.97" fill="#30ff00" shape-rendering="crispEdges"/>
<rect x="453.50" y="174.93" width="9.90" height="10.97" fill="#a0ff00" shape-rendering="crispEdges"/>
<rect x="462.90" y="174.93" width="9.90" height="10.97" fill="#30ff00" shape-rendering="crispEdges"/>
<rect x="472.30" y="174.93" width="9.90" height="10.97" fill="#20ff00" shape-rendering="crispEdges"/>
<rect x="481.70" y="174.93" width="9.90" height="10.97" fill="#00ff10" shape-rendering="crispEdges"/>
<rect x="491.10" y="174.93" width="9.90" height="10.97" fill="#20ff00" shape-rendering="crispEdges"/>
<rect x="500.50" y="174.93" width="9.90" height="10.97" fill="#00ffc0" shape-rendering="crispEdges"/>
<rect x="509.90" y="174.93" width="9.90" height="10.97" fill="#00ffff" shape-rendering="crispEdges"/>
<rect x="519.30" y="174.93" width="9.90" height="10.97" fill="#a0ff00" shape-rendering="crispEdges"/>
<rect x="397.10" y="185.40" width="9.90" height="10.97" fill="#0090ff" shape-rendering="crispEdges"/>
<rect x="406.50" y="185.40" width="9.90" height="10.97" fill="#0098ff" shape-rendering="crispEdges"/>
<rect x="415.90" y="185.40" width="9.90" height="10.97" fill="#00ff40" shape-rendering="crispEdges"/>
<rect x="425.30" y="185.40" width="9.90" height="10.97" fill="#10ff10" shape-rendering="crispEdges"/>
<rect x="434.70" y="185.40" width="9.90" height="10.97" fill="#40ff00" shape-rendering="crispEdges"/>
<rect x="444.10" y="185.40" width="9.90" height="10.97" fill="#10ff20" shape-rendering="crispEdges"/>
<rect x="453.50" y="185.40" width="9.90" height="10.97" fill="#00ff10" shape-rendering="crispEdges"/>
<rect x="462.90" y="185.40" width="9.90" height="10.97" fill="#40ff00" shape-rendering="crispEdges"/>
<rect x="472.30" y="185.40" width="9.90" height="10.97" fill="#00ff10" shape-rendering="crispEdges"/>
<rect x="481.70" y="185.40" width="9.90" height="10.97" fill="#60ff00" shape-rendering="crispEdges"/>
<rect x="491.10" y="185.40" width="9.90" height="10.97" fill="#20ff00" shape-rendering="crispEdges"/>
<rect x="500.50" y="185.40" width="9.90" height="10.97" fill="#00ffa0" shape-rendering="crispEdges"/>
<rect x="509.90" y="185.40" width="9.90" height="10.97" fill="#00ff00" shape-rendering="crispEdges"/>
<rect x="519.30" y="185.40" width="9.90" height="10.97" fill="#e8f000" shape-rendering="crispEdges"/>
<rect x="397.10" y="195.87" width="9.90" height="10.97" fill="#00b0ff" shape-rendering="crispEdges"/>
<rect x="406.50" y="195.87" width="9.90" height="10.97" fill="#00ff90" shape-rendering="crispEdges"/>
<rect x="415.90" y="195.87" width="9.90" height="10.97" fill="#00ffb0" shape-rendering="crispEdges"/>
<rect x="425.30" y="195.87" width="9.90" height="10.97" fill="#10ff10" shape-rendering="crispEdges"/>
<rect x="434.70" y="195.87" width="9.90" height="10.97" fill="#40ff00" shape-rendering="crispEdges"/>
<rect x="444.10" y="195.87" width="9.90" height="10.97" fill="#30ff00" shape-rendering="crispEdges"/>
<rect x="453.50" y="195.87" width="9.90" height="10.97" fill="#a0ff00" shape-rendering="crispEdges"/>
<rect x="462.90" y="195.87" width="9.90" height="10.97" fill="#80ff00" shape-rendering="crispEdges"/>
<rect x="472.30" y="195.87" width="9.90" height="10.97" fill="#80ff00" shape-rendering="crispEdges"/>
<rect x="481.70" y="195.87" width="9.90" height="10.97" fill="#00ff10" shape-rendering="crispEdges"/>
<rect x="491.10" y="195.87" width="9.90" height="10.97" fill="#00ff20" shape-rendering="crispEdges"/>
<rect x="500.50" y="195.87" width="9.90" height="10.97" fill="#00ffd0" shape-rendering="crispEdges"/>
<rect x="509.90" y="195.87" width="9.90" height="10.97" fill="#00ffd0" shape-rendering="crispEdges"/>
<rect x="519.30" y="195.87" width="9.90" height="10.97" fill="#e8f000" shape-rendering="crispEdges"/>
<rect x="397.10" y="206.33" width="9.90" height="10.97" fill="#00d0ff" shape-rendering="crispEdges"/>
<rect x="406.50" y="206.33" width="9.90" height="10.97" fill="#00ffff" shape-rendering="crispEdges"/>
<rect x="415.90" y="206.33" width="9.90" height="10.97" fill="#00ff30" shape-rendering="crispEdges"/>
<rect x="425.30" y="206.33" width="9.90" height="10.97" fill="#00ffa0" shape-rendering="crispEdges"/>
<rect x="434.70" y="206.33" width="9.90" height="10.97" fill="#10ff30" shape-rendering="crispEdges"/>
<rect x="444.10" y="206.33" width="9.90" height="10.97" fill="#ffc000" shape-rendering="crispEdges"/>
<rect x="453.50" y="206.33" width="9.90" height="10.97" fill="#ff8000" shape-rendering="crispEdges"/>
<rect x="462.90" y="206.33" width="9.90" height="10.97" fill="#ff9000" shape-rendering="crispEdges"/>
<rect x="472.30" y="206.33" width="9.90" height="10.97" fill="#a0ff00" shape-rendering="crispEdges"/>
<rect x="481.70" y="206.33" width="9.90" height="10.97" fill="#00ffb0" shape-rendering="crispEdges"/>
<rect x="491.10" y="206.33" width="9.90" height="10.97" fill="#00ffd0" shape-rendering="crispEdges"/>
<rect x="500.50" y="206.33" width="9.90" height="10.97" fill="#00ff60" shape-rendering="crispEdges"/>
<rect x="509.90" y="206.33" width="9.90" height="10.97" fill="#00d0ff" shape-rendering="crispEdges"/>
<rect x="519.30" y="206.33" width="9.90" height="10.97" fill="#c0ff00" shape-rendering="crispEdges"/>
<rect x="397.10" y="216.80" width="9.90" height="10.97" fill="#00e0ff" shape-rendering="crispEdges"/>
<rect x="406.50" y="216.80" width="9.90" height="10.97" fill="#00ffff" shape-rendering="crispEdges"/>
<rect x="415.90" y="216.80" width="9.90" height="10.97" fill="#00ffd0" shape-rendering="crispEdges"/>
<rect x="425.30" y="216.80" width="9.90" height="10.97" fill="#10ff30" shape-rendering="crispEdges"/>
<rect x="434.70" y="216.80" width="9.90" height="10.97" fill="#10ff30" shape-rendering="crispEdges"/>
<rect x="444.10" y="216.80" width="9.90" height="10.97" fill="#00ffb0" shape-rendering="crispEdges"/>
<rect x="453.50" y="216.80" width="9.90" height="10.97" fill="#ff9000" shape-rendering="crispEdges"/>
<rect x="462.90" y="216.80" width="9.90" height="10.97" fill="#30ff00" shape-rendering="crispEdges"/>
<rect x="472.30" y="216.80" width="9.90" height="10.97" fill="#00ffd0" shape-rendering="crispEdges"/>
<rect x="481.70" y="216.80" width="9.90" height="10.97" fill="#00ff90" shape-rendering="crispEdges"/>
<rect x="491.10" y="216.80" width="9.90" height="10.97" fill="#00ff90" shape-rendering="crispEdges"/>
<rect x="500.50" y="216.80" width="9.90" height="10.97" fill="#00ffc0" shape-rendering="crispEdges"/>
<rect x="509.90" y="216.80" width="9.90" height="10.97" fill="#00ff80" shape-rendering="crispEdges"/>
<rect x="519.30" y="216.80" width="9.90" height="10.97" fill="#80ff00" shape-rendering="crispEdges"/>
<rect x="397.10" y="227.27" width="9.90" height="10.97" fill="#00ff60" shape-rendering="crispEdges"/>
<rect x="406.50" y="227.27" width="9.90" height="10.97" fill="#00ffff" shape-rendering="crispEdges"/>
<rect x="415.90" y="227.27" width="9.90" height="10.97" fill="#00ffe0" shape-rendering="crispEdges"/>
<rect x="425.30" y="227.27" width="9.90" height="10.97" fill="#00ffff" shape-rendering="crispEdges"/>
<rect x="434.70" y="227.27" width="9.90" height="10.97" fill="#0090ff" shape-rendering="crispEdges"/>
<rect x="444.10" y="227.27" width="9.90" height="10.97" fill="#1060ff" shape-rendering="crispEdges"/>
<rect x="453.50" y="227.27" width="9.90" height="10.97" fill="#8000ff" shape-rendering="crispEdges"/>
<rect x="462.90" y="227.27" width="9.90" height="10.97" fill="#8000ff" shape-rendering="crispEdges"/>
<rect x="472.30" y="227.27" width="9.90" height="10.97" fill="#0080ff" shape-rendering="crispEdges"/>
<rect x="481.70" y="227.27" width="9.90" height="10.97" fill="#0080ff" shape-rendering="crispEdges"/>
<rect x="491.10" y="227.27" width="9.90" height="10.97" fill="#00d0ff" shape-rendering="crispEdges"/>
<rect x="500.50" y="227.27" width="9.90" height="10.97" fill="#00ffd0" shape-rendering="crispEdges"/>
<rect x="509.90" y="227.27" width="9.90" height="10.97" fill="#00ff40" shape-rendering="crispEdges"/>
<rect x="519.30" y="227.27" width="9.90" height="10.97" fill="#20ff00" shape-rendering="crispEdges"/>
<rect x="397.10" y="237.73" width="9.90" height="10.97" fill="#00ff90" shape-rendering="crispEdges"/>
<rect x="406.50" y="237.73" width="9.90" height="10.97" fill="#00ff90" shape-rendering="crispEdges"/>
<rect x="415.90" y="237.73" width="9.90" height="10.97" fill="#00ffc0" shape-rendering="crispEdges"/>
<rect x="425.30" y="237.73" width="9.90" height="10.97" fill="#0080ff" shape-rendering="crispEdges"/>
<rect x="434.70" y="237.73" width="9.90" height="10.97" fill="#2020ff" shape-rendering="crispEdges"/>
<rect x="444.10" y="237.73" width="9.90" height="10.97" fill="#5000ff" shape-rendering="crispEdges"/>
<rect x="453.50" y="237.73" width="9.90" height="10.97" fill="#000000" shape-rendering="crispEdges"/>
<rect x="462.90" y="237.73" width="9.90" height="10.97" fill="#7000ff" shape-rendering="crispEdges"/>
<rect x="472.30" y="237.73" width="9.90" height="10.97" fill="#3010ff" shape-rendering="crispEdges"/>
<rect x="481.70" y="237.73" width="9.90" height="10.97" fill="#0060ff" shape-rendering="crispEdges"/>
<rect x="491.10" y="237.73" width="9.90" height="10.97" fill="#0060ff" shape-rendering="crispEdges"/>
<rect x="500.50" y="237.73" width="9.90" height="10.97" fill="#00ffd0" shape-rendering="crispEdges"/>
<rect x="509.90" y="237.73" width="9.90" height="10.97" fill="#00ff90" shape-rendering="crispEdges"/>
<rect x="519.30" y="237.73" width="9.90" height="10.97" fill="#00ffff" shape-rendering="crispEdges"/>
<rect x="397.1" y="122.6" width="131.60" height="125.60" fill="none" stroke="#333" stroke-width="1"/>
<line x1="394.6" y1="248.20" x2="397.1" y2="248.20" stroke="#333" stroke-width="0.9"/>
<text x="393.1" y="251.10" font-size="8.2" fill="#404040" text-anchor="end">0</text>
<line x1="394.6" y1="227.27" x2="397.1" y2="227.27" stroke="#333" stroke-width="0.9"/>
<text x="393.1" y="230.17" font-size="8.2" fill="#404040" text-anchor="end">10</text>
<line x1="394.6" y1="206.33" x2="397.1" y2="206.33" stroke="#333" stroke-width="0.9"/>
<text x="393.1" y="209.23" font-size="8.2" fill="#404040" text-anchor="end">20</text>
<line x1="394.6" y1="185.40" x2="397.1" y2="185.40" stroke="#333" stroke-width="0.9"/>
<text x="393.1" y="188.30" font-size="8.2" fill="#404040" text-anchor="end">30</text>
<line x1="394.6" y1="164.47" x2="397.1" y2="164.47" stroke="#333" stroke-width="0.9"/>
<text x="393.1" y="167.37" font-size="8.2" fill="#404040" text-anchor="end">40</text>
<line x1="394.6" y1="143.53" x2="397.1" y2="143.53" stroke="#333" stroke-width="0.9"/>
<text x="393.1" y="146.43" font-size="8.2" fill="#404040" text-anchor="end">50</text>
<line x1="394.6" y1="122.60" x2="397.1" y2="122.60" stroke="#333" stroke-width="0.9"/>
<text x="393.1" y="125.50" font-size="8.2" fill="#404040" text-anchor="end">60</text>
<line x1="406.50" y1="248.2" x2="406.50" y2="250.7" stroke="#333" stroke-width="0.9"/>
<text x="406.50" y="259.00" font-size="8.2" fill="#404040" text-anchor="middle">-30</text>
<line x1="425.30" y1="248.2" x2="425.30" y2="250.7" stroke="#333" stroke-width="0.9"/>
<text x="425.30" y="259.00" font-size="8.2" fill="#404040" text-anchor="middle">-20</text>
<line x1="444.10" y1="248.2" x2="444.10" y2="250.7" stroke="#333" stroke-width="0.9"/>
<text x="444.10" y="259.00" font-size="8.2" fill="#404040" text-anchor="middle">-10</text>
<line x1="462.90" y1="248.2" x2="462.90" y2="250.7" stroke="#333" stroke-width="0.9"/>
<text x="462.90" y="259.00" font-size="8.2" fill="#404040" text-anchor="middle">0</text>
<line x1="481.70" y1="248.2" x2="481.70" y2="250.7" stroke="#333" stroke-width="0.9"/>
<text x="481.70" y="259.00" font-size="8.2" fill="#404040" text-anchor="middle">10</text>
<line x1="500.50" y1="248.2" x2="500.50" y2="250.7" stroke="#333" stroke-width="0.9"/>
<text x="500.50" y="259.00" font-size="8.2" fill="#404040" text-anchor="middle">20</text>
<line x1="519.30" y1="248.2" x2="519.30" y2="250.7" stroke="#333" stroke-width="0.9"/>
<text x="519.30" y="259.00" font-size="8.2" fill="#404040" text-anchor="middle">30</text>
<text x="465.2" y="269.0" font-size="8.6" fill="#404040" text-anchor="middle">X (mm)</text>
<text transform="translate(379.6,185.90) rotate(-90)" font-size="8.6" fill="#404040" text-anchor="middle">Y (mm)</text>
<text x="401.9" y="136.7" font-size="10.3" fill="#112">Actual</text>
<rect x="576.50" y="127.40" width="9.95" height="10.90" fill="#00d0ff" shape-rendering="crispEdges"/>
<rect x="585.95" y="127.40" width="9.95" height="10.90" fill="#00ffb0" shape-rendering="crispEdges"/>
<rect x="595.40" y="127.40" width="9.95" height="10.90" fill="#00ff70" shape-rendering="crispEdges"/>
<rect x="604.85" y="127.40" width="9.95" height="10.90" fill="#10ff20" shape-rendering="crispEdges"/>
<rect x="614.30" y="127.40" width="9.95" height="10.90" fill="#20ff00" shape-rendering="crispEdges"/>
<rect x="623.75" y="127.40" width="9.95" height="10.90" fill="#30ff00" shape-rendering="crispEdges"/>
<rect x="633.20" y="127.40" width="9.95" height="10.90" fill="#30ff00" shape-rendering="crispEdges"/>
<rect x="642.65" y="127.40" width="9.95" height="10.90" fill="#30ff00" shape-rendering="crispEdges"/>
<rect x="652.10" y="127.40" width="9.95" height="10.90" fill="#30ff00" shape-rendering="crispEdges"/>
<rect x="661.55" y="127.40" width="9.95" height="10.90" fill="#20ff00" shape-rendering="crispEdges"/>
<rect x="671.00" y="127.40" width="9.95" height="10.90" fill="#20ff00" shape-rendering="crispEdges"/>
<rect x="680.45" y="127.40" width="9.95" height="10.90" fill="#10ff20" shape-rendering="crispEdges"/>
<rect x="689.90" y="127.40" width="9.95" height="10.90" fill="#00ff80" shape-rendering="crispEdges"/>
<rect x="699.35" y="127.40" width="9.95" height="10.90" fill="#00ffb0" shape-rendering="crispEdges"/>
<rect x="576.50" y="137.80" width="9.95" height="10.90" fill="#00f0ff" shape-rendering="crispEdges"/>
<rect x="585.95" y="137.80" width="9.95" height="10.90" fill="#00ff90" shape-rendering="crispEdges"/>
<rect x="595.40" y="137.80" width="9.95" height="10.90" fill="#00ff70" shape-rendering="crispEdges"/>
<rect x="604.85" y="137.80" width="9.95" height="10.90" fill="#00ff60" shape-rendering="crispEdges"/>
<rect x="614.30" y="137.80" width="9.95" height="10.90" fill="#00ff60" shape-rendering="crispEdges"/>
<rect x="623.75" y="137.80" width="9.95" height="10.90" fill="#00ff60" shape-rendering="crispEdges"/>
<rect x="633.20" y="137.80" width="9.95" height="10.90" fill="#00ff60" shape-rendering="crispEdges"/>
<rect x="642.65" y="137.80" width="9.95" height="10.90" fill="#00ff50" shape-rendering="crispEdges"/>
<rect x="652.10" y="137.80" width="9.95" height="10.90" fill="#00ff40" shape-rendering="crispEdges"/>
<rect x="661.55" y="137.80" width="9.95" height="10.90" fill="#00ff40" shape-rendering="crispEdges"/>
<rect x="671.00" y="137.80" width="9.95" height="10.90" fill="#00ff40" shape-rendering="crispEdges"/>
<rect x="680.45" y="137.80" width="9.95" height="10.90" fill="#00ff40" shape-rendering="crispEdges"/>
<rect x="689.90" y="137.80" width="9.95" height="10.90" fill="#00ff38" shape-rendering="crispEdges"/>
<rect x="699.35" y="137.80" width="9.95" height="10.90" fill="#00ff90" shape-rendering="crispEdges"/>
<rect x="576.50" y="148.20" width="9.95" height="10.90" fill="#00ffff" shape-rendering="crispEdges"/>
<rect x="585.95" y="148.20" width="9.95" height="10.90" fill="#00ff90" shape-rendering="crispEdges"/>
<rect x="595.40" y="148.20" width="9.95" height="10.90" fill="#00ff90" shape-rendering="crispEdges"/>
<rect x="604.85" y="148.20" width="9.95" height="10.90" fill="#00ff70" shape-rendering="crispEdges"/>
<rect x="614.30" y="148.20" width="9.95" height="10.90" fill="#00ff40" shape-rendering="crispEdges"/>
<rect x="623.75" y="148.20" width="9.95" height="10.90" fill="#00ff50" shape-rendering="crispEdges"/>
<rect x="633.20" y="148.20" width="9.95" height="10.90" fill="#00ff70" shape-rendering="crispEdges"/>
<rect x="642.65" y="148.20" width="9.95" height="10.90" fill="#00ff50" shape-rendering="crispEdges"/>
<rect x="652.10" y="148.20" width="9.95" height="10.90" fill="#00ff40" shape-rendering="crispEdges"/>
<rect x="661.55" y="148.20" width="9.95" height="10.90" fill="#00ff40" shape-rendering="crispEdges"/>
<rect x="671.00" y="148.20" width="9.95" height="10.90" fill="#00ff50" shape-rendering="crispEdges"/>
<rect x="680.45" y="148.20" width="9.95" height="10.90" fill="#00ff60" shape-rendering="crispEdges"/>
<rect x="689.90" y="148.20" width="9.95" height="10.90" fill="#00ff80" shape-rendering="crispEdges"/>
<rect x="699.35" y="148.20" width="9.95" height="10.90" fill="#00ffa0" shape-rendering="crispEdges"/>
<rect x="576.50" y="158.60" width="9.95" height="10.90" fill="#00ffff" shape-rendering="crispEdges"/>
<rect x="585.95" y="158.60" width="9.95" height="10.90" fill="#00ffa0" shape-rendering="crispEdges"/>
<rect x="595.40" y="158.60" width="9.95" height="10.90" fill="#00ff70" shape-rendering="crispEdges"/>
<rect x="604.85" y="158.60" width="9.95" height="10.90" fill="#00ff70" shape-rendering="crispEdges"/>
<rect x="614.30" y="158.60" width="9.95" height="10.90" fill="#00ff60" shape-rendering="crispEdges"/>
<rect x="623.75" y="158.60" width="9.95" height="10.90" fill="#00ff40" shape-rendering="crispEdges"/>
<rect x="633.20" y="158.60" width="9.95" height="10.90" fill="#00ff30" shape-rendering="crispEdges"/>
<rect x="642.65" y="158.60" width="9.95" height="10.90" fill="#00ff30" shape-rendering="crispEdges"/>
<rect x="652.10" y="158.60" width="9.95" height="10.90" fill="#00ff30" shape-rendering="crispEdges"/>
<rect x="661.55" y="158.60" width="9.95" height="10.90" fill="#00ff40" shape-rendering="crispEdges"/>
<rect x="671.00" y="158.60" width="9.95" height="10.90" fill="#00ff60" shape-rendering="crispEdges"/>
<rect x="680.45" y="158.60" width="9.95" height="10.90" fill="#00ff70" shape-rendering="crispEdges"/>
<rect x="689.90" y="158.60" width="9.95" height="10.90" fill="#00ffa0" shape-rendering="crispEdges"/>
<rect x="699.35" y="158.60" width="9.95" height="10.90" fill="#00ffc0" shape-rendering="crispEdges"/>
<rect x="576.50" y="169.00" width="9.95" height="10.90" fill="#00d0ff" shape-rendering="crispEdges"/>
<rect x="585.95" y="169.00" width="9.95" height="10.90" fill="#00ffb0" shape-rendering="crispEdges"/>
<rect x="595.40" y="169.00" width="9.95" height="10.90" fill="#00ff90" shape-rendering="crispEdges"/>
<rect x="604.85" y="169.00" width="9.95" height="10.90" fill="#00ff80" shape-rendering="crispEdges"/>
<rect x="614.30" y="169.00" width="9.95" height="10.90" fill="#00ff40" shape-rendering="crispEdges"/>
<rect x="623.75" y="169.00" width="9.95" height="10.90" fill="#00ff20" shape-rendering="crispEdges"/>
<rect x="633.20" y="169.00" width="9.95" height="10.90" fill="#00ff20" shape-rendering="crispEdges"/>
<rect x="642.65" y="169.00" width="9.95" height="10.90" fill="#00ff20" shape-rendering="crispEdges"/>
<rect x="652.10" y="169.00" width="9.95" height="10.90" fill="#00ff30" shape-rendering="crispEdges"/>
<rect x="661.55" y="169.00" width="9.95" height="10.90" fill="#00ff40" shape-rendering="crispEdges"/>
<rect x="671.00" y="169.00" width="9.95" height="10.90" fill="#00ff60" shape-rendering="crispEdges"/>
<rect x="680.45" y="169.00" width="9.95" height="10.90" fill="#00ff90" shape-rendering="crispEdges"/>
<rect x="689.90" y="169.00" width="9.95" height="10.90" fill="#00ffb0" shape-rendering="crispEdges"/>
<rect x="699.35" y="169.00" width="9.95" height="10.90" fill="#00ffd0" shape-rendering="crispEdges"/>
<rect x="576.50" y="179.40" width="9.95" height="10.90" fill="#00d8ff" shape-rendering="crispEdges"/>
<rect x="585.95" y="179.40" width="9.95" height="10.90" fill="#00ffa0" shape-rendering="crispEdges"/>
<rect x="595.40" y="179.40" width="9.95" height="10.90" fill="#00ff90" shape-rendering="crispEdges"/>
<rect x="604.85" y="179.40" width="9.95" height="10.90" fill="#00ff70" shape-rendering="crispEdges"/>
<rect x="614.30" y="179.40" width="9.95" height="10.90" fill="#00ff40" shape-rendering="crispEdges"/>
<rect x="623.75" y="179.40" width="9.95" height="10.90" fill="#10ff10" shape-rendering="crispEdges"/>
<rect x="633.20" y="179.40" width="9.95" height="10.90" fill="#00ff10" shape-rendering="crispEdges"/>
<rect x="642.65" y="179.40" width="9.95" height="10.90" fill="#00ff20" shape-rendering="crispEdges"/>
<rect x="652.10" y="179.40" width="9.95" height="10.90" fill="#00ff20" shape-rendering="crispEdges"/>
<rect x="661.55" y="179.40" width="9.95" height="10.90" fill="#00ff40" shape-rendering="crispEdges"/>
<rect x="671.00" y="179.40" width="9.95" height="10.90" fill="#00ff60" shape-rendering="crispEdges"/>
<rect x="680.45" y="179.40" width="9.95" height="10.90" fill="#00ff90" shape-rendering="crispEdges"/>
<rect x="689.90" y="179.40" width="9.95" height="10.90" fill="#00ffc0" shape-rendering="crispEdges"/>
<rect x="699.35" y="179.40" width="9.95" height="10.90" fill="#00ffd0" shape-rendering="crispEdges"/>
<rect x="576.50" y="189.80" width="9.95" height="10.90" fill="#00f0ff" shape-rendering="crispEdges"/>
<rect x="585.95" y="189.80" width="9.95" height="10.90" fill="#00ffb0" shape-rendering="crispEdges"/>
<rect x="595.40" y="189.80" width="9.95" height="10.90" fill="#00ff90" shape-rendering="crispEdges"/>
<rect x="604.85" y="189.80" width="9.95" height="10.90" fill="#00ff60" shape-rendering="crispEdges"/>
<rect x="614.30" y="189.80" width="9.95" height="10.90" fill="#00ff30" shape-rendering="crispEdges"/>
<rect x="623.75" y="189.80" width="9.95" height="10.90" fill="#10ff00" shape-rendering="crispEdges"/>
<rect x="633.20" y="189.80" width="9.95" height="10.90" fill="#00ff10" shape-rendering="crispEdges"/>
<rect x="642.65" y="189.80" width="9.95" height="10.90" fill="#00ff10" shape-rendering="crispEdges"/>
<rect x="652.10" y="189.80" width="9.95" height="10.90" fill="#00ff20" shape-rendering="crispEdges"/>
<rect x="661.55" y="189.80" width="9.95" height="10.90" fill="#00ff40" shape-rendering="crispEdges"/>
<rect x="671.00" y="189.80" width="9.95" height="10.90" fill="#00ff60" shape-rendering="crispEdges"/>
<rect x="680.45" y="189.80" width="9.95" height="10.90" fill="#00ffa0" shape-rendering="crispEdges"/>
<rect x="689.90" y="189.80" width="9.95" height="10.90" fill="#00ffc0" shape-rendering="crispEdges"/>
<rect x="699.35" y="189.80" width="9.95" height="10.90" fill="#00ffc8" shape-rendering="crispEdges"/>
<rect x="576.50" y="200.20" width="9.95" height="10.90" fill="#00ffe0" shape-rendering="crispEdges"/>
<rect x="585.95" y="200.20" width="9.95" height="10.90" fill="#00ffb0" shape-rendering="crispEdges"/>
<rect x="595.40" y="200.20" width="9.95" height="10.90" fill="#00ffa0" shape-rendering="crispEdges"/>
<rect x="604.85" y="200.20" width="9.95" height="10.90" fill="#00ff50" shape-rendering="crispEdges"/>
<rect x="614.30" y="200.20" width="9.95" height="10.90" fill="#00ff20" shape-rendering="crispEdges"/>
<rect x="623.75" y="200.20" width="9.95" height="10.90" fill="#00ff20" shape-rendering="crispEdges"/>
<rect x="633.20" y="200.20" width="9.95" height="10.90" fill="#00ff10" shape-rendering="crispEdges"/>
<rect x="642.65" y="200.20" width="9.95" height="10.90" fill="#00ff10" shape-rendering="crispEdges"/>
<rect x="652.10" y="200.20" width="9.95" height="10.90" fill="#00ff20" shape-rendering="crispEdges"/>
<rect x="661.55" y="200.20" width="9.95" height="10.90" fill="#00ff40" shape-rendering="crispEdges"/>
<rect x="671.00" y="200.20" width="9.95" height="10.90" fill="#00ff70" shape-rendering="crispEdges"/>
<rect x="680.45" y="200.20" width="9.95" height="10.90" fill="#00ffc0" shape-rendering="crispEdges"/>
<rect x="689.90" y="200.20" width="9.95" height="10.90" fill="#00ffc0" shape-rendering="crispEdges"/>
<rect x="699.35" y="200.20" width="9.95" height="10.90" fill="#00ffd0" shape-rendering="crispEdges"/>
<rect x="576.50" y="210.60" width="9.95" height="10.90" fill="#00f0ff" shape-rendering="crispEdges"/>
<rect x="585.95" y="210.60" width="9.95" height="10.90" fill="#00ffb0" shape-rendering="crispEdges"/>
<rect x="595.40" y="210.60" width="9.95" height="10.90" fill="#00ff90" shape-rendering="crispEdges"/>
<rect x="604.85" y="210.60" width="9.95" height="10.90" fill="#00ff60" shape-rendering="crispEdges"/>
<rect x="614.30" y="210.60" width="9.95" height="10.90" fill="#00ff30" shape-rendering="crispEdges"/>
<rect x="623.75" y="210.60" width="9.95" height="10.90" fill="#00ff20" shape-rendering="crispEdges"/>
<rect x="633.20" y="210.60" width="9.95" height="10.90" fill="#10ff00" shape-rendering="crispEdges"/>
<rect x="642.65" y="210.60" width="9.95" height="10.90" fill="#10ff00" shape-rendering="crispEdges"/>
<rect x="652.10" y="210.60" width="9.95" height="10.90" fill="#00ff20" shape-rendering="crispEdges"/>
<rect x="661.55" y="210.60" width="9.95" height="10.90" fill="#00ff40" shape-rendering="crispEdges"/>
<rect x="671.00" y="210.60" width="9.95" height="10.90" fill="#00ff70" shape-rendering="crispEdges"/>
<rect x="680.45" y="210.60" width="9.95" height="10.90" fill="#00ffa0" shape-rendering="crispEdges"/>
<rect x="689.90" y="210.60" width="9.95" height="10.90" fill="#00ffc0" shape-rendering="crispEdges"/>
<rect x="699.35" y="210.60" width="9.95" height="10.90" fill="#00ffd0" shape-rendering="crispEdges"/>
<rect x="576.50" y="221.00" width="9.95" height="10.90" fill="#00ffb0" shape-rendering="crispEdges"/>
<rect x="585.95" y="221.00" width="9.95" height="10.90" fill="#00ff90" shape-rendering="crispEdges"/>
<rect x="595.40" y="221.00" width="9.95" height="10.90" fill="#00ff80" shape-rendering="crispEdges"/>
<rect x="604.85" y="221.00" width="9.95" height="10.90" fill="#00ff60" shape-rendering="crispEdges"/>
<rect x="614.30" y="221.00" width="9.95" height="10.90" fill="#00ff40" shape-rendering="crispEdges"/>
<rect x="623.75" y="221.00" width="9.95" height="10.90" fill="#00ff30" shape-rendering="crispEdges"/>
<rect x="633.20" y="221.00" width="9.95" height="10.90" fill="#20ff00" shape-rendering="crispEdges"/>
<rect x="642.65" y="221.00" width="9.95" height="10.90" fill="#20ff00" shape-rendering="crispEdges"/>
<rect x="652.10" y="221.00" width="9.95" height="10.90" fill="#00ff30" shape-rendering="crispEdges"/>
<rect x="661.55" y="221.00" width="9.95" height="10.90" fill="#00ff60" shape-rendering="crispEdges"/>
<rect x="671.00" y="221.00" width="9.95" height="10.90" fill="#00ff90" shape-rendering="crispEdges"/>
<rect x="680.45" y="221.00" width="9.95" height="10.90" fill="#00ffa0" shape-rendering="crispEdges"/>
<rect x="689.90" y="221.00" width="9.95" height="10.90" fill="#00ffb0" shape-rendering="crispEdges"/>
<rect x="699.35" y="221.00" width="9.95" height="10.90" fill="#00ffd0" shape-rendering="crispEdges"/>
<rect x="576.50" y="231.40" width="9.95" height="10.90" fill="#00ff90" shape-rendering="crispEdges"/>
<rect x="585.95" y="231.40" width="9.95" height="10.90" fill="#00ff80" shape-rendering="crispEdges"/>
<rect x="595.40" y="231.40" width="9.95" height="10.90" fill="#00ff70" shape-rendering="crispEdges"/>
<rect x="604.85" y="231.40" width="9.95" height="10.90" fill="#00ff90" shape-rendering="crispEdges"/>
<rect x="614.30" y="231.40" width="9.95" height="10.90" fill="#00ffa0" shape-rendering="crispEdges"/>
<rect x="623.75" y="231.40" width="9.95" height="10.90" fill="#00ff90" shape-rendering="crispEdges"/>
<rect x="633.20" y="231.40" width="9.95" height="10.90" fill="#00ff90" shape-rendering="crispEdges"/>
<rect x="642.65" y="231.40" width="9.95" height="10.90" fill="#00ff90" shape-rendering="crispEdges"/>
<rect x="652.10" y="231.40" width="9.95" height="10.90" fill="#00ffa0" shape-rendering="crispEdges"/>
<rect x="661.55" y="231.40" width="9.95" height="10.90" fill="#00ffc0" shape-rendering="crispEdges"/>
<rect x="671.00" y="231.40" width="9.95" height="10.90" fill="#00ff90" shape-rendering="crispEdges"/>
<rect x="680.45" y="231.40" width="9.95" height="10.90" fill="#00ffb0" shape-rendering="crispEdges"/>
<rect x="689.90" y="231.40" width="9.95" height="10.90" fill="#00ffb0" shape-rendering="crispEdges"/>
<rect x="699.35" y="231.40" width="9.95" height="10.90" fill="#00ffd0" shape-rendering="crispEdges"/>
<rect x="576.50" y="241.80" width="9.95" height="10.90" fill="#00ff80" shape-rendering="crispEdges"/>
<rect x="585.95" y="241.80" width="9.95" height="10.90" fill="#00ff60" shape-rendering="crispEdges"/>
<rect x="595.40" y="241.80" width="9.95" height="10.90" fill="#00ff30" shape-rendering="crispEdges"/>
<rect x="604.85" y="241.80" width="9.95" height="10.90" fill="#00ff80" shape-rendering="crispEdges"/>
<rect x="614.30" y="241.80" width="9.95" height="10.90" fill="#00ffff" shape-rendering="crispEdges"/>
<rect x="623.75" y="241.80" width="9.95" height="10.90" fill="#00c0ff" shape-rendering="crispEdges"/>
<rect x="633.20" y="241.80" width="9.95" height="10.90" fill="#0090ff" shape-rendering="crispEdges"/>
<rect x="642.65" y="241.80" width="9.95" height="10.90" fill="#0080ff" shape-rendering="crispEdges"/>
<rect x="652.10" y="241.80" width="9.95" height="10.90" fill="#00c0ff" shape-rendering="crispEdges"/>
<rect x="661.55" y="241.80" width="9.95" height="10.90" fill="#00ffff" shape-rendering="crispEdges"/>
<rect x="671.00" y="241.80" width="9.95" height="10.90" fill="#00ffb0" shape-rendering="crispEdges"/>
<rect x="680.45" y="241.80" width="9.95" height="10.90" fill="#00ff60" shape-rendering="crispEdges"/>
<rect x="689.90" y="241.80" width="9.95" height="10.90" fill="#00ff60" shape-rendering="crispEdges"/>
<rect x="699.35" y="241.80" width="9.95" height="10.90" fill="#00ffc0" shape-rendering="crispEdges"/>
<rect x="576.5" y="127.4" width="132.30" height="124.80" fill="none" stroke="#333" stroke-width="1"/>
<line x1="574.0" y1="252.20" x2="576.5" y2="252.20" stroke="#333" stroke-width="0.9"/>
<text x="572.5" y="255.10" font-size="8.2" fill="#404040" text-anchor="end">0</text>
<line x1="574.0" y1="231.40" x2="576.5" y2="231.40" stroke="#333" stroke-width="0.9"/>
<text x="572.5" y="234.30" font-size="8.2" fill="#404040" text-anchor="end">10</text>
<line x1="574.0" y1="210.60" x2="576.5" y2="210.60" stroke="#333" stroke-width="0.9"/>
<text x="572.5" y="213.50" font-size="8.2" fill="#404040" text-anchor="end">20</text>
<line x1="574.0" y1="189.80" x2="576.5" y2="189.80" stroke="#333" stroke-width="0.9"/>
<text x="572.5" y="192.70" font-size="8.2" fill="#404040" text-anchor="end">30</text>
<line x1="574.0" y1="169.00" x2="576.5" y2="169.00" stroke="#333" stroke-width="0.9"/>
<text x="572.5" y="171.90" font-size="8.2" fill="#404040" text-anchor="end">40</text>
<line x1="574.0" y1="148.20" x2="576.5" y2="148.20" stroke="#333" stroke-width="0.9"/>
<text x="572.5" y="151.10" font-size="8.2" fill="#404040" text-anchor="end">50</text>
<line x1="574.0" y1="127.40" x2="576.5" y2="127.40" stroke="#333" stroke-width="0.9"/>
<text x="572.5" y="130.30" font-size="8.2" fill="#404040" text-anchor="end">60</text>
<line x1="585.95" y1="252.2" x2="585.95" y2="254.7" stroke="#333" stroke-width="0.9"/>
<text x="585.95" y="263.00" font-size="8.2" fill="#404040" text-anchor="middle">-30</text>
<line x1="604.85" y1="252.2" x2="604.85" y2="254.7" stroke="#333" stroke-width="0.9"/>
<text x="604.85" y="263.00" font-size="8.2" fill="#404040" text-anchor="middle">-20</text>
<line x1="623.75" y1="252.2" x2="623.75" y2="254.7" stroke="#333" stroke-width="0.9"/>
<text x="623.75" y="263.00" font-size="8.2" fill="#404040" text-anchor="middle">-10</text>
<line x1="642.65" y1="252.2" x2="642.65" y2="254.7" stroke="#333" stroke-width="0.9"/>
<text x="642.65" y="263.00" font-size="8.2" fill="#404040" text-anchor="middle">0</text>
<line x1="661.55" y1="252.2" x2="661.55" y2="254.7" stroke="#333" stroke-width="0.9"/>
<text x="661.55" y="263.00" font-size="8.2" fill="#404040" text-anchor="middle">10</text>
<line x1="680.45" y1="252.2" x2="680.45" y2="254.7" stroke="#333" stroke-width="0.9"/>
<text x="680.45" y="263.00" font-size="8.2" fill="#404040" text-anchor="middle">20</text>
<line x1="699.35" y1="252.2" x2="699.35" y2="254.7" stroke="#333" stroke-width="0.9"/>
<text x="699.35" y="263.00" font-size="8.2" fill="#404040" text-anchor="middle">30</text>
<text x="643.6" y="272.6" font-size="8.6" fill="#404040" text-anchor="middle">X (mm)</text>
<text transform="translate(558.6,190.30) rotate(-90)" font-size="8.6" fill="#404040" text-anchor="middle">Y (mm)</text>
<text x="583.3" y="140.2" font-size="10.3" fill="#112">Approximated (n = 1)</text>
<rect x="397.90" y="294.80" width="9.90" height="10.91" fill="#00e0ff" shape-rendering="crispEdges"/>
<rect x="407.30" y="294.80" width="9.90" height="10.91" fill="#00ffa0" shape-rendering="crispEdges"/>
<rect x="416.70" y="294.80" width="9.90" height="10.91" fill="#00ff60" shape-rendering="crispEdges"/>
<rect x="426.10" y="294.80" width="9.90" height="10.91" fill="#10ff20" shape-rendering="crispEdges"/>
<rect x="435.50" y="294.80" width="9.90" height="10.91" fill="#40ff00" shape-rendering="crispEdges"/>
<rect x="444.90" y="294.80" width="9.90" height="10.91" fill="#60ff00" shape-rendering="crispEdges"/>
<rect x="454.30" y="294.80" width="9.90" height="10.91" fill="#80ff00" shape-rendering="crispEdges"/>
<rect x="463.70" y="294.80" width="9.90" height="10.91" fill="#80ff00" shape-rendering="crispEdges"/>
<rect x="473.10" y="294.80" width="9.90" height="10.91" fill="#60ff00" shape-rendering="crispEdges"/>
<rect x="482.50" y="294.80" width="9.90" height="10.91" fill="#40ff00" shape-rendering="crispEdges"/>
<rect x="491.90" y="294.80" width="9.90" height="10.91" fill="#10ff10" shape-rendering="crispEdges"/>
<rect x="501.30" y="294.80" width="9.90" height="10.91" fill="#00ff40" shape-rendering="crispEdges"/>
<rect x="510.70" y="294.80" width="9.90" height="10.91" fill="#00ff90" shape-rendering="crispEdges"/>
<rect x="520.10" y="294.80" width="9.90" height="10.91" fill="#00ff90" shape-rendering="crispEdges"/>
<rect x="397.90" y="305.21" width="9.90" height="10.91" fill="#00f0ff" shape-rendering="crispEdges"/>
<rect x="407.30" y="305.21" width="9.90" height="10.91" fill="#00ff90" shape-rendering="crispEdges"/>
<rect x="416.70" y="305.21" width="9.90" height="10.91" fill="#00ff70" shape-rendering="crispEdges"/>
<rect x="426.10" y="305.21" width="9.90" height="10.91" fill="#00ff50" shape-rendering="crispEdges"/>
<rect x="435.50" y="305.21" width="9.90" height="10.91" fill="#00ff50" shape-rendering="crispEdges"/>
<rect x="444.90" y="305.21" width="9.90" height="10.91" fill="#00ff60" shape-rendering="crispEdges"/>
<rect x="454.30" y="305.21" width="9.90" height="10.91" fill="#00ff50" shape-rendering="crispEdges"/>
<rect x="463.70" y="305.21" width="9.90" height="10.91" fill="#00ff50" shape-rendering="crispEdges"/>
<rect x="473.10" y="305.21" width="9.90" height="10.91" fill="#00ff40" shape-rendering="crispEdges"/>
<rect x="482.50" y="305.21" width="9.90" height="10.91" fill="#00ff40" shape-rendering="crispEdges"/>
<rect x="491.90" y="305.21" width="9.90" height="10.91" fill="#00ff40" shape-rendering="crispEdges"/>
<rect x="501.30" y="305.21" width="9.90" height="10.91" fill="#00ff60" shape-rendering="crispEdges"/>
<rect x="510.70" y="305.21" width="9.90" height="10.91" fill="#00ff90" shape-rendering="crispEdges"/>
<rect x="520.10" y="305.21" width="9.90" height="10.91" fill="#00ffff" shape-rendering="crispEdges"/>
<rect x="397.90" y="315.62" width="9.90" height="10.91" fill="#00ffff" shape-rendering="crispEdges"/>
<rect x="407.30" y="315.62" width="9.90" height="10.91" fill="#00ff90" shape-rendering="crispEdges"/>
<rect x="416.70" y="315.62" width="9.90" height="10.91" fill="#00ff70" shape-rendering="crispEdges"/>
<rect x="426.10" y="315.62" width="9.90" height="10.91" fill="#00ff50" shape-rendering="crispEdges"/>
<rect x="435.50" y="315.62" width="9.90" height="10.91" fill="#00ff40" shape-rendering="crispEdges"/>
<rect x="444.90" y="315.62" width="9.90" height="10.91" fill="#10ff10" shape-rendering="crispEdges"/>
<rect x="454.30" y="315.62" width="9.90" height="10.91" fill="#00ff40" shape-rendering="crispEdges"/>
<rect x="463.70" y="315.62" width="9.90" height="10.91" fill="#00ff40" shape-rendering="crispEdges"/>
<rect x="473.10" y="315.62" width="9.90" height="10.91" fill="#00ff30" shape-rendering="crispEdges"/>
<rect x="482.50" y="315.62" width="9.90" height="10.91" fill="#10ff10" shape-rendering="crispEdges"/>
<rect x="491.90" y="315.62" width="9.90" height="10.91" fill="#00ff30" shape-rendering="crispEdges"/>
<rect x="501.30" y="315.62" width="9.90" height="10.91" fill="#00ff50" shape-rendering="crispEdges"/>
<rect x="510.70" y="315.62" width="9.90" height="10.91" fill="#00ff90" shape-rendering="crispEdges"/>
<rect x="520.10" y="315.62" width="9.90" height="10.91" fill="#00c0ff" shape-rendering="crispEdges"/>
<rect x="397.90" y="326.02" width="9.90" height="10.91" fill="#00f0ff" shape-rendering="crispEdges"/>
<rect x="407.30" y="326.02" width="9.90" height="10.91" fill="#00ffb0" shape-rendering="crispEdges"/>
<rect x="416.70" y="326.02" width="9.90" height="10.91" fill="#00ff80" shape-rendering="crispEdges"/>
<rect x="426.10" y="326.02" width="9.90" height="10.91" fill="#00ff50" shape-rendering="crispEdges"/>
<rect x="435.50" y="326.02" width="9.90" height="10.91" fill="#00ff30" shape-rendering="crispEdges"/>
<rect x="444.90" y="326.02" width="9.90" height="10.91" fill="#20ff00" shape-rendering="crispEdges"/>
<rect x="454.30" y="326.02" width="9.90" height="10.91" fill="#20ff00" shape-rendering="crispEdges"/>
<rect x="463.70" y="326.02" width="9.90" height="10.91" fill="#20ff00" shape-rendering="crispEdges"/>
<rect x="473.10" y="326.02" width="9.90" height="10.91" fill="#20ff00" shape-rendering="crispEdges"/>
<rect x="482.50" y="326.02" width="9.90" height="10.91" fill="#10ff10" shape-rendering="crispEdges"/>
<rect x="491.90" y="326.02" width="9.90" height="10.91" fill="#00ff30" shape-rendering="crispEdges"/>
<rect x="501.30" y="326.02" width="9.90" height="10.91" fill="#00ff60" shape-rendering="crispEdges"/>
<rect x="510.70" y="326.02" width="9.90" height="10.91" fill="#00ffb0" shape-rendering="crispEdges"/>
<rect x="520.10" y="326.02" width="9.90" height="10.91" fill="#00a0ff" shape-rendering="crispEdges"/>
<rect x="397.90" y="336.43" width="9.90" height="10.91" fill="#00f8ff" shape-rendering="crispEdges"/>
<rect x="407.30" y="336.43" width="9.90" height="10.91" fill="#00d8ff" shape-rendering="crispEdges"/>
<rect x="416.70" y="336.43" width="9.90" height="10.91" fill="#00ff70" shape-rendering="crispEdges"/>
<rect x="426.10" y="336.43" width="9.90" height="10.91" fill="#00ff80" shape-rendering="crispEdges"/>
<rect x="435.50" y="336.43" width="9.90" height="10.91" fill="#00ff40" shape-rendering="crispEdges"/>
<rect x="444.90" y="336.43" width="9.90" height="10.91" fill="#10ff10" shape-rendering="crispEdges"/>
<rect x="454.30" y="336.43" width="9.90" height="10.91" fill="#30ff00" shape-rendering="crispEdges"/>
<rect x="463.70" y="336.43" width="9.90" height="10.91" fill="#30ff00" shape-rendering="crispEdges"/>
<rect x="473.10" y="336.43" width="9.90" height="10.91" fill="#20ff00" shape-rendering="crispEdges"/>
<rect x="482.50" y="336.43" width="9.90" height="10.91" fill="#00ff30" shape-rendering="crispEdges"/>
<rect x="491.90" y="336.43" width="9.90" height="10.91" fill="#00ff50" shape-rendering="crispEdges"/>
<rect x="501.30" y="336.43" width="9.90" height="10.91" fill="#00ff90" shape-rendering="crispEdges"/>
<rect x="510.70" y="336.43" width="9.90" height="10.91" fill="#00f8ff" shape-rendering="crispEdges"/>
<rect x="520.10" y="336.43" width="9.90" height="10.91" fill="#00a0ff" shape-rendering="crispEdges"/>
<rect x="397.90" y="346.84" width="9.90" height="10.91" fill="#00d0ff" shape-rendering="crispEdges"/>
<rect x="407.30" y="346.84" width="9.90" height="10.91" fill="#00ffa0" shape-rendering="crispEdges"/>
<rect x="416.70" y="346.84" width="9.90" height="10.91" fill="#00ff80" shape-rendering="crispEdges"/>
<rect x="426.10" y="346.84" width="9.90" height="10.91" fill="#00ff60" shape-rendering="crispEdges"/>
<rect x="435.50" y="346.84" width="9.90" height="10.91" fill="#00ffa0" shape-rendering="crispEdges"/>
<rect x="444.90" y="346.84" width="9.90" height="10.91" fill="#50ff00" shape-rendering="crispEdges"/>
<rect x="454.30" y="346.84" width="9.90" height="10.91" fill="#80ff00" shape-rendering="crispEdges"/>
<rect x="463.70" y="346.84" width="9.90" height="10.91" fill="#40ff00" shape-rendering="crispEdges"/>
<rect x="473.10" y="346.84" width="9.90" height="10.91" fill="#40ff00" shape-rendering="crispEdges"/>
<rect x="482.50" y="346.84" width="9.90" height="10.91" fill="#00ff40" shape-rendering="crispEdges"/>
<rect x="491.90" y="346.84" width="9.90" height="10.91" fill="#00ff60" shape-rendering="crispEdges"/>
<rect x="501.30" y="346.84" width="9.90" height="10.91" fill="#00ffa0" shape-rendering="crispEdges"/>
<rect x="510.70" y="346.84" width="9.90" height="10.91" fill="#00ffc0" shape-rendering="crispEdges"/>
<rect x="520.10" y="346.84" width="9.90" height="10.91" fill="#00a0ff" shape-rendering="crispEdges"/>
<rect x="397.90" y="357.25" width="9.90" height="10.91" fill="#00d0ff" shape-rendering="crispEdges"/>
<rect x="407.30" y="357.25" width="9.90" height="10.91" fill="#00ffc0" shape-rendering="crispEdges"/>
<rect x="416.70" y="357.25" width="9.90" height="10.91" fill="#00ffa0" shape-rendering="crispEdges"/>
<rect x="426.10" y="357.25" width="9.90" height="10.91" fill="#00ff90" shape-rendering="crispEdges"/>
<rect x="435.50" y="357.25" width="9.90" height="10.91" fill="#10ff20" shape-rendering="crispEdges"/>
<rect x="444.90" y="357.25" width="9.90" height="10.91" fill="#20ff00" shape-rendering="crispEdges"/>
<rect x="454.30" y="357.25" width="9.90" height="10.91" fill="#00ff10" shape-rendering="crispEdges"/>
<rect x="463.70" y="357.25" width="9.90" height="10.91" fill="#30ff00" shape-rendering="crispEdges"/>
<rect x="473.10" y="357.25" width="9.90" height="10.91" fill="#30ff00" shape-rendering="crispEdges"/>
<rect x="482.50" y="357.25" width="9.90" height="10.91" fill="#00ff30" shape-rendering="crispEdges"/>
<rect x="491.90" y="357.25" width="9.90" height="10.91" fill="#00ff60" shape-rendering="crispEdges"/>
<rect x="501.30" y="357.25" width="9.90" height="10.91" fill="#00ffa0" shape-rendering="crispEdges"/>
<rect x="510.70" y="357.25" width="9.90" height="10.91" fill="#00ffc0" shape-rendering="crispEdges"/>
<rect x="520.10" y="357.25" width="9.90" height="10.91" fill="#00a0ff" shape-rendering="crispEdges"/>
<rect x="397.90" y="367.66" width="9.90" height="10.91" fill="#00f8ff" shape-rendering="crispEdges"/>
<rect x="407.30" y="367.66" width="9.90" height="10.91" fill="#00ffc0" shape-rendering="crispEdges"/>
<rect x="416.70" y="367.66" width="9.90" height="10.91" fill="#00ffb0" shape-rendering="crispEdges"/>
<rect x="426.10" y="367.66" width="9.90" height="10.91" fill="#00ff10" shape-rendering="crispEdges"/>
<rect x="435.50" y="367.66" width="9.90" height="10.91" fill="#10ff10" shape-rendering="crispEdges"/>
<rect x="444.90" y="367.66" width="9.90" height="10.91" fill="#50ff00" shape-rendering="crispEdges"/>
<rect x="454.30" y="367.66" width="9.90" height="10.91" fill="#50ff00" shape-rendering="crispEdges"/>
<rect x="463.70" y="367.66" width="9.90" height="10.91" fill="#60ff00" shape-rendering="crispEdges"/>
<rect x="473.10" y="367.66" width="9.90" height="10.91" fill="#80ff00" shape-rendering="crispEdges"/>
<rect x="482.50" y="367.66" width="9.90" height="10.91" fill="#00ff30" shape-rendering="crispEdges"/>
<rect x="491.90" y="367.66" width="9.90" height="10.91" fill="#00ff60" shape-rendering="crispEdges"/>
<rect x="501.30" y="367.66" width="9.90" height="10.91" fill="#00ffb0" shape-rendering="crispEdges"/>
<rect x="510.70" y="367.66" width="9.90" height="10.91" fill="#00ffd0" shape-rendering="crispEdges"/>
<rect x="520.10" y="367.66" width="9.90" height="10.91" fill="#00b0ff" shape-rendering="crispEdges"/>
<rect x="397.90" y="378.07" width="9.90" height="10.91" fill="#00ffd0" shape-rendering="crispEdges"/>
<rect x="407.30" y="378.07" width="9.90" height="10.91" fill="#00ffff" shape-rendering="crispEdges"/>
<rect x="416.70" y="378.07" width="9.90" height="10.91" fill="#00ffc0" shape-rendering="crispEdges"/>
<rect x="426.10" y="378.07" width="9.90" height="10.91" fill="#00ff80" shape-rendering="crispEdges"/>
<rect x="435.50" y="378.07" width="9.90" height="10.91" fill="#10ff20" shape-rendering="crispEdges"/>
<rect x="444.90" y="378.07" width="9.90" height="10.91" fill="#b0f000" shape-rendering="crispEdges"/>
<rect x="454.30" y="378.07" width="9.90" height="10.91" fill="#ffcc00" shape-rendering="crispEdges"/>
<rect x="463.70" y="378.07" width="9.90" height="10.91" fill="#ffcc00" shape-rendering="crispEdges"/>
<rect x="473.10" y="378.07" width="9.90" height="10.91" fill="#a0ff00" shape-rendering="crispEdges"/>
<rect x="482.50" y="378.07" width="9.90" height="10.91" fill="#10ff10" shape-rendering="crispEdges"/>
<rect x="491.90" y="378.07" width="9.90" height="10.91" fill="#00ff60" shape-rendering="crispEdges"/>
<rect x="501.30" y="378.07" width="9.90" height="10.91" fill="#00ffa0" shape-rendering="crispEdges"/>
<rect x="510.70" y="378.07" width="9.90" height="10.91" fill="#00ffd0" shape-rendering="crispEdges"/>
<rect x="520.10" y="378.07" width="9.90" height="10.91" fill="#00c0ff" shape-rendering="crispEdges"/>
<rect x="397.90" y="388.48" width="9.90" height="10.91" fill="#00ffff" shape-rendering="crispEdges"/>
<rect x="407.30" y="388.48" width="9.90" height="10.91" fill="#00ffd0" shape-rendering="crispEdges"/>
<rect x="416.70" y="388.48" width="9.90" height="10.91" fill="#00ffc0" shape-rendering="crispEdges"/>
<rect x="426.10" y="388.48" width="9.90" height="10.91" fill="#00ff60" shape-rendering="crispEdges"/>
<rect x="435.50" y="388.48" width="9.90" height="10.91" fill="#00ff90" shape-rendering="crispEdges"/>
<rect x="444.90" y="388.48" width="9.90" height="10.91" fill="#10ff10" shape-rendering="crispEdges"/>
<rect x="454.30" y="388.48" width="9.90" height="10.91" fill="#ff9900" shape-rendering="crispEdges"/>
<rect x="463.70" y="388.48" width="9.90" height="10.91" fill="#ff9900" shape-rendering="crispEdges"/>
<rect x="473.10" y="388.48" width="9.90" height="10.91" fill="#10ff10" shape-rendering="crispEdges"/>
<rect x="482.50" y="388.48" width="9.90" height="10.91" fill="#00ff70" shape-rendering="crispEdges"/>
<rect x="491.90" y="388.48" width="9.90" height="10.91" fill="#00ff70" shape-rendering="crispEdges"/>
<rect x="501.30" y="388.48" width="9.90" height="10.91" fill="#00ffa0" shape-rendering="crispEdges"/>
<rect x="510.70" y="388.48" width="9.90" height="10.91" fill="#00ffd0" shape-rendering="crispEdges"/>
<rect x="520.10" y="388.48" width="9.90" height="10.91" fill="#00d0ff" shape-rendering="crispEdges"/>
<rect x="397.90" y="398.88" width="9.90" height="10.91" fill="#00ffc0" shape-rendering="crispEdges"/>
<rect x="407.30" y="398.88" width="9.90" height="10.91" fill="#00ff90" shape-rendering="crispEdges"/>
<rect x="416.70" y="398.88" width="9.90" height="10.91" fill="#00ffd0" shape-rendering="crispEdges"/>
<rect x="426.10" y="398.88" width="9.90" height="10.91" fill="#00ffff" shape-rendering="crispEdges"/>
<rect x="435.50" y="398.88" width="9.90" height="10.91" fill="#00e0ff" shape-rendering="crispEdges"/>
<rect x="444.90" y="398.88" width="9.90" height="10.91" fill="#00d0ff" shape-rendering="crispEdges"/>
<rect x="454.30" y="398.88" width="9.90" height="10.91" fill="#0060ff" shape-rendering="crispEdges"/>
<rect x="463.70" y="398.88" width="9.90" height="10.91" fill="#2040ff" shape-rendering="crispEdges"/>
<rect x="473.10" y="398.88" width="9.90" height="10.91" fill="#00b0ff" shape-rendering="crispEdges"/>
<rect x="482.50" y="398.88" width="9.90" height="10.91" fill="#00c8ff" shape-rendering="crispEdges"/>
<rect x="491.90" y="398.88" width="9.90" height="10.91" fill="#00d8ff" shape-rendering="crispEdges"/>
<rect x="501.30" y="398.88" width="9.90" height="10.91" fill="#00ffe0" shape-rendering="crispEdges"/>
<rect x="510.70" y="398.88" width="9.90" height="10.91" fill="#00ffb0" shape-rendering="crispEdges"/>
<rect x="520.10" y="398.88" width="9.90" height="10.91" fill="#00e8ff" shape-rendering="crispEdges"/>
<rect x="397.90" y="409.29" width="9.90" height="10.91" fill="#00ff80" shape-rendering="crispEdges"/>
<rect x="407.30" y="409.29" width="9.90" height="10.91" fill="#00ff90" shape-rendering="crispEdges"/>
<rect x="416.70" y="409.29" width="9.90" height="10.91" fill="#00ffff" shape-rendering="crispEdges"/>
<rect x="426.10" y="409.29" width="9.90" height="10.91" fill="#00a0ff" shape-rendering="crispEdges"/>
<rect x="435.50" y="409.29" width="9.90" height="10.91" fill="#2040ff" shape-rendering="crispEdges"/>
<rect x="444.90" y="409.29" width="9.90" height="10.91" fill="#6000ff" shape-rendering="crispEdges"/>
<rect x="454.30" y="409.29" width="9.90" height="10.91" fill="#000000" shape-rendering="crispEdges"/>
<rect x="463.70" y="409.29" width="9.90" height="10.91" fill="#000000" shape-rendering="crispEdges"/>
<rect x="473.10" y="409.29" width="9.90" height="10.91" fill="#6000ff" shape-rendering="crispEdges"/>
<rect x="482.50" y="409.29" width="9.90" height="10.91" fill="#2050ff" shape-rendering="crispEdges"/>
<rect x="491.90" y="409.29" width="9.90" height="10.91" fill="#0080ff" shape-rendering="crispEdges"/>
<rect x="501.30" y="409.29" width="9.90" height="10.91" fill="#00ffff" shape-rendering="crispEdges"/>
<rect x="510.70" y="409.29" width="9.90" height="10.91" fill="#00ff90" shape-rendering="crispEdges"/>
<rect x="520.10" y="409.29" width="9.90" height="10.91" fill="#00e8ff" shape-rendering="crispEdges"/>
<rect x="397.9" y="294.8" width="131.60" height="124.90" fill="none" stroke="#333" stroke-width="1"/>
<line x1="395.4" y1="419.70" x2="397.9" y2="419.70" stroke="#333" stroke-width="0.9"/>
<text x="393.9" y="422.60" font-size="8.2" fill="#404040" text-anchor="end">0</text>
<line x1="395.4" y1="398.88" x2="397.9" y2="398.88" stroke="#333" stroke-width="0.9"/>
<text x="393.9" y="401.78" font-size="8.2" fill="#404040" text-anchor="end">10</text>
<line x1="395.4" y1="378.07" x2="397.9" y2="378.07" stroke="#333" stroke-width="0.9"/>
<text x="393.9" y="380.97" font-size="8.2" fill="#404040" text-anchor="end">20</text>
<line x1="395.4" y1="357.25" x2="397.9" y2="357.25" stroke="#333" stroke-width="0.9"/>
<text x="393.9" y="360.15" font-size="8.2" fill="#404040" text-anchor="end">30</text>
<line x1="395.4" y1="336.43" x2="397.9" y2="336.43" stroke="#333" stroke-width="0.9"/>
<text x="393.9" y="339.33" font-size="8.2" fill="#404040" text-anchor="end">40</text>
<line x1="395.4" y1="315.62" x2="397.9" y2="315.62" stroke="#333" stroke-width="0.9"/>
<text x="393.9" y="318.52" font-size="8.2" fill="#404040" text-anchor="end">50</text>
<line x1="395.4" y1="294.80" x2="397.9" y2="294.80" stroke="#333" stroke-width="0.9"/>
<text x="393.9" y="297.70" font-size="8.2" fill="#404040" text-anchor="end">60</text>
<line x1="407.30" y1="419.7" x2="407.30" y2="422.2" stroke="#333" stroke-width="0.9"/>
<text x="407.30" y="430.50" font-size="8.2" fill="#404040" text-anchor="middle">-30</text>
<line x1="426.10" y1="419.7" x2="426.10" y2="422.2" stroke="#333" stroke-width="0.9"/>
<text x="426.10" y="430.50" font-size="8.2" fill="#404040" text-anchor="middle">-20</text>
<line x1="444.90" y1="419.7" x2="444.90" y2="422.2" stroke="#333" stroke-width="0.9"/>
<text x="444.90" y="430.50" font-size="8.2" fill="#404040" text-anchor="middle">-10</text>
<line x1="463.70" y1="419.7" x2="463.70" y2="422.2" stroke="#333" stroke-width="0.9"/>
<text x="463.70" y="430.50" font-size="8.2" fill="#404040" text-anchor="middle">0</text>
<line x1="482.50" y1="419.7" x2="482.50" y2="422.2" stroke="#333" stroke-width="0.9"/>
<text x="482.50" y="430.50" font-size="8.2" fill="#404040" text-anchor="middle">10</text>
<line x1="501.30" y1="419.7" x2="501.30" y2="422.2" stroke="#333" stroke-width="0.9"/>
<text x="501.30" y="430.50" font-size="8.2" fill="#404040" text-anchor="middle">20</text>
<line x1="520.10" y1="419.7" x2="520.10" y2="422.2" stroke="#333" stroke-width="0.9"/>
<text x="520.10" y="430.50" font-size="8.2" fill="#404040" text-anchor="middle">30</text>
<text x="464.0" y="439.6" font-size="8.6" fill="#404040" text-anchor="middle">X (mm)</text>
<text transform="translate(379.6,357.75) rotate(-90)" font-size="8.6" fill="#404040" text-anchor="middle">Y (mm)</text>
<text x="403.1" y="308.6" font-size="10.3" fill="#112">Approximated (n = 2)</text>
<rect x="575.50" y="294.40" width="9.90" height="10.95" fill="#00ffb0" shape-rendering="crispEdges"/>
<rect x="584.90" y="294.40" width="9.90" height="10.95" fill="#00ff90" shape-rendering="crispEdges"/>
<rect x="594.30" y="294.40" width="9.90" height="10.95" fill="#00ff80" shape-rendering="crispEdges"/>
<rect x="603.70" y="294.40" width="9.90" height="10.95" fill="#00ff60" shape-rendering="crispEdges"/>
<rect x="613.10" y="294.40" width="9.90" height="10.95" fill="#00ff60" shape-rendering="crispEdges"/>
<rect x="622.50" y="294.40" width="9.90" height="10.95" fill="#00ff60" shape-rendering="crispEdges"/>
<rect x="631.90" y="294.40" width="9.90" height="10.95" fill="#00ff90" shape-rendering="crispEdges"/>
<rect x="641.30" y="294.40" width="9.90" height="10.95" fill="#00ff90" shape-rendering="crispEdges"/>
<rect x="650.70" y="294.40" width="9.90" height="10.95" fill="#00ff70" shape-rendering="crispEdges"/>
<rect x="660.10" y="294.40" width="9.90" height="10.95" fill="#00ff50" shape-rendering="crispEdges"/>
<rect x="669.50" y="294.40" width="9.90" height="10.95" fill="#00ff40" shape-rendering="crispEdges"/>
<rect x="678.90" y="294.40" width="9.90" height="10.95" fill="#00ff60" shape-rendering="crispEdges"/>
<rect x="688.30" y="294.40" width="9.90" height="10.95" fill="#00ff90" shape-rendering="crispEdges"/>
<rect x="697.70" y="294.40" width="9.90" height="10.95" fill="#00ffb0" shape-rendering="crispEdges"/>
<rect x="575.50" y="304.85" width="9.90" height="10.95" fill="#00ffd0" shape-rendering="crispEdges"/>
<rect x="584.90" y="304.85" width="9.90" height="10.95" fill="#00ffc0" shape-rendering="crispEdges"/>
<rect x="594.30" y="304.85" width="9.90" height="10.95" fill="#00ff90" shape-rendering="crispEdges"/>
<rect x="603.70" y="304.85" width="9.90" height="10.95" fill="#00ff70" shape-rendering="crispEdges"/>
<rect x="613.10" y="304.85" width="9.90" height="10.95" fill="#00ff40" shape-rendering="crispEdges"/>
<rect x="622.50" y="304.85" width="9.90" height="10.95" fill="#10ff10" shape-rendering="crispEdges"/>
<rect x="631.90" y="304.85" width="9.90" height="10.95" fill="#00ffb0" shape-rendering="crispEdges"/>
<rect x="641.30" y="304.85" width="9.90" height="10.95" fill="#00ffb0" shape-rendering="crispEdges"/>
<rect x="650.70" y="304.85" width="9.90" height="10.95" fill="#00ff90" shape-rendering="crispEdges"/>
<rect x="660.10" y="304.85" width="9.90" height="10.95" fill="#00ff70" shape-rendering="crispEdges"/>
<rect x="669.50" y="304.85" width="9.90" height="10.95" fill="#00ff60" shape-rendering="crispEdges"/>
<rect x="678.90" y="304.85" width="9.90" height="10.95" fill="#00ff60" shape-rendering="crispEdges"/>
<rect x="688.30" y="304.85" width="9.90" height="10.95" fill="#00ff90" shape-rendering="crispEdges"/>
<rect x="697.70" y="304.85" width="9.90" height="10.95" fill="#00ffc0" shape-rendering="crispEdges"/>
<rect x="575.50" y="315.30" width="9.90" height="10.95" fill="#00ffd0" shape-rendering="crispEdges"/>
<rect x="584.90" y="315.30" width="9.90" height="10.95" fill="#00ffc0" shape-rendering="crispEdges"/>
<rect x="594.30" y="315.30" width="9.90" height="10.95" fill="#00ff80" shape-rendering="crispEdges"/>
<rect x="603.70" y="315.30" width="9.90" height="10.95" fill="#00ff60" shape-rendering="crispEdges"/>
<rect x="613.10" y="315.30" width="9.90" height="10.95" fill="#00ff40" shape-rendering="crispEdges"/>
<rect x="622.50" y="315.30" width="9.90" height="10.95" fill="#00ff70" shape-rendering="crispEdges"/>
<rect x="631.90" y="315.30" width="9.90" height="10.95" fill="#00ff70" shape-rendering="crispEdges"/>
<rect x="641.30" y="315.30" width="9.90" height="10.95" fill="#00ff60" shape-rendering="crispEdges"/>
<rect x="650.70" y="315.30" width="9.90" height="10.95" fill="#00ff60" shape-rendering="crispEdges"/>
<rect x="660.10" y="315.30" width="9.90" height="10.95" fill="#00ff50" shape-rendering="crispEdges"/>
<rect x="669.50" y="315.30" width="9.90" height="10.95" fill="#00ff50" shape-rendering="crispEdges"/>
<rect x="678.90" y="315.30" width="9.90" height="10.95" fill="#00ff60" shape-rendering="crispEdges"/>
<rect x="688.30" y="315.30" width="9.90" height="10.95" fill="#00ff90" shape-rendering="crispEdges"/>
<rect x="697.70" y="315.30" width="9.90" height="10.95" fill="#00f0ff" shape-rendering="crispEdges"/>
<rect x="575.50" y="325.75" width="9.90" height="10.95" fill="#00ffd0" shape-rendering="crispEdges"/>
<rect x="584.90" y="325.75" width="9.90" height="10.95" fill="#00ff90" shape-rendering="crispEdges"/>
<rect x="594.30" y="325.75" width="9.90" height="10.95" fill="#00ff70" shape-rendering="crispEdges"/>
<rect x="603.70" y="325.75" width="9.90" height="10.95" fill="#00ff50" shape-rendering="crispEdges"/>
<rect x="613.10" y="325.75" width="9.90" height="10.95" fill="#10ff10" shape-rendering="crispEdges"/>
<rect x="622.50" y="325.75" width="9.90" height="10.95" fill="#00ff20" shape-rendering="crispEdges"/>
<rect x="631.90" y="325.75" width="9.90" height="10.95" fill="#30ff00" shape-rendering="crispEdges"/>
<rect x="641.30" y="325.75" width="9.90" height="10.95" fill="#30ff00" shape-rendering="crispEdges"/>
<rect x="650.70" y="325.75" width="9.90" height="10.95" fill="#00ff20" shape-rendering="crispEdges"/>
<rect x="660.10" y="325.75" width="9.90" height="10.95" fill="#20ff00" shape-rendering="crispEdges"/>
<rect x="669.50" y="325.75" width="9.90" height="10.95" fill="#10ff10" shape-rendering="crispEdges"/>
<rect x="678.90" y="325.75" width="9.90" height="10.95" fill="#00ff60" shape-rendering="crispEdges"/>
<rect x="688.30" y="325.75" width="9.90" height="10.95" fill="#00ffb0" shape-rendering="crispEdges"/>
<rect x="697.70" y="325.75" width="9.90" height="10.95" fill="#00f0ff" shape-rendering="crispEdges"/>
<rect x="575.50" y="336.20" width="9.90" height="10.95" fill="#00ffd0" shape-rendering="crispEdges"/>
<rect x="584.90" y="336.20" width="9.90" height="10.95" fill="#10ff20" shape-rendering="crispEdges"/>
<rect x="594.30" y="336.20" width="9.90" height="10.95" fill="#10ff20" shape-rendering="crispEdges"/>
<rect x="603.70" y="336.20" width="9.90" height="10.95" fill="#00ff30" shape-rendering="crispEdges"/>
<rect x="613.10" y="336.20" width="9.90" height="10.95" fill="#10ff10" shape-rendering="crispEdges"/>
<rect x="622.50" y="336.20" width="9.90" height="10.95" fill="#50ff00" shape-rendering="crispEdges"/>
<rect x="631.90" y="336.20" width="9.90" height="10.95" fill="#50ff00" shape-rendering="crispEdges"/>
<rect x="641.30" y="336.20" width="9.90" height="10.95" fill="#30ff00" shape-rendering="crispEdges"/>
<rect x="650.70" y="336.20" width="9.90" height="10.95" fill="#40ff00" shape-rendering="crispEdges"/>
<rect x="660.10" y="336.20" width="9.90" height="10.95" fill="#20ff00" shape-rendering="crispEdges"/>
<rect x="669.50" y="336.20" width="9.90" height="10.95" fill="#10ff10" shape-rendering="crispEdges"/>
<rect x="678.90" y="336.20" width="9.90" height="10.95" fill="#00ff40" shape-rendering="crispEdges"/>
<rect x="688.30" y="336.20" width="9.90" height="10.95" fill="#00ff90" shape-rendering="crispEdges"/>
<rect x="697.70" y="336.20" width="9.90" height="10.95" fill="#00f0ff" shape-rendering="crispEdges"/>
<rect x="575.50" y="346.65" width="9.90" height="10.95" fill="#00e0ff" shape-rendering="crispEdges"/>
<rect x="584.90" y="346.65" width="9.90" height="10.95" fill="#00ff70" shape-rendering="crispEdges"/>
<rect x="594.30" y="346.65" width="9.90" height="10.95" fill="#00ffb0" shape-rendering="crispEdges"/>
<rect x="603.70" y="346.65" width="9.90" height="10.95" fill="#00ff30" shape-rendering="crispEdges"/>
<rect x="613.10" y="346.65" width="9.90" height="10.95" fill="#00ff50" shape-rendering="crispEdges"/>
<rect x="622.50" y="346.65" width="9.90" height="10.95" fill="#50ff00" shape-rendering="crispEdges"/>
<rect x="631.90" y="346.65" width="9.90" height="10.95" fill="#80ff00" shape-rendering="crispEdges"/>
<rect x="641.30" y="346.65" width="9.90" height="10.95" fill="#60ff00" shape-rendering="crispEdges"/>
<rect x="650.70" y="346.65" width="9.90" height="10.95" fill="#40ff00" shape-rendering="crispEdges"/>
<rect x="660.10" y="346.65" width="9.90" height="10.95" fill="#20ff00" shape-rendering="crispEdges"/>
<rect x="669.50" y="346.65" width="9.90" height="10.95" fill="#00ff30" shape-rendering="crispEdges"/>
<rect x="678.90" y="346.65" width="9.90" height="10.95" fill="#00ff70" shape-rendering="crispEdges"/>
<rect x="688.30" y="346.65" width="9.90" height="10.95" fill="#00ffb0" shape-rendering="crispEdges"/>
<rect x="697.70" y="346.65" width="9.90" height="10.95" fill="#00e0ff" shape-rendering="crispEdges"/>
<rect x="575.50" y="357.10" width="9.90" height="10.95" fill="#00b0ff" shape-rendering="crispEdges"/>
<rect x="584.90" y="357.10" width="9.90" height="10.95" fill="#00ffe0" shape-rendering="crispEdges"/>
<rect x="594.30" y="357.10" width="9.90" height="10.95" fill="#00ff80" shape-rendering="crispEdges"/>
<rect x="603.70" y="357.10" width="9.90" height="10.95" fill="#00ff60" shape-rendering="crispEdges"/>
<rect x="613.10" y="357.10" width="9.90" height="10.95" fill="#30ff00" shape-rendering="crispEdges"/>
<rect x="622.50" y="357.10" width="9.90" height="10.95" fill="#00ff10" shape-rendering="crispEdges"/>
<rect x="631.90" y="357.10" width="9.90" height="10.95" fill="#00ff10" shape-rendering="crispEdges"/>
<rect x="641.30" y="357.10" width="9.90" height="10.95" fill="#20ff00" shape-rendering="crispEdges"/>
<rect x="650.70" y="357.10" width="9.90" height="10.95" fill="#20ff00" shape-rendering="crispEdges"/>
<rect x="660.10" y="357.10" width="9.90" height="10.95" fill="#40ff00" shape-rendering="crispEdges"/>
<rect x="669.50" y="357.10" width="9.90" height="10.95" fill="#00ff40" shape-rendering="crispEdges"/>
<rect x="678.90" y="357.10" width="9.90" height="10.95" fill="#00ff90" shape-rendering="crispEdges"/>
<rect x="688.30" y="357.10" width="9.90" height="10.95" fill="#00ffc0" shape-rendering="crispEdges"/>
<rect x="697.70" y="357.10" width="9.90" height="10.95" fill="#00e0ff" shape-rendering="crispEdges"/>
<rect x="575.50" y="367.55" width="9.90" height="10.95" fill="#00e0ff" shape-rendering="crispEdges"/>
<rect x="584.90" y="367.55" width="9.90" height="10.95" fill="#00ff70" shape-rendering="crispEdges"/>
<rect x="594.30" y="367.55" width="9.90" height="10.95" fill="#00ffb0" shape-rendering="crispEdges"/>
<rect x="603.70" y="367.55" width="9.90" height="10.95" fill="#30ff00" shape-rendering="crispEdges"/>
<rect x="613.10" y="367.55" width="9.90" height="10.95" fill="#10ff10" shape-rendering="crispEdges"/>
<rect x="622.50" y="367.55" width="9.90" height="10.95" fill="#40ff00" shape-rendering="crispEdges"/>
<rect x="631.90" y="367.55" width="9.90" height="10.95" fill="#60ff00" shape-rendering="crispEdges"/>
<rect x="641.30" y="367.55" width="9.90" height="10.95" fill="#80ff00" shape-rendering="crispEdges"/>
<rect x="650.70" y="367.55" width="9.90" height="10.95" fill="#80ff00" shape-rendering="crispEdges"/>
<rect x="660.10" y="367.55" width="9.90" height="10.95" fill="#00ff20" shape-rendering="crispEdges"/>
<rect x="669.50" y="367.55" width="9.90" height="10.95" fill="#10ff10" shape-rendering="crispEdges"/>
<rect x="678.90" y="367.55" width="9.90" height="10.95" fill="#00ffb0" shape-rendering="crispEdges"/>
<rect x="688.30" y="367.55" width="9.90" height="10.95" fill="#00ff90" shape-rendering="crispEdges"/>
<rect x="697.70" y="367.55" width="9.90" height="10.95" fill="#00e8ff" shape-rendering="crispEdges"/>
<rect x="575.50" y="378.00" width="9.90" height="10.95" fill="#00ffb0" shape-rendering="crispEdges"/>
<rect x="584.90" y="378.00" width="9.90" height="10.95" fill="#00ffd0" shape-rendering="crispEdges"/>
<rect x="594.30" y="378.00" width="9.90" height="10.95" fill="#00ff80" shape-rendering="crispEdges"/>
<rect x="603.70" y="378.00" width="9.90" height="10.95" fill="#00ff60" shape-rendering="crispEdges"/>
<rect x="613.10" y="378.00" width="9.90" height="10.95" fill="#00ff50" shape-rendering="crispEdges"/>
<rect x="622.50" y="378.00" width="9.90" height="10.95" fill="#a0ff00" shape-rendering="crispEdges"/>
<rect x="631.90" y="378.00" width="9.90" height="10.95" fill="#ffcc00" shape-rendering="crispEdges"/>
<rect x="641.30" y="378.00" width="9.90" height="10.95" fill="#ffcc00" shape-rendering="crispEdges"/>
<rect x="650.70" y="378.00" width="9.90" height="10.95" fill="#80ff00" shape-rendering="crispEdges"/>
<rect x="660.10" y="378.00" width="9.90" height="10.95" fill="#00ff90" shape-rendering="crispEdges"/>
<rect x="669.50" y="378.00" width="9.90" height="10.95" fill="#00ff60" shape-rendering="crispEdges"/>
<rect x="678.90" y="378.00" width="9.90" height="10.95" fill="#00ffa0" shape-rendering="crispEdges"/>
<rect x="688.30" y="378.00" width="9.90" height="10.95" fill="#00ffb0" shape-rendering="crispEdges"/>
<rect x="697.70" y="378.00" width="9.90" height="10.95" fill="#00e8ff" shape-rendering="crispEdges"/>
<rect x="575.50" y="388.45" width="9.90" height="10.95" fill="#00ffff" shape-rendering="crispEdges"/>
<rect x="584.90" y="388.45" width="9.90" height="10.95" fill="#00ffff" shape-rendering="crispEdges"/>
<rect x="594.30" y="388.45" width="9.90" height="10.95" fill="#00ffd0" shape-rendering="crispEdges"/>
<rect x="603.70" y="388.45" width="9.90" height="10.95" fill="#00ff30" shape-rendering="crispEdges"/>
<rect x="613.10" y="388.45" width="9.90" height="10.95" fill="#00ff90" shape-rendering="crispEdges"/>
<rect x="622.50" y="388.45" width="9.90" height="10.95" fill="#00ff70" shape-rendering="crispEdges"/>
<rect x="631.90" y="388.45" width="9.90" height="10.95" fill="#ffee00" shape-rendering="crispEdges"/>
<rect x="641.30" y="388.45" width="9.90" height="10.95" fill="#ffe800" shape-rendering="crispEdges"/>
<rect x="650.70" y="388.45" width="9.90" height="10.95" fill="#10ff30" shape-rendering="crispEdges"/>
<rect x="660.10" y="388.45" width="9.90" height="10.95" fill="#00ffa0" shape-rendering="crispEdges"/>
<rect x="669.50" y="388.45" width="9.90" height="10.95" fill="#00ff90" shape-rendering="crispEdges"/>
<rect x="678.90" y="388.45" width="9.90" height="10.95" fill="#00ffb0" shape-rendering="crispEdges"/>
<rect x="688.30" y="388.45" width="9.90" height="10.95" fill="#00ffd0" shape-rendering="crispEdges"/>
<rect x="697.70" y="388.45" width="9.90" height="10.95" fill="#00e8ff" shape-rendering="crispEdges"/>
<rect x="575.50" y="398.90" width="9.90" height="10.95" fill="#00ffff" shape-rendering="crispEdges"/>
<rect x="584.90" y="398.90" width="9.90" height="10.95" fill="#00ff90" shape-rendering="crispEdges"/>
<rect x="594.30" y="398.90" width="9.90" height="10.95" fill="#00ffff" shape-rendering="crispEdges"/>
<rect x="603.70" y="398.90" width="9.90" height="10.95" fill="#00ffff" shape-rendering="crispEdges"/>
<rect x="613.10" y="398.90" width="9.90" height="10.95" fill="#00c0ff" shape-rendering="crispEdges"/>
<rect x="622.50" y="398.90" width="9.90" height="10.95" fill="#0080ff" shape-rendering="crispEdges"/>
<rect x="631.90" y="398.90" width="9.90" height="10.95" fill="#8000ff" shape-rendering="crispEdges"/>
<rect x="641.30" y="398.90" width="9.90" height="10.95" fill="#8000ff" shape-rendering="crispEdges"/>
<rect x="650.70" y="398.90" width="9.90" height="10.95" fill="#0080ff" shape-rendering="crispEdges"/>
<rect x="660.10" y="398.90" width="9.90" height="10.95" fill="#00b0ff" shape-rendering="crispEdges"/>
<rect x="669.50" y="398.90" width="9.90" height="10.95" fill="#00d0ff" shape-rendering="crispEdges"/>
<rect x="678.90" y="398.90" width="9.90" height="10.95" fill="#00ffff" shape-rendering="crispEdges"/>
<rect x="688.30" y="398.90" width="9.90" height="10.95" fill="#00ff80" shape-rendering="crispEdges"/>
<rect x="697.70" y="398.90" width="9.90" height="10.95" fill="#00e8ff" shape-rendering="crispEdges"/>
<rect x="575.50" y="409.35" width="9.90" height="10.95" fill="#00ff80" shape-rendering="crispEdges"/>
<rect x="584.90" y="409.35" width="9.90" height="10.95" fill="#00ff90" shape-rendering="crispEdges"/>
<rect x="594.30" y="409.35" width="9.90" height="10.95" fill="#00e0ff" shape-rendering="crispEdges"/>
<rect x="603.70" y="409.35" width="9.90" height="10.95" fill="#0080ff" shape-rendering="crispEdges"/>
<rect x="613.10" y="409.35" width="9.90" height="10.95" fill="#2040ff" shape-rendering="crispEdges"/>
<rect x="622.50" y="409.35" width="9.90" height="10.95" fill="#6000ff" shape-rendering="crispEdges"/>
<rect x="631.90" y="409.35" width="9.90" height="10.95" fill="#8000ff" shape-rendering="crispEdges"/>
<rect x="641.30" y="409.35" width="9.90" height="10.95" fill="#000000" shape-rendering="crispEdges"/>
<rect x="650.70" y="409.35" width="9.90" height="10.95" fill="#4000ff" shape-rendering="crispEdges"/>
<rect x="660.10" y="409.35" width="9.90" height="10.95" fill="#2050ff" shape-rendering="crispEdges"/>
<rect x="669.50" y="409.35" width="9.90" height="10.95" fill="#0080ff" shape-rendering="crispEdges"/>
<rect x="678.90" y="409.35" width="9.90" height="10.95" fill="#00ffff" shape-rendering="crispEdges"/>
<rect x="688.30" y="409.35" width="9.90" height="10.95" fill="#00ff80" shape-rendering="crispEdges"/>
<rect x="697.70" y="409.35" width="9.90" height="10.95" fill="#00e8ff" shape-rendering="crispEdges"/>
<rect x="575.5" y="294.4" width="131.60" height="125.40" fill="none" stroke="#333" stroke-width="1"/>
<line x1="573.0" y1="419.80" x2="575.5" y2="419.80" stroke="#333" stroke-width="0.9"/>
<text x="571.5" y="422.70" font-size="8.2" fill="#404040" text-anchor="end">0</text>
<line x1="573.0" y1="398.90" x2="575.5" y2="398.90" stroke="#333" stroke-width="0.9"/>
<text x="571.5" y="401.80" font-size="8.2" fill="#404040" text-anchor="end">10</text>
<line x1="573.0" y1="378.00" x2="575.5" y2="378.00" stroke="#333" stroke-width="0.9"/>
<text x="571.5" y="380.90" font-size="8.2" fill="#404040" text-anchor="end">20</text>
<line x1="573.0" y1="357.10" x2="575.5" y2="357.10" stroke="#333" stroke-width="0.9"/>
<text x="571.5" y="360.00" font-size="8.2" fill="#404040" text-anchor="end">30</text>
<line x1="573.0" y1="336.20" x2="575.5" y2="336.20" stroke="#333" stroke-width="0.9"/>
<text x="571.5" y="339.10" font-size="8.2" fill="#404040" text-anchor="end">40</text>
<line x1="573.0" y1="315.30" x2="575.5" y2="315.30" stroke="#333" stroke-width="0.9"/>
<text x="571.5" y="318.20" font-size="8.2" fill="#404040" text-anchor="end">50</text>
<line x1="573.0" y1="294.40" x2="575.5" y2="294.40" stroke="#333" stroke-width="0.9"/>
<text x="571.5" y="297.30" font-size="8.2" fill="#404040" text-anchor="end">60</text>
<line x1="584.90" y1="419.8" x2="584.90" y2="422.3" stroke="#333" stroke-width="0.9"/>
<text x="584.90" y="430.60" font-size="8.2" fill="#404040" text-anchor="middle">-30</text>
<line x1="603.70" y1="419.8" x2="603.70" y2="422.3" stroke="#333" stroke-width="0.9"/>
<text x="603.70" y="430.60" font-size="8.2" fill="#404040" text-anchor="middle">-20</text>
<line x1="622.50" y1="419.8" x2="622.50" y2="422.3" stroke="#333" stroke-width="0.9"/>
<text x="622.50" y="430.60" font-size="8.2" fill="#404040" text-anchor="middle">-10</text>
<line x1="641.30" y1="419.8" x2="641.30" y2="422.3" stroke="#333" stroke-width="0.9"/>
<text x="641.30" y="430.60" font-size="8.2" fill="#404040" text-anchor="middle">0</text>
<line x1="660.10" y1="419.8" x2="660.10" y2="422.3" stroke="#333" stroke-width="0.9"/>
<text x="660.10" y="430.60" font-size="8.2" fill="#404040" text-anchor="middle">10</text>
<line x1="678.90" y1="419.8" x2="678.90" y2="422.3" stroke="#333" stroke-width="0.9"/>
<text x="678.90" y="430.60" font-size="8.2" fill="#404040" text-anchor="middle">20</text>
<line x1="697.70" y1="419.8" x2="697.70" y2="422.3" stroke="#333" stroke-width="0.9"/>
<text x="697.70" y="430.60" font-size="8.2" fill="#404040" text-anchor="middle">30</text>
<text x="641.6" y="439.6" font-size="8.6" fill="#404040" text-anchor="middle">X (mm)</text>
<text transform="translate(558.6,357.60) rotate(-90)" font-size="8.6" fill="#404040" text-anchor="middle">Y (mm)</text>
<text x="582.1" y="308.6" font-size="10.3" fill="#112">Approximated (n = 8)</text>
<text x="381.3" y="465.9" font-size="11.3" fill="#222" stroke="#222" stroke-width="0.35">Strain (%)</text>
<rect x="439.6" y="452.8" width="5.4" height="21.8" fill="#808080"/>
<defs><linearGradient id="cb" x1="0" x2="1" y1="0" y2="0">
<stop offset="0.0006" stop-color="rgb(255, 0, 0)"/>
<stop offset="0.0589" stop-color="rgb(255, 42, 0)"/>
<stop offset="0.1172" stop-color="rgb(255, 85, 0)"/>
<stop offset="0.1768" stop-color="rgb(255, 128, 0)"/>
<stop offset="0.2152" stop-color="rgb(255, 160, 0)"/>
<stop offset="0.2549" stop-color="rgb(255, 200, 0)"/>
<stop offset="0.2735" stop-color="rgb(255, 224, 0)"/>
<stop offset="0.2934" stop-color="rgb(240, 240, 0)"/>
<stop offset="0.3132" stop-color="rgb(192, 255, 0)"/>
<stop offset="0.3331" stop-color="rgb(160, 255, 0)"/>
<stop offset="0.3716" stop-color="rgb(96, 255, 0)"/>
<stop offset="0.3914" stop-color="rgb(48, 255, 0)"/>
<stop offset="0.4224" stop-color="rgb(0, 255, 0)"/>
<stop offset="0.4497" stop-color="rgb(0, 255, 48)"/>
<stop offset="0.4894" stop-color="rgb(0, 255, 128)"/>
<stop offset="0.5291" stop-color="rgb(0, 255, 176)"/>
<stop offset="0.5477" stop-color="rgb(0, 255, 224)"/>
<stop offset="0.5676" stop-color="rgb(0, 255, 255)"/>
<stop offset="0.6073" stop-color="rgb(0, 224, 255)"/>
<stop offset="0.6457" stop-color="rgb(0, 184, 255)"/>
<stop offset="0.6855" stop-color="rgb(0, 144, 255)"/>
<stop offset="0.7252" stop-color="rgb(0, 112, 255)"/>
<stop offset="0.7636" stop-color="rgb(0, 96, 255)"/>
<stop offset="0.8033" stop-color="rgb(32, 64, 255)"/>
<stop offset="0.8418" stop-color="rgb(48, 16, 255)"/>
<stop offset="0.8815" stop-color="rgb(72, 0, 255)"/>
<stop offset="0.9199" stop-color="rgb(104, 0, 255)"/>
<stop offset="0.9596" stop-color="rgb(136, 0, 255)"/>
<stop offset="0.9944" stop-color="rgb(160, 0, 255)"/>
</linearGradient></defs>
<rect x="444.9" y="452.8" width="255.50" height="21.8" fill="url(#cb)"/>
<rect x="700.3" y="452.8" width="5.7" height="21.8" fill="#000"/>
<rect x="439.6" y="452.8" width="266.4" height="21.8" fill="none" stroke="#555" stroke-width="0.6"/>
<line x1="445.30" y1="474.6" x2="445.30" y2="476.6" stroke="#444" stroke-width="0.7"/>
<text x="445.30" y="487.3" font-size="8.8" fill="#2e3640" text-anchor="middle" stroke="#2e3640" stroke-width="0.2">0.80</text>
<line x1="477.20" y1="474.6" x2="477.20" y2="476.6" stroke="#444" stroke-width="0.7"/>
<text x="477.20" y="487.3" font-size="8.8" fill="#2e3640" text-anchor="middle" stroke="#2e3640" stroke-width="0.2">0.70</text>
<line x1="509.10" y1="474.6" x2="509.10" y2="476.6" stroke="#444" stroke-width="0.7"/>
<text x="509.10" y="487.3" font-size="8.8" fill="#2e3640" text-anchor="middle" stroke="#2e3640" stroke-width="0.2">0.60</text>
<line x1="541.00" y1="474.6" x2="541.00" y2="476.6" stroke="#444" stroke-width="0.7"/>
<text x="541.00" y="487.3" font-size="8.8" fill="#2e3640" text-anchor="middle" stroke="#2e3640" stroke-width="0.2">0.50</text>
<line x1="572.90" y1="474.6" x2="572.90" y2="476.6" stroke="#444" stroke-width="0.7"/>
<text x="572.90" y="487.3" font-size="8.8" fill="#2e3640" text-anchor="middle" stroke="#2e3640" stroke-width="0.2">0.40</text>
<line x1="604.80" y1="474.6" x2="604.80" y2="476.6" stroke="#444" stroke-width="0.7"/>
<text x="604.80" y="487.3" font-size="8.8" fill="#2e3640" text-anchor="middle" stroke="#2e3640" stroke-width="0.2">0.30</text>
<line x1="636.70" y1="474.6" x2="636.70" y2="476.6" stroke="#444" stroke-width="0.7"/>
<text x="636.70" y="487.3" font-size="8.8" fill="#2e3640" text-anchor="middle" stroke="#2e3640" stroke-width="0.2">0.20</text>
<line x1="668.60" y1="474.6" x2="668.60" y2="476.6" stroke="#444" stroke-width="0.7"/>
<text x="668.60" y="487.3" font-size="8.8" fill="#2e3640" text-anchor="middle" stroke="#2e3640" stroke-width="0.2">0.10</text>
<line x1="700.50" y1="474.6" x2="700.50" y2="476.6" stroke="#444" stroke-width="0.7"/>
<text x="700.50" y="487.3" font-size="8.8" fill="#2e3640" text-anchor="middle" stroke="#2e3640" stroke-width="0.2">0.0</text>
<text x="357.9" y="512.4" font-size="15.75" font-weight="bold" fill="#111" transform="translate(357.9,0) scale(1.05,1) translate(-357.9,0)">(d)</text>
<rect x="471.2" y="579.46" width="44.20" height="96.84" fill="#ff0000" stroke="#222" stroke-width="0.6"/>
<rect x="540.0" y="607.56" width="43.90" height="68.74" fill="#0000ff" stroke="#222" stroke-width="0.6"/>
<rect x="608.7" y="582.34" width="44.40" height="93.96" fill="#0000ff" stroke="#222" stroke-width="0.6"/>
<line x1="630.9" y1="582.34" x2="630.9" y2="579.4" stroke="#222" stroke-width="0.7"/>
<line x1="620" y1="579.4" x2="642" y2="579.4" stroke="#222" stroke-width="0.8"/>
<rect x="458.5" y="510.0" width="206.80" height="166.30" fill="none" stroke="#3a3a3a" stroke-width="1"/>
<line x1="456.3" y1="676.30" x2="458.5" y2="676.30" stroke="#3a3a3a" stroke-width="0.8"/>
<text x="451.7" y="679.30" font-size="10.3" fill="#404040" text-anchor="end" transform="translate(451.7,0) scale(0.89,1) translate(-451.7,0)">0</text>
<line x1="457.3" y1="662.44" x2="458.5" y2="662.44" stroke="#3a3a3a" stroke-width="0.8"/>
<line x1="456.3" y1="648.58" x2="458.5" y2="648.58" stroke="#3a3a3a" stroke-width="0.8"/>
<text x="451.7" y="651.58" font-size="10.3" fill="#404040" text-anchor="end" transform="translate(451.7,0) scale(0.89,1) translate(-451.7,0)">5</text>
<line x1="457.3" y1="634.73" x2="458.5" y2="634.73" stroke="#3a3a3a" stroke-width="0.8"/>
<line x1="456.3" y1="620.87" x2="458.5" y2="620.87" stroke="#3a3a3a" stroke-width="0.8"/>
<text x="451.7" y="623.87" font-size="10.3" fill="#404040" text-anchor="end" transform="translate(451.7,0) scale(0.89,1) translate(-451.7,0)">10</text>
<line x1="457.3" y1="607.01" x2="458.5" y2="607.01" stroke="#3a3a3a" stroke-width="0.8"/>
<line x1="456.3" y1="593.15" x2="458.5" y2="593.15" stroke="#3a3a3a" stroke-width="0.8"/>
<text x="451.7" y="596.15" font-size="10.3" fill="#404040" text-anchor="end" transform="translate(451.7,0) scale(0.89,1) translate(-451.7,0)">15</text>
<line x1="457.3" y1="579.29" x2="458.5" y2="579.29" stroke="#3a3a3a" stroke-width="0.8"/>
<line x1="456.3" y1="565.43" x2="458.5" y2="565.43" stroke="#3a3a3a" stroke-width="0.8"/>
<text x="451.7" y="568.43" font-size="10.3" fill="#404040" text-anchor="end" transform="translate(451.7,0) scale(0.89,1) translate(-451.7,0)">20</text>
<line x1="457.3" y1="551.58" x2="458.5" y2="551.58" stroke="#3a3a3a" stroke-width="0.8"/>
<line x1="456.3" y1="537.72" x2="458.5" y2="537.72" stroke="#3a3a3a" stroke-width="0.8"/>
<text x="451.7" y="540.72" font-size="10.3" fill="#404040" text-anchor="end" transform="translate(451.7,0) scale(0.89,1) translate(-451.7,0)">25</text>
<line x1="457.3" y1="523.86" x2="458.5" y2="523.86" stroke="#3a3a3a" stroke-width="0.8"/>
<line x1="456.3" y1="510.00" x2="458.5" y2="510.00" stroke="#3a3a3a" stroke-width="0.8"/>
<text x="451.7" y="513.00" font-size="10.3" fill="#404040" text-anchor="end" transform="translate(451.7,0) scale(0.89,1) translate(-451.7,0)">30</text>
<line x1="493.3" y1="676.3" x2="493.3" y2="678.5" stroke="#3a3a3a" stroke-width="0.8"/>
<line x1="562.0" y1="676.3" x2="562.0" y2="678.5" stroke="#3a3a3a" stroke-width="0.8"/>
<line x1="630.9" y1="676.3" x2="630.9" y2="678.5" stroke="#3a3a3a" stroke-width="0.8"/>
<text x="497.5" y="691.1" font-size="10.4" fill="#222" text-anchor="middle">Actual</text>
<text x="561.0" y="691.3" font-size="10.4" fill="#222" text-anchor="middle">Approximated</text>
<text x="559.4" y="702.7" font-size="10.4" fill="#222" text-anchor="middle">(n = 2)</text>
<text x="631.8" y="691.3" font-size="10.4" fill="#222" text-anchor="middle">Approximated</text>
<text x="628.9" y="702.7" font-size="10.4" fill="#222" text-anchor="middle">(n = 8)</text>
<text transform="translate(433.6,592.2) rotate(-90)" font-size="10.5" fill="#333" text-anchor="middle">y-position of maximum strain (mm)</text>
</svg></body></html>
